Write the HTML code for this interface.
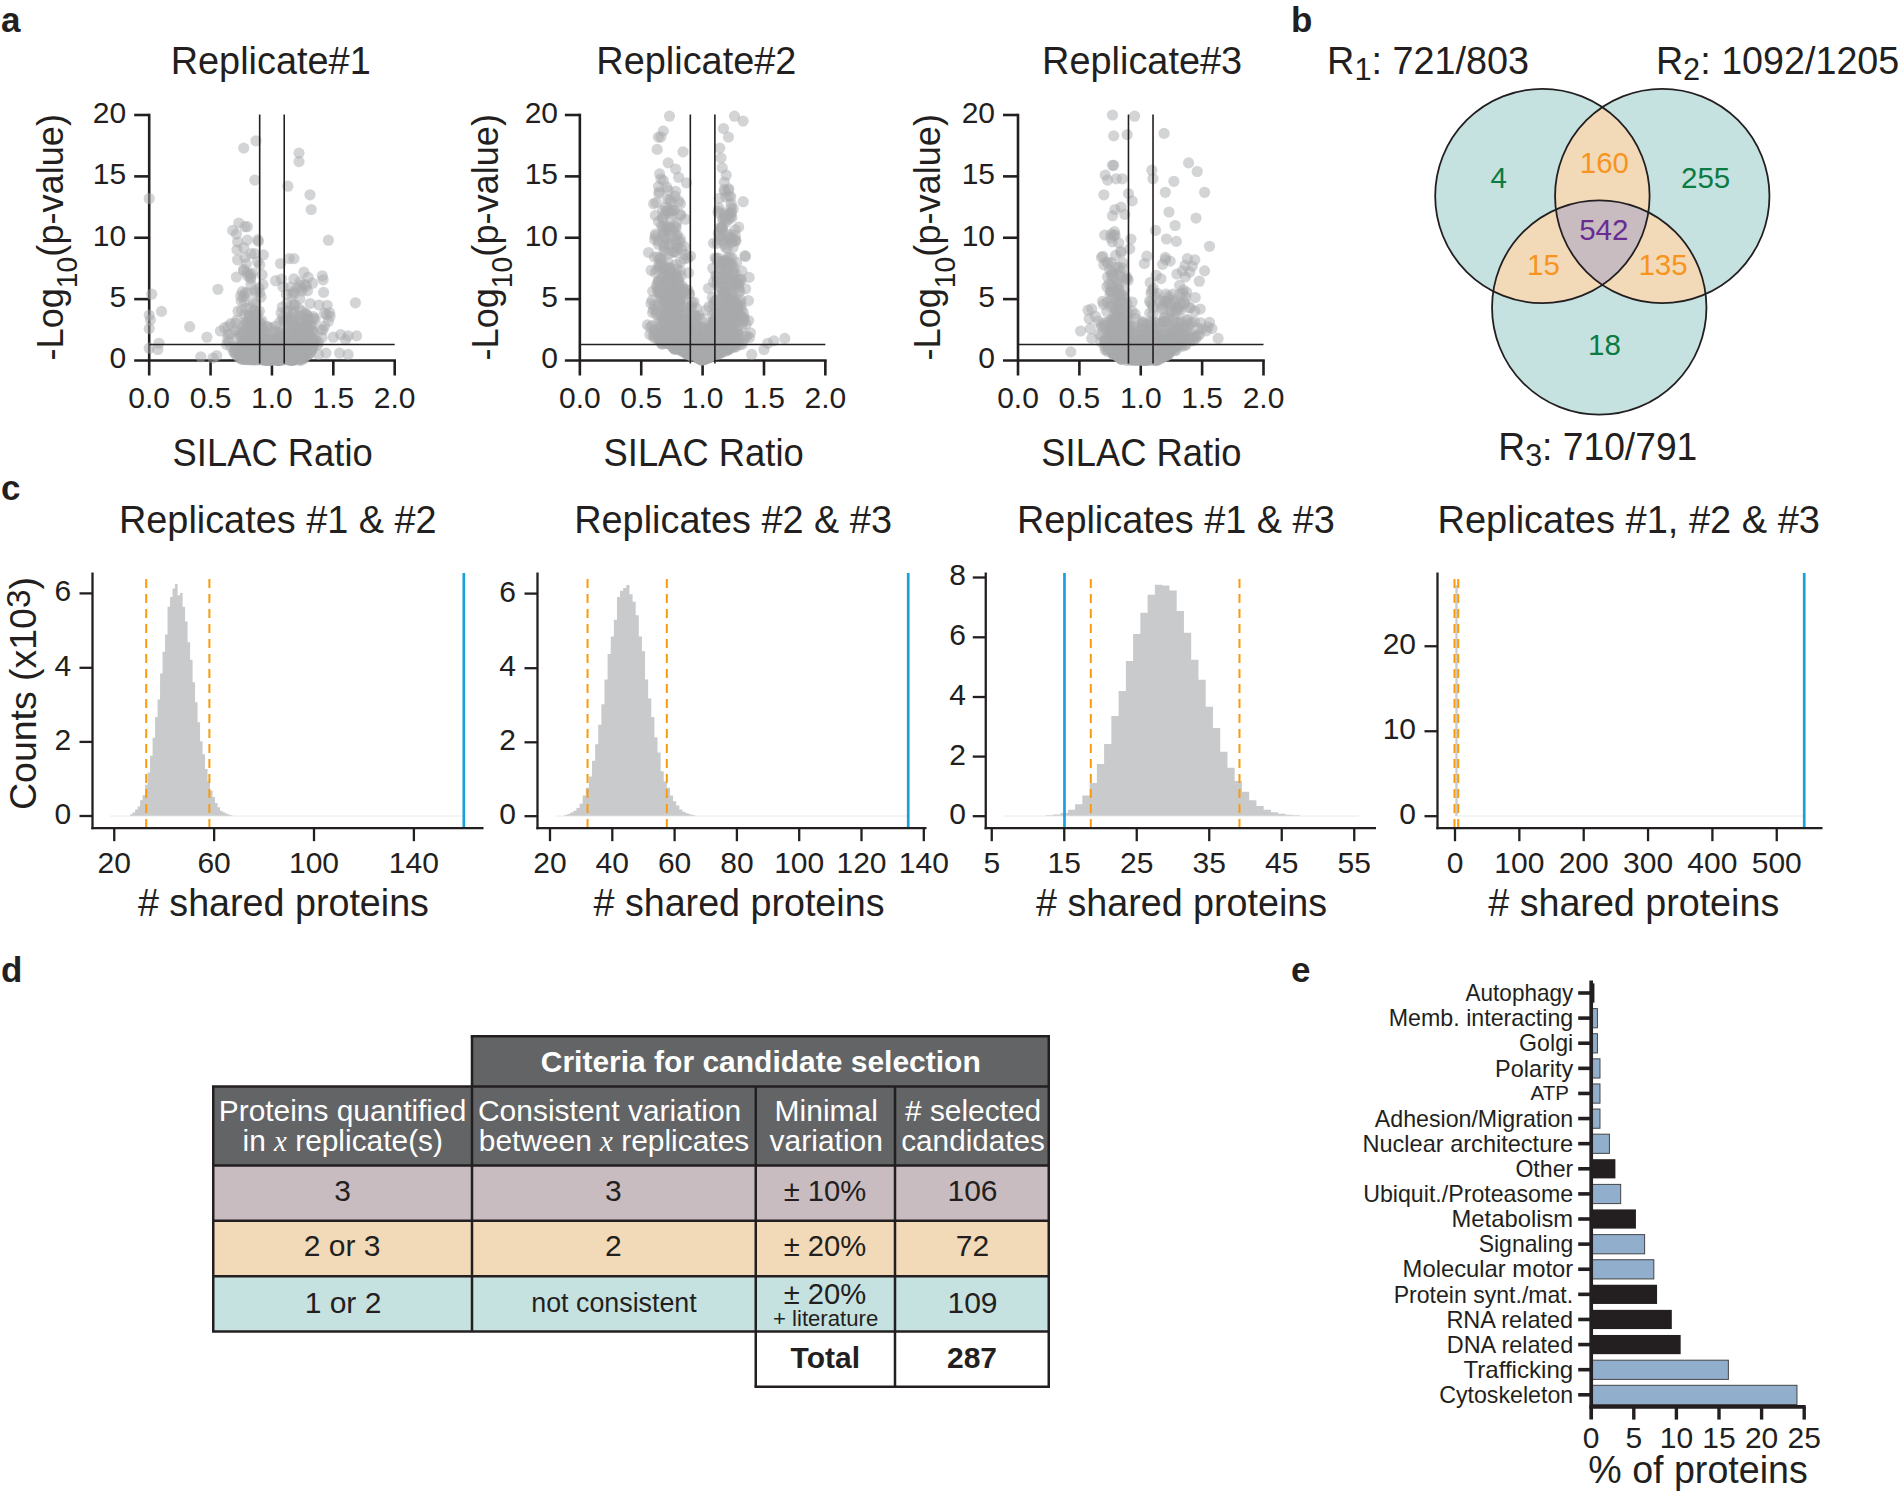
<!DOCTYPE html>
<html lang="en"><head><meta charset="utf-8"><title>Figure</title>
<style>html,body{margin:0;padding:0;background:#fff}svg{display:block}text{font-family:"Liberation Sans",Arial,Helvetica,sans-serif}</style></head>
<body>
<svg width="1900" height="1496" viewBox="0 0 1900 1496" fill="#231f20">
<rect width="1900" height="1496" fill="#ffffff"/>
<text x="1.00" y="32.00" font-size="35" font-weight="bold">a</text>
<text x="1291.00" y="32.00" font-size="35" font-weight="bold">b</text>
<text x="1.00" y="500.00" font-size="35" font-weight="bold">c</text>
<text x="1.00" y="981.50" font-size="35" font-weight="bold">d</text>
<text x="1291.00" y="981.50" font-size="35" font-weight="bold">e</text>
<line x1="149.20" y1="113.70" x2="149.20" y2="375.50" stroke="#231f20" stroke-width="2.6"/>
<line x1="134.20" y1="360.50" x2="396.00" y2="360.50" stroke="#231f20" stroke-width="2.6"/>
<line x1="134.20" y1="299.12" x2="149.20" y2="299.12" stroke="#231f20" stroke-width="2.6"/>
<line x1="134.20" y1="237.75" x2="149.20" y2="237.75" stroke="#231f20" stroke-width="2.6"/>
<line x1="134.20" y1="176.38" x2="149.20" y2="176.38" stroke="#231f20" stroke-width="2.6"/>
<line x1="134.20" y1="115.00" x2="149.20" y2="115.00" stroke="#231f20" stroke-width="2.6"/>
<line x1="210.57" y1="360.50" x2="210.57" y2="375.50" stroke="#231f20" stroke-width="2.6"/>
<line x1="271.95" y1="360.50" x2="271.95" y2="375.50" stroke="#231f20" stroke-width="2.6"/>
<line x1="333.32" y1="360.50" x2="333.32" y2="375.50" stroke="#231f20" stroke-width="2.6"/>
<line x1="394.70" y1="360.50" x2="394.70" y2="375.50" stroke="#231f20" stroke-width="2.6"/>
<g fill="#a7a9ac" fill-opacity="0.5">
<circle cx="261.7" cy="326.7" r="5.6"/><circle cx="247.7" cy="343.9" r="5.6"/><circle cx="302.7" cy="343.1" r="5.6"/><circle cx="248.2" cy="353.9" r="5.6"/><circle cx="264.1" cy="357.8" r="5.6"/><circle cx="299.7" cy="334.4" r="5.6"/><circle cx="248.8" cy="342.9" r="5.6"/><circle cx="249.3" cy="342.3" r="5.6"/><circle cx="297.2" cy="354.7" r="5.6"/><circle cx="266.2" cy="356.2" r="5.6"/><circle cx="283.7" cy="359.8" r="5.6"/><circle cx="257.5" cy="323.8" r="5.6"/><circle cx="258.4" cy="342.3" r="5.6"/><circle cx="313.6" cy="342.6" r="5.6"/><circle cx="252.1" cy="343.0" r="5.6"/><circle cx="254.9" cy="348.5" r="5.6"/><circle cx="282.4" cy="350.3" r="5.6"/><circle cx="282.7" cy="348.8" r="5.6"/><circle cx="249.7" cy="316.2" r="5.6"/><circle cx="269.0" cy="352.5" r="5.6"/><circle cx="265.5" cy="349.0" r="5.6"/><circle cx="238.3" cy="351.3" r="5.6"/><circle cx="293.6" cy="357.7" r="5.6"/><circle cx="275.8" cy="326.1" r="5.6"/><circle cx="266.9" cy="336.2" r="5.6"/><circle cx="289.7" cy="320.1" r="5.6"/><circle cx="269.6" cy="356.8" r="5.6"/><circle cx="283.7" cy="353.2" r="5.6"/><circle cx="302.5" cy="337.7" r="5.6"/><circle cx="291.9" cy="347.0" r="5.6"/><circle cx="238.0" cy="311.2" r="5.6"/><circle cx="253.0" cy="351.5" r="5.6"/><circle cx="310.7" cy="343.4" r="5.6"/><circle cx="266.6" cy="348.6" r="5.6"/><circle cx="248.6" cy="359.7" r="5.6"/><circle cx="249.9" cy="320.5" r="5.6"/><circle cx="261.1" cy="358.7" r="5.6"/><circle cx="278.2" cy="360.0" r="5.6"/><circle cx="253.7" cy="358.0" r="5.6"/><circle cx="292.1" cy="356.1" r="5.6"/><circle cx="261.1" cy="354.2" r="5.6"/><circle cx="254.0" cy="341.1" r="5.6"/><circle cx="271.2" cy="347.2" r="5.6"/><circle cx="306.6" cy="322.1" r="5.6"/><circle cx="281.2" cy="356.8" r="5.6"/><circle cx="295.5" cy="348.2" r="5.6"/><circle cx="288.8" cy="343.2" r="5.6"/><circle cx="301.4" cy="288.6" r="5.6"/><circle cx="306.2" cy="313.9" r="5.6"/><circle cx="277.4" cy="359.9" r="5.6"/><circle cx="251.8" cy="358.7" r="5.6"/><circle cx="290.3" cy="287.1" r="5.6"/><circle cx="259.8" cy="359.2" r="5.6"/><circle cx="283.9" cy="357.8" r="5.6"/><circle cx="299.6" cy="358.8" r="5.6"/><circle cx="271.7" cy="348.9" r="5.6"/><circle cx="253.1" cy="330.0" r="5.6"/><circle cx="252.5" cy="338.6" r="5.6"/><circle cx="295.1" cy="333.1" r="5.6"/><circle cx="256.2" cy="349.9" r="5.6"/><circle cx="294.3" cy="358.2" r="5.6"/><circle cx="286.4" cy="358.7" r="5.6"/><circle cx="279.9" cy="322.2" r="5.6"/><circle cx="263.5" cy="345.1" r="5.6"/><circle cx="251.1" cy="341.9" r="5.6"/><circle cx="250.7" cy="330.6" r="5.6"/><circle cx="294.8" cy="352.2" r="5.6"/><circle cx="230.0" cy="334.0" r="5.6"/><circle cx="282.7" cy="351.2" r="5.6"/><circle cx="293.2" cy="344.3" r="5.6"/><circle cx="268.4" cy="352.9" r="5.6"/><circle cx="270.3" cy="345.6" r="5.6"/><circle cx="299.8" cy="298.9" r="5.6"/><circle cx="302.4" cy="339.4" r="5.6"/><circle cx="256.4" cy="292.2" r="5.6"/><circle cx="277.7" cy="353.2" r="5.6"/><circle cx="247.0" cy="322.1" r="5.6"/><circle cx="293.1" cy="291.9" r="5.6"/><circle cx="289.5" cy="325.5" r="5.6"/><circle cx="242.5" cy="337.0" r="5.6"/><circle cx="271.3" cy="350.7" r="5.6"/><circle cx="265.5" cy="355.0" r="5.6"/><circle cx="277.0" cy="357.8" r="5.6"/><circle cx="260.4" cy="341.1" r="5.6"/><circle cx="286.9" cy="339.1" r="5.6"/><circle cx="287.9" cy="349.3" r="5.6"/><circle cx="265.0" cy="345.9" r="5.6"/><circle cx="259.0" cy="347.7" r="5.6"/><circle cx="303.1" cy="340.4" r="5.6"/><circle cx="279.6" cy="358.9" r="5.6"/><circle cx="323.0" cy="330.0" r="5.6"/><circle cx="277.6" cy="358.2" r="5.6"/><circle cx="238.1" cy="348.9" r="5.6"/><circle cx="279.9" cy="332.4" r="5.6"/><circle cx="277.6" cy="360.2" r="5.6"/><circle cx="268.7" cy="347.4" r="5.6"/><circle cx="244.6" cy="359.3" r="5.6"/><circle cx="290.4" cy="334.9" r="5.6"/><circle cx="271.3" cy="328.2" r="5.6"/><circle cx="265.3" cy="338.7" r="5.6"/><circle cx="275.0" cy="357.2" r="5.6"/><circle cx="276.5" cy="359.0" r="5.6"/><circle cx="287.8" cy="317.3" r="5.6"/><circle cx="289.9" cy="358.3" r="5.6"/><circle cx="280.3" cy="357.0" r="5.6"/><circle cx="306.6" cy="334.8" r="5.6"/><circle cx="310.7" cy="342.9" r="5.6"/><circle cx="285.7" cy="332.2" r="5.6"/><circle cx="283.7" cy="320.8" r="5.6"/><circle cx="292.1" cy="360.3" r="5.6"/><circle cx="294.4" cy="353.5" r="5.6"/><circle cx="310.0" cy="353.4" r="5.6"/><circle cx="294.7" cy="304.5" r="5.6"/><circle cx="287.0" cy="303.0" r="5.6"/><circle cx="251.9" cy="328.7" r="5.6"/><circle cx="257.9" cy="239.7" r="5.6"/><circle cx="291.6" cy="348.6" r="5.6"/><circle cx="247.0" cy="352.3" r="5.6"/><circle cx="283.5" cy="356.5" r="5.6"/><circle cx="228.6" cy="341.9" r="5.6"/><circle cx="240.6" cy="347.5" r="5.6"/><circle cx="272.8" cy="352.1" r="5.6"/><circle cx="270.9" cy="355.4" r="5.6"/><circle cx="256.7" cy="356.6" r="5.6"/><circle cx="256.3" cy="353.8" r="5.6"/><circle cx="287.6" cy="347.2" r="5.6"/><circle cx="245.0" cy="351.3" r="5.6"/><circle cx="282.7" cy="356.8" r="5.6"/><circle cx="294.9" cy="348.4" r="5.6"/><circle cx="263.9" cy="357.2" r="5.6"/><circle cx="252.7" cy="358.9" r="5.6"/><circle cx="307.6" cy="324.3" r="5.6"/><circle cx="314.6" cy="340.1" r="5.6"/><circle cx="292.5" cy="360.3" r="5.6"/><circle cx="277.2" cy="340.9" r="5.6"/><circle cx="250.3" cy="329.2" r="5.6"/><circle cx="304.6" cy="352.1" r="5.6"/><circle cx="307.7" cy="315.7" r="5.6"/><circle cx="256.0" cy="325.4" r="5.6"/><circle cx="259.6" cy="356.3" r="5.6"/><circle cx="278.9" cy="351.3" r="5.6"/><circle cx="253.1" cy="356.0" r="5.6"/><circle cx="250.9" cy="348.5" r="5.6"/><circle cx="258.0" cy="332.4" r="5.6"/><circle cx="305.7" cy="334.3" r="5.6"/><circle cx="266.6" cy="360.4" r="5.6"/><circle cx="268.2" cy="359.6" r="5.6"/><circle cx="258.0" cy="345.2" r="5.6"/><circle cx="286.1" cy="359.4" r="5.6"/><circle cx="251.3" cy="341.6" r="5.6"/><circle cx="308.6" cy="333.3" r="5.6"/><circle cx="243.3" cy="350.7" r="5.6"/><circle cx="301.2" cy="321.9" r="5.6"/><circle cx="274.9" cy="331.7" r="5.6"/><circle cx="293.9" cy="278.9" r="5.6"/><circle cx="268.9" cy="354.1" r="5.6"/><circle cx="247.2" cy="340.7" r="5.6"/><circle cx="298.4" cy="354.7" r="5.6"/><circle cx="280.5" cy="349.8" r="5.6"/><circle cx="271.1" cy="351.5" r="5.6"/><circle cx="294.2" cy="293.9" r="5.6"/><circle cx="291.9" cy="335.0" r="5.6"/><circle cx="235.6" cy="330.9" r="5.6"/><circle cx="306.1" cy="339.6" r="5.6"/><circle cx="301.0" cy="338.9" r="5.6"/><circle cx="278.2" cy="353.3" r="5.6"/><circle cx="260.3" cy="350.5" r="5.6"/><circle cx="312.3" cy="331.4" r="5.6"/><circle cx="250.6" cy="352.5" r="5.6"/><circle cx="304.8" cy="340.6" r="5.6"/><circle cx="285.2" cy="351.2" r="5.6"/><circle cx="274.6" cy="340.4" r="5.6"/><circle cx="259.3" cy="332.0" r="5.6"/><circle cx="307.1" cy="355.0" r="5.6"/><circle cx="285.6" cy="351.3" r="5.6"/><circle cx="264.5" cy="353.3" r="5.6"/><circle cx="230.7" cy="323.6" r="5.6"/><circle cx="245.9" cy="347.0" r="5.6"/><circle cx="256.4" cy="355.3" r="5.6"/><circle cx="280.5" cy="347.0" r="5.6"/><circle cx="298.5" cy="341.9" r="5.6"/><circle cx="299.9" cy="346.0" r="5.6"/><circle cx="287.9" cy="357.0" r="5.6"/><circle cx="289.9" cy="351.4" r="5.6"/><circle cx="288.1" cy="348.5" r="5.6"/><circle cx="299.7" cy="315.9" r="5.6"/><circle cx="272.2" cy="360.4" r="5.6"/><circle cx="272.2" cy="355.8" r="5.6"/><circle cx="305.1" cy="351.6" r="5.6"/><circle cx="297.6" cy="336.9" r="5.6"/><circle cx="253.8" cy="356.5" r="5.6"/><circle cx="299.1" cy="340.0" r="5.6"/><circle cx="243.3" cy="355.2" r="5.6"/><circle cx="259.5" cy="333.0" r="5.6"/><circle cx="276.0" cy="360.2" r="5.6"/><circle cx="228.1" cy="334.2" r="5.6"/><circle cx="309.4" cy="343.9" r="5.6"/><circle cx="268.3" cy="358.7" r="5.6"/><circle cx="279.9" cy="343.9" r="5.6"/><circle cx="293.8" cy="358.9" r="5.6"/><circle cx="302.9" cy="350.1" r="5.6"/><circle cx="279.3" cy="357.0" r="5.6"/><circle cx="296.7" cy="333.6" r="5.6"/><circle cx="297.9" cy="355.3" r="5.6"/><circle cx="278.5" cy="338.3" r="5.6"/><circle cx="258.0" cy="346.1" r="5.6"/><circle cx="293.2" cy="313.2" r="5.6"/><circle cx="294.1" cy="350.5" r="5.6"/><circle cx="268.2" cy="360.4" r="5.6"/><circle cx="302.4" cy="347.3" r="5.6"/><circle cx="246.2" cy="341.2" r="5.6"/><circle cx="250.9" cy="342.1" r="5.6"/><circle cx="312.1" cy="346.7" r="5.6"/><circle cx="253.2" cy="340.7" r="5.6"/><circle cx="270.8" cy="358.1" r="5.6"/><circle cx="298.7" cy="341.1" r="5.6"/><circle cx="275.6" cy="358.5" r="5.6"/><circle cx="293.3" cy="326.6" r="5.6"/><circle cx="244.7" cy="314.8" r="5.6"/><circle cx="319.0" cy="305.0" r="5.6"/><circle cx="245.4" cy="292.9" r="5.6"/><circle cx="238.2" cy="353.4" r="5.6"/><circle cx="257.1" cy="351.1" r="5.6"/><circle cx="303.9" cy="345.3" r="5.6"/><circle cx="253.2" cy="358.0" r="5.6"/><circle cx="299.0" cy="320.6" r="5.6"/><circle cx="254.4" cy="355.7" r="5.6"/><circle cx="299.5" cy="309.1" r="5.6"/><circle cx="284.1" cy="351.3" r="5.6"/><circle cx="273.4" cy="351.9" r="5.6"/><circle cx="262.1" cy="350.8" r="5.6"/><circle cx="244.7" cy="354.7" r="5.6"/><circle cx="265.9" cy="352.9" r="5.6"/><circle cx="273.2" cy="357.2" r="5.6"/><circle cx="246.7" cy="357.7" r="5.6"/><circle cx="251.8" cy="346.1" r="5.6"/><circle cx="278.5" cy="360.1" r="5.6"/><circle cx="256.3" cy="332.6" r="5.6"/><circle cx="287.5" cy="311.2" r="5.6"/><circle cx="271.2" cy="353.5" r="5.6"/><circle cx="282.5" cy="345.6" r="5.6"/><circle cx="262.1" cy="359.3" r="5.6"/><circle cx="296.4" cy="353.4" r="5.6"/><circle cx="251.2" cy="355.6" r="5.6"/><circle cx="267.5" cy="358.7" r="5.6"/><circle cx="268.9" cy="340.5" r="5.6"/><circle cx="299.5" cy="341.1" r="5.6"/><circle cx="243.8" cy="359.2" r="5.6"/><circle cx="278.9" cy="360.0" r="5.6"/><circle cx="305.2" cy="327.3" r="5.6"/><circle cx="293.7" cy="351.6" r="5.6"/><circle cx="291.5" cy="346.2" r="5.6"/><circle cx="283.8" cy="347.3" r="5.6"/><circle cx="252.9" cy="353.7" r="5.6"/><circle cx="308.3" cy="345.7" r="5.6"/><circle cx="302.3" cy="355.8" r="5.6"/><circle cx="279.6" cy="356.6" r="5.6"/><circle cx="293.1" cy="333.6" r="5.6"/><circle cx="292.1" cy="346.7" r="5.6"/><circle cx="251.5" cy="350.9" r="5.6"/><circle cx="286.3" cy="311.1" r="5.6"/><circle cx="258.6" cy="346.9" r="5.6"/><circle cx="235.4" cy="323.2" r="5.6"/><circle cx="246.1" cy="350.9" r="5.6"/><circle cx="298.2" cy="352.9" r="5.6"/><circle cx="279.8" cy="356.9" r="5.6"/><circle cx="233.9" cy="351.5" r="5.6"/><circle cx="288.6" cy="347.6" r="5.6"/><circle cx="296.4" cy="355.6" r="5.6"/><circle cx="256.5" cy="344.6" r="5.6"/><circle cx="313.5" cy="316.5" r="5.6"/><circle cx="239.2" cy="335.1" r="5.6"/><circle cx="305.0" cy="343.4" r="5.6"/><circle cx="277.6" cy="349.3" r="5.6"/><circle cx="289.0" cy="345.8" r="5.6"/><circle cx="241.7" cy="355.2" r="5.6"/><circle cx="249.2" cy="340.4" r="5.6"/><circle cx="281.2" cy="339.8" r="5.6"/><circle cx="256.6" cy="347.8" r="5.6"/><circle cx="303.0" cy="353.3" r="5.6"/><circle cx="251.0" cy="284.7" r="5.6"/><circle cx="291.2" cy="354.6" r="5.6"/><circle cx="299.2" cy="351.4" r="5.6"/><circle cx="291.7" cy="341.1" r="5.6"/><circle cx="280.0" cy="359.2" r="5.6"/><circle cx="300.7" cy="327.9" r="5.6"/><circle cx="282.3" cy="307.0" r="5.6"/><circle cx="297.5" cy="288.1" r="5.6"/><circle cx="247.5" cy="344.6" r="5.6"/><circle cx="284.9" cy="356.2" r="5.6"/><circle cx="278.3" cy="350.4" r="5.6"/><circle cx="280.5" cy="360.3" r="5.6"/><circle cx="278.0" cy="359.8" r="5.6"/><circle cx="258.4" cy="332.8" r="5.6"/><circle cx="291.2" cy="356.0" r="5.6"/><circle cx="246.0" cy="351.8" r="5.6"/><circle cx="266.8" cy="348.9" r="5.6"/><circle cx="274.4" cy="349.8" r="5.6"/><circle cx="237.0" cy="249.8" r="5.6"/><circle cx="274.7" cy="351.7" r="5.6"/><circle cx="257.0" cy="357.7" r="5.6"/><circle cx="296.8" cy="340.9" r="5.6"/><circle cx="277.6" cy="355.4" r="5.6"/><circle cx="246.3" cy="263.9" r="5.6"/><circle cx="294.1" cy="360.1" r="5.6"/><circle cx="267.9" cy="326.6" r="5.6"/><circle cx="255.9" cy="337.3" r="5.6"/><circle cx="286.5" cy="339.3" r="5.6"/><circle cx="292.3" cy="338.6" r="5.6"/><circle cx="289.3" cy="358.3" r="5.6"/><circle cx="266.5" cy="326.8" r="5.6"/><circle cx="291.9" cy="304.8" r="5.6"/><circle cx="265.5" cy="348.9" r="5.6"/><circle cx="301.2" cy="345.0" r="5.6"/><circle cx="284.9" cy="341.9" r="5.6"/><circle cx="278.4" cy="360.0" r="5.6"/><circle cx="286.8" cy="320.2" r="5.6"/><circle cx="289.1" cy="359.7" r="5.6"/><circle cx="297.2" cy="331.4" r="5.6"/><circle cx="295.4" cy="357.1" r="5.6"/><circle cx="261.5" cy="359.5" r="5.6"/><circle cx="248.3" cy="348.6" r="5.6"/><circle cx="263.7" cy="357.3" r="5.6"/><circle cx="246.2" cy="326.2" r="5.6"/><circle cx="284.0" cy="350.3" r="5.6"/><circle cx="267.3" cy="349.4" r="5.6"/><circle cx="296.3" cy="347.0" r="5.6"/><circle cx="255.4" cy="353.5" r="5.6"/><circle cx="282.5" cy="354.6" r="5.6"/><circle cx="308.2" cy="277.3" r="5.6"/><circle cx="266.7" cy="350.6" r="5.6"/><circle cx="244.9" cy="349.3" r="5.6"/><circle cx="301.8" cy="352.8" r="5.6"/><circle cx="290.3" cy="318.3" r="5.6"/><circle cx="275.6" cy="359.9" r="5.6"/><circle cx="305.5" cy="313.9" r="5.6"/><circle cx="261.3" cy="352.0" r="5.6"/><circle cx="252.7" cy="352.7" r="5.6"/><circle cx="251.2" cy="346.1" r="5.6"/><circle cx="266.2" cy="353.9" r="5.6"/><circle cx="268.6" cy="360.2" r="5.6"/><circle cx="266.0" cy="354.3" r="5.6"/><circle cx="284.3" cy="347.4" r="5.6"/><circle cx="273.1" cy="355.8" r="5.6"/><circle cx="253.2" cy="359.0" r="5.6"/><circle cx="259.6" cy="348.0" r="5.6"/><circle cx="263.2" cy="338.0" r="5.6"/><circle cx="292.0" cy="342.3" r="5.6"/><circle cx="277.6" cy="358.6" r="5.6"/><circle cx="230.8" cy="346.8" r="5.6"/><circle cx="270.8" cy="343.7" r="5.6"/><circle cx="305.0" cy="284.6" r="5.6"/><circle cx="292.3" cy="335.2" r="5.6"/><circle cx="291.8" cy="294.0" r="5.6"/><circle cx="297.1" cy="336.3" r="5.6"/><circle cx="310.7" cy="346.9" r="5.6"/><circle cx="241.5" cy="310.4" r="5.6"/><circle cx="278.6" cy="360.4" r="5.6"/><circle cx="296.9" cy="325.6" r="5.6"/><circle cx="287.9" cy="353.1" r="5.6"/><circle cx="247.3" cy="359.7" r="5.6"/><circle cx="294.1" cy="347.0" r="5.6"/><circle cx="246.9" cy="346.5" r="5.6"/><circle cx="242.7" cy="343.6" r="5.6"/><circle cx="255.0" cy="338.3" r="5.6"/><circle cx="247.1" cy="272.5" r="5.6"/><circle cx="288.6" cy="349.8" r="5.6"/><circle cx="254.3" cy="344.0" r="5.6"/><circle cx="234.0" cy="352.0" r="5.6"/><circle cx="299.7" cy="328.8" r="5.6"/><circle cx="301.4" cy="350.8" r="5.6"/><circle cx="253.6" cy="354.8" r="5.6"/><circle cx="251.3" cy="339.2" r="5.6"/><circle cx="248.5" cy="343.6" r="5.6"/><circle cx="285.9" cy="343.2" r="5.6"/><circle cx="307.5" cy="341.8" r="5.6"/><circle cx="297.5" cy="342.9" r="5.6"/><circle cx="237.6" cy="242.0" r="5.6"/><circle cx="284.8" cy="321.7" r="5.6"/><circle cx="288.2" cy="352.4" r="5.6"/><circle cx="268.9" cy="356.6" r="5.6"/><circle cx="303.9" cy="336.6" r="5.6"/><circle cx="243.6" cy="269.4" r="5.6"/><circle cx="259.3" cy="355.2" r="5.6"/><circle cx="262.2" cy="354.0" r="5.6"/><circle cx="318.5" cy="342.2" r="5.6"/><circle cx="249.0" cy="344.1" r="5.6"/><circle cx="277.2" cy="360.0" r="5.6"/><circle cx="260.2" cy="357.8" r="5.6"/><circle cx="293.2" cy="359.8" r="5.6"/><circle cx="250.7" cy="278.8" r="5.6"/><circle cx="287.2" cy="357.9" r="5.6"/><circle cx="256.9" cy="346.0" r="5.6"/><circle cx="300.5" cy="343.6" r="5.6"/><circle cx="265.6" cy="357.7" r="5.6"/><circle cx="282.6" cy="317.8" r="5.6"/><circle cx="286.5" cy="345.4" r="5.6"/><circle cx="292.0" cy="350.0" r="5.6"/><circle cx="324.5" cy="326.1" r="5.6"/><circle cx="306.9" cy="346.3" r="5.6"/><circle cx="300.6" cy="355.9" r="5.6"/><circle cx="259.7" cy="322.0" r="5.6"/><circle cx="295.5" cy="343.9" r="5.6"/><circle cx="302.7" cy="344.3" r="5.6"/><circle cx="250.5" cy="343.8" r="5.6"/><circle cx="253.2" cy="326.8" r="5.6"/><circle cx="276.7" cy="351.7" r="5.6"/><circle cx="251.8" cy="359.4" r="5.6"/><circle cx="300.3" cy="352.8" r="5.6"/><circle cx="279.2" cy="357.3" r="5.6"/><circle cx="258.8" cy="354.1" r="5.6"/><circle cx="314.0" cy="318.4" r="5.6"/><circle cx="310.5" cy="326.1" r="5.6"/><circle cx="303.5" cy="335.2" r="5.6"/><circle cx="268.8" cy="357.5" r="5.6"/><circle cx="257.4" cy="357.7" r="5.6"/><circle cx="250.8" cy="341.9" r="5.6"/><circle cx="258.4" cy="353.2" r="5.6"/><circle cx="263.7" cy="353.3" r="5.6"/><circle cx="301.3" cy="345.2" r="5.6"/><circle cx="323.6" cy="292.4" r="5.6"/><circle cx="299.5" cy="345.9" r="5.6"/><circle cx="310.1" cy="303.5" r="5.6"/><circle cx="278.4" cy="360.5" r="5.6"/><circle cx="244.4" cy="358.4" r="5.6"/><circle cx="239.9" cy="346.3" r="5.6"/><circle cx="281.1" cy="360.1" r="5.6"/><circle cx="239.1" cy="353.2" r="5.6"/><circle cx="330.1" cy="316.3" r="5.6"/><circle cx="265.8" cy="345.4" r="5.6"/><circle cx="297.2" cy="343.1" r="5.6"/><circle cx="292.3" cy="354.6" r="5.6"/><circle cx="253.5" cy="337.9" r="5.6"/><circle cx="276.8" cy="359.5" r="5.6"/><circle cx="312.9" cy="339.9" r="5.6"/><circle cx="255.5" cy="335.0" r="5.6"/><circle cx="307.8" cy="319.6" r="5.6"/><circle cx="260.3" cy="341.4" r="5.6"/><circle cx="296.4" cy="357.4" r="5.6"/><circle cx="278.6" cy="356.7" r="5.6"/><circle cx="302.1" cy="291.0" r="5.6"/><circle cx="248.4" cy="345.8" r="5.6"/><circle cx="279.0" cy="355.0" r="5.6"/><circle cx="242.4" cy="357.7" r="5.6"/><circle cx="287.6" cy="353.4" r="5.6"/><circle cx="240.4" cy="352.8" r="5.6"/><circle cx="244.9" cy="352.6" r="5.6"/><circle cx="267.2" cy="358.3" r="5.6"/><circle cx="256.1" cy="353.5" r="5.6"/><circle cx="284.3" cy="357.5" r="5.6"/><circle cx="256.2" cy="319.7" r="5.6"/><circle cx="289.6" cy="333.0" r="5.6"/><circle cx="262.1" cy="330.6" r="5.6"/><circle cx="275.4" cy="351.2" r="5.6"/><circle cx="259.8" cy="292.8" r="5.6"/><circle cx="257.4" cy="359.7" r="5.6"/><circle cx="301.7" cy="340.1" r="5.6"/><circle cx="255.5" cy="358.0" r="5.6"/><circle cx="253.7" cy="359.1" r="5.6"/><circle cx="224.6" cy="327.7" r="5.6"/><circle cx="280.1" cy="342.9" r="5.6"/><circle cx="236.8" cy="320.4" r="5.6"/><circle cx="255.3" cy="351.7" r="5.6"/><circle cx="301.3" cy="359.4" r="5.6"/><circle cx="277.6" cy="356.8" r="5.6"/><circle cx="294.0" cy="348.2" r="5.6"/><circle cx="245.5" cy="353.9" r="5.6"/><circle cx="285.5" cy="344.8" r="5.6"/><circle cx="249.6" cy="354.1" r="5.6"/><circle cx="248.6" cy="355.0" r="5.6"/><circle cx="291.9" cy="356.1" r="5.6"/><circle cx="286.6" cy="337.5" r="5.6"/><circle cx="296.9" cy="357.8" r="5.6"/><circle cx="268.9" cy="347.7" r="5.6"/><circle cx="298.8" cy="341.3" r="5.6"/><circle cx="283.1" cy="358.7" r="5.6"/><circle cx="298.7" cy="354.2" r="5.6"/><circle cx="266.3" cy="341.5" r="5.6"/><circle cx="251.7" cy="324.1" r="5.6"/><circle cx="244.4" cy="330.4" r="5.6"/><circle cx="260.3" cy="323.2" r="5.6"/><circle cx="280.8" cy="351.2" r="5.6"/><circle cx="241.7" cy="354.4" r="5.6"/><circle cx="265.0" cy="357.9" r="5.6"/><circle cx="295.1" cy="358.2" r="5.6"/><circle cx="255.6" cy="355.3" r="5.6"/><circle cx="268.5" cy="352.3" r="5.6"/><circle cx="304.2" cy="357.9" r="5.6"/><circle cx="255.1" cy="314.5" r="5.6"/><circle cx="259.3" cy="357.4" r="5.6"/><circle cx="315.9" cy="339.2" r="5.6"/><circle cx="306.3" cy="329.0" r="5.6"/><circle cx="283.1" cy="336.2" r="5.6"/><circle cx="292.9" cy="353.7" r="5.6"/><circle cx="280.8" cy="332.3" r="5.6"/><circle cx="291.4" cy="353.2" r="5.6"/><circle cx="293.5" cy="338.0" r="5.6"/><circle cx="251.7" cy="338.0" r="5.6"/><circle cx="268.3" cy="353.7" r="5.6"/><circle cx="299.7" cy="319.6" r="5.6"/><circle cx="294.6" cy="305.1" r="5.6"/><circle cx="257.9" cy="341.6" r="5.6"/><circle cx="273.2" cy="339.1" r="5.6"/><circle cx="260.2" cy="358.7" r="5.6"/><circle cx="241.1" cy="355.9" r="5.6"/><circle cx="247.9" cy="331.5" r="5.6"/><circle cx="308.4" cy="349.1" r="5.6"/><circle cx="306.1" cy="350.7" r="5.6"/><circle cx="277.7" cy="358.1" r="5.6"/><circle cx="294.2" cy="348.2" r="5.6"/><circle cx="270.0" cy="360.3" r="5.6"/><circle cx="235.5" cy="347.7" r="5.6"/><circle cx="243.9" cy="325.3" r="5.6"/><circle cx="308.7" cy="344.1" r="5.6"/><circle cx="251.7" cy="348.7" r="5.6"/><circle cx="302.7" cy="357.4" r="5.6"/><circle cx="238.6" cy="350.9" r="5.6"/><circle cx="245.6" cy="359.2" r="5.6"/><circle cx="255.5" cy="350.7" r="5.6"/><circle cx="295.2" cy="333.6" r="5.6"/><circle cx="261.8" cy="351.7" r="5.6"/><circle cx="262.6" cy="358.2" r="5.6"/><circle cx="291.7" cy="355.7" r="5.6"/><circle cx="251.3" cy="350.8" r="5.6"/><circle cx="255.9" cy="303.8" r="5.6"/><circle cx="249.9" cy="351.8" r="5.6"/><circle cx="247.2" cy="345.0" r="5.6"/><circle cx="271.0" cy="359.8" r="5.6"/><circle cx="242.3" cy="291.6" r="5.6"/><circle cx="228.1" cy="326.5" r="5.6"/><circle cx="269.7" cy="358.0" r="5.6"/><circle cx="245.0" cy="342.9" r="5.6"/><circle cx="312.4" cy="338.8" r="5.6"/><circle cx="251.8" cy="340.7" r="5.6"/><circle cx="248.8" cy="350.9" r="5.6"/><circle cx="265.4" cy="356.3" r="5.6"/><circle cx="296.2" cy="343.9" r="5.6"/><circle cx="293.6" cy="355.6" r="5.6"/><circle cx="303.3" cy="354.8" r="5.6"/><circle cx="263.0" cy="284.6" r="5.6"/><circle cx="255.2" cy="338.9" r="5.6"/><circle cx="291.6" cy="350.5" r="5.6"/><circle cx="259.3" cy="345.1" r="5.6"/><circle cx="252.0" cy="339.0" r="5.6"/><circle cx="274.4" cy="344.9" r="5.6"/><circle cx="262.8" cy="360.1" r="5.6"/><circle cx="279.8" cy="356.5" r="5.6"/><circle cx="273.6" cy="358.6" r="5.6"/><circle cx="273.5" cy="357.2" r="5.6"/><circle cx="294.0" cy="353.2" r="5.6"/><circle cx="266.2" cy="355.9" r="5.6"/><circle cx="241.5" cy="332.4" r="5.6"/><circle cx="247.3" cy="240.1" r="5.6"/><circle cx="241.8" cy="358.1" r="5.6"/><circle cx="252.8" cy="340.3" r="5.6"/><circle cx="293.2" cy="356.7" r="5.6"/><circle cx="256.0" cy="348.9" r="5.6"/><circle cx="302.1" cy="356.1" r="5.6"/><circle cx="250.6" cy="329.5" r="5.6"/><circle cx="278.5" cy="345.9" r="5.6"/><circle cx="258.3" cy="352.9" r="5.6"/><circle cx="241.2" cy="300.9" r="5.6"/><circle cx="275.1" cy="348.6" r="5.6"/><circle cx="251.9" cy="352.0" r="5.6"/><circle cx="264.9" cy="360.4" r="5.6"/><circle cx="299.0" cy="347.2" r="5.6"/><circle cx="312.0" cy="330.5" r="5.6"/><circle cx="288.4" cy="353.4" r="5.6"/><circle cx="249.3" cy="351.2" r="5.6"/><circle cx="282.3" cy="351.8" r="5.6"/><circle cx="274.5" cy="359.4" r="5.6"/><circle cx="305.5" cy="349.4" r="5.6"/><circle cx="248.8" cy="337.9" r="5.6"/><circle cx="262.0" cy="347.0" r="5.6"/><circle cx="245.6" cy="355.3" r="5.6"/><circle cx="291.0" cy="356.0" r="5.6"/><circle cx="244.6" cy="334.9" r="5.6"/><circle cx="322.0" cy="337.4" r="5.6"/><circle cx="246.0" cy="321.4" r="5.6"/><circle cx="250.3" cy="274.5" r="5.6"/><circle cx="257.2" cy="313.4" r="5.6"/><circle cx="240.9" cy="354.8" r="5.6"/><circle cx="257.3" cy="350.8" r="5.6"/><circle cx="245.5" cy="351.9" r="5.6"/><circle cx="250.1" cy="307.7" r="5.6"/><circle cx="290.2" cy="347.0" r="5.6"/><circle cx="290.5" cy="350.9" r="5.6"/><circle cx="251.9" cy="339.2" r="5.6"/><circle cx="259.2" cy="350.3" r="5.6"/><circle cx="254.8" cy="310.6" r="5.6"/><circle cx="245.2" cy="344.2" r="5.6"/><circle cx="268.5" cy="353.7" r="5.6"/><circle cx="247.7" cy="323.0" r="5.6"/><circle cx="307.5" cy="290.7" r="5.6"/><circle cx="269.1" cy="356.3" r="5.6"/><circle cx="251.2" cy="332.0" r="5.6"/><circle cx="240.3" cy="353.4" r="5.6"/><circle cx="255.2" cy="290.0" r="5.6"/><circle cx="281.1" cy="312.9" r="5.6"/><circle cx="227.6" cy="338.6" r="5.6"/><circle cx="308.6" cy="354.1" r="5.6"/><circle cx="264.7" cy="349.1" r="5.6"/><circle cx="255.0" cy="348.1" r="5.6"/><circle cx="279.4" cy="359.8" r="5.6"/><circle cx="270.9" cy="359.0" r="5.6"/><circle cx="258.5" cy="359.9" r="5.6"/><circle cx="304.1" cy="358.5" r="5.6"/><circle cx="273.1" cy="357.8" r="5.6"/><circle cx="310.1" cy="349.0" r="5.6"/><circle cx="269.4" cy="354.3" r="5.6"/><circle cx="261.3" cy="344.9" r="5.6"/><circle cx="281.7" cy="350.7" r="5.6"/><circle cx="299.7" cy="327.1" r="5.6"/><circle cx="284.3" cy="355.0" r="5.6"/><circle cx="324.5" cy="313.2" r="5.6"/><circle cx="249.5" cy="314.8" r="5.6"/><circle cx="235.8" cy="354.4" r="5.6"/><circle cx="261.9" cy="347.7" r="5.6"/><circle cx="302.2" cy="311.4" r="5.6"/><circle cx="317.4" cy="345.0" r="5.6"/><circle cx="287.5" cy="356.7" r="5.6"/><circle cx="243.8" cy="350.7" r="5.6"/><circle cx="302.7" cy="349.5" r="5.6"/><circle cx="272.0" cy="353.9" r="5.6"/><circle cx="300.2" cy="352.6" r="5.6"/><circle cx="257.5" cy="261.8" r="5.6"/><circle cx="306.8" cy="335.2" r="5.6"/><circle cx="297.1" cy="358.5" r="5.6"/><circle cx="256.1" cy="344.6" r="5.6"/><circle cx="285.9" cy="342.9" r="5.6"/><circle cx="253.1" cy="346.3" r="5.6"/><circle cx="271.5" cy="352.0" r="5.6"/><circle cx="287.1" cy="354.7" r="5.6"/><circle cx="270.8" cy="352.0" r="5.6"/><circle cx="237.2" cy="338.4" r="5.6"/><circle cx="264.4" cy="344.9" r="5.6"/><circle cx="279.9" cy="336.5" r="5.6"/><circle cx="251.6" cy="355.8" r="5.6"/><circle cx="293.7" cy="352.4" r="5.6"/><circle cx="273.3" cy="359.6" r="5.6"/><circle cx="291.3" cy="341.6" r="5.6"/><circle cx="257.6" cy="332.1" r="5.6"/><circle cx="288.6" cy="354.4" r="5.6"/><circle cx="261.8" cy="345.7" r="5.6"/><circle cx="307.3" cy="318.6" r="5.6"/><circle cx="262.9" cy="354.4" r="5.6"/><circle cx="301.0" cy="342.3" r="5.6"/><circle cx="261.0" cy="297.1" r="5.6"/><circle cx="255.9" cy="345.2" r="5.6"/><circle cx="247.6" cy="292.9" r="5.6"/><circle cx="270.0" cy="336.9" r="5.6"/><circle cx="289.3" cy="353.9" r="5.6"/><circle cx="308.7" cy="333.9" r="5.6"/><circle cx="292.8" cy="320.9" r="5.6"/><circle cx="287.2" cy="357.0" r="5.6"/><circle cx="254.0" cy="360.2" r="5.6"/><circle cx="273.5" cy="357.3" r="5.6"/><circle cx="289.3" cy="327.6" r="5.6"/><circle cx="306.6" cy="331.9" r="5.6"/><circle cx="286.8" cy="355.9" r="5.6"/><circle cx="265.5" cy="356.0" r="5.6"/><circle cx="289.5" cy="350.8" r="5.6"/><circle cx="321.2" cy="329.6" r="5.6"/><circle cx="297.8" cy="352.5" r="5.6"/><circle cx="248.1" cy="357.5" r="5.6"/><circle cx="252.0" cy="355.9" r="5.6"/><circle cx="270.1" cy="348.3" r="5.6"/><circle cx="266.1" cy="359.7" r="5.6"/><circle cx="244.1" cy="341.7" r="5.6"/><circle cx="259.7" cy="351.5" r="5.6"/><circle cx="253.4" cy="349.5" r="5.6"/><circle cx="265.2" cy="345.8" r="5.6"/><circle cx="272.2" cy="357.6" r="5.6"/><circle cx="244.5" cy="349.2" r="5.6"/><circle cx="253.2" cy="355.3" r="5.6"/><circle cx="269.4" cy="358.5" r="5.6"/><circle cx="307.3" cy="351.0" r="5.6"/><circle cx="290.8" cy="328.3" r="5.6"/><circle cx="240.7" cy="295.8" r="5.6"/><circle cx="291.1" cy="356.5" r="5.6"/><circle cx="263.1" cy="358.5" r="5.6"/><circle cx="280.9" cy="347.1" r="5.6"/><circle cx="281.5" cy="279.0" r="5.6"/><circle cx="294.3" cy="356.8" r="5.6"/><circle cx="274.5" cy="356.7" r="5.6"/><circle cx="289.4" cy="360.3" r="5.6"/><circle cx="300.0" cy="281.9" r="5.6"/><circle cx="250.3" cy="359.7" r="5.6"/><circle cx="294.9" cy="357.9" r="5.6"/><circle cx="243.6" cy="296.7" r="5.6"/><circle cx="308.6" cy="330.9" r="5.6"/><circle cx="250.9" cy="320.9" r="5.6"/><circle cx="254.5" cy="310.5" r="5.6"/><circle cx="298.8" cy="352.1" r="5.6"/><circle cx="290.1" cy="357.2" r="5.6"/><circle cx="246.3" cy="308.6" r="5.6"/><circle cx="255.0" cy="315.5" r="5.6"/><circle cx="302.3" cy="356.7" r="5.6"/><circle cx="285.9" cy="358.0" r="5.6"/><circle cx="323.1" cy="279.8" r="5.6"/><circle cx="269.2" cy="360.2" r="5.6"/><circle cx="266.8" cy="354.1" r="5.6"/><circle cx="276.7" cy="354.2" r="5.6"/><circle cx="253.7" cy="302.4" r="5.6"/><circle cx="307.0" cy="349.1" r="5.6"/><circle cx="259.5" cy="353.0" r="5.6"/><circle cx="239.7" cy="357.8" r="5.6"/><circle cx="302.5" cy="334.8" r="5.6"/><circle cx="249.5" cy="316.9" r="5.6"/><circle cx="298.2" cy="358.4" r="5.6"/><circle cx="269.4" cy="358.2" r="5.6"/><circle cx="311.3" cy="351.2" r="5.6"/><circle cx="286.4" cy="294.6" r="5.6"/><circle cx="300.9" cy="360.4" r="5.6"/><circle cx="249.4" cy="353.2" r="5.6"/><circle cx="295.6" cy="316.9" r="5.6"/><circle cx="305.4" cy="351.4" r="5.6"/><circle cx="238.9" cy="357.6" r="5.6"/><circle cx="299.0" cy="333.4" r="5.6"/><circle cx="249.9" cy="332.9" r="5.6"/><circle cx="291.2" cy="334.2" r="5.6"/><circle cx="283.1" cy="358.2" r="5.6"/><circle cx="251.7" cy="358.6" r="5.6"/><circle cx="312.1" cy="324.9" r="5.6"/><circle cx="273.1" cy="338.7" r="5.6"/><circle cx="252.9" cy="351.9" r="5.6"/><circle cx="262.8" cy="333.6" r="5.6"/><circle cx="255.4" cy="346.1" r="5.6"/><circle cx="269.5" cy="350.8" r="5.6"/><circle cx="283.6" cy="358.9" r="5.6"/><circle cx="272.6" cy="355.6" r="5.6"/><circle cx="293.9" cy="359.2" r="5.6"/><circle cx="265.7" cy="360.0" r="5.6"/><circle cx="269.3" cy="354.7" r="5.6"/><circle cx="277.2" cy="359.5" r="5.6"/><circle cx="293.3" cy="311.4" r="5.6"/><circle cx="257.3" cy="355.0" r="5.6"/><circle cx="304.9" cy="341.6" r="5.6"/><circle cx="251.4" cy="349.5" r="5.6"/><circle cx="243.6" cy="354.9" r="5.6"/><circle cx="259.1" cy="344.5" r="5.6"/><circle cx="304.5" cy="355.0" r="5.6"/><circle cx="277.0" cy="356.7" r="5.6"/><circle cx="276.3" cy="354.2" r="5.6"/><circle cx="261.9" cy="320.6" r="5.6"/><circle cx="242.7" cy="356.3" r="5.6"/><circle cx="239.1" cy="330.4" r="5.6"/><circle cx="248.2" cy="355.4" r="5.6"/><circle cx="302.0" cy="343.5" r="5.6"/><circle cx="302.8" cy="334.2" r="5.6"/><circle cx="242.5" cy="343.4" r="5.6"/><circle cx="326.6" cy="314.7" r="5.6"/><circle cx="302.6" cy="330.4" r="5.6"/><circle cx="300.9" cy="350.9" r="5.6"/><circle cx="276.9" cy="331.9" r="5.6"/><circle cx="266.6" cy="346.9" r="5.6"/><circle cx="244.5" cy="301.4" r="5.6"/><circle cx="279.1" cy="352.5" r="5.6"/><circle cx="254.8" cy="352.0" r="5.6"/><circle cx="263.4" cy="357.5" r="5.6"/><circle cx="278.6" cy="357.3" r="5.6"/><circle cx="241.5" cy="336.3" r="5.6"/><circle cx="300.9" cy="358.2" r="5.6"/><circle cx="282.5" cy="359.5" r="5.6"/><circle cx="311.7" cy="345.8" r="5.6"/><circle cx="313.3" cy="345.1" r="5.6"/><circle cx="292.7" cy="340.8" r="5.6"/><circle cx="267.1" cy="352.3" r="5.6"/><circle cx="298.9" cy="338.1" r="5.6"/><circle cx="291.2" cy="341.8" r="5.6"/><circle cx="285.7" cy="343.1" r="5.6"/><circle cx="267.0" cy="353.4" r="5.6"/><circle cx="268.0" cy="358.0" r="5.6"/><circle cx="280.9" cy="357.0" r="5.6"/><circle cx="291.0" cy="360.4" r="5.6"/><circle cx="242.9" cy="356.7" r="5.6"/><circle cx="309.7" cy="347.4" r="5.6"/><circle cx="244.1" cy="337.1" r="5.6"/><circle cx="261.6" cy="359.6" r="5.6"/><circle cx="260.2" cy="334.6" r="5.6"/><circle cx="266.7" cy="359.4" r="5.6"/><circle cx="307.6" cy="354.7" r="5.6"/><circle cx="303.7" cy="329.6" r="5.6"/><circle cx="264.7" cy="348.5" r="5.6"/><circle cx="279.0" cy="351.2" r="5.6"/><circle cx="303.6" cy="353.4" r="5.6"/><circle cx="282.1" cy="359.0" r="5.6"/><circle cx="241.8" cy="359.6" r="5.6"/><circle cx="248.4" cy="350.3" r="5.6"/><circle cx="278.7" cy="338.2" r="5.6"/><circle cx="282.1" cy="341.6" r="5.6"/><circle cx="308.5" cy="336.1" r="5.6"/><circle cx="301.3" cy="336.1" r="5.6"/><circle cx="236.4" cy="354.2" r="5.6"/><circle cx="275.4" cy="342.2" r="5.6"/><circle cx="259.0" cy="287.9" r="5.6"/><circle cx="309.8" cy="320.2" r="5.6"/><circle cx="265.3" cy="331.8" r="5.6"/><circle cx="271.2" cy="359.8" r="5.6"/><circle cx="241.9" cy="352.7" r="5.6"/><circle cx="313.4" cy="331.6" r="5.6"/><circle cx="254.9" cy="346.9" r="5.6"/><circle cx="282.3" cy="354.4" r="5.6"/><circle cx="277.3" cy="356.6" r="5.6"/><circle cx="269.9" cy="354.7" r="5.6"/><circle cx="315.2" cy="319.7" r="5.6"/><circle cx="254.1" cy="339.9" r="5.6"/><circle cx="256.0" cy="359.6" r="5.6"/><circle cx="292.5" cy="351.9" r="5.6"/><circle cx="278.9" cy="356.8" r="5.6"/><circle cx="312.7" cy="347.9" r="5.6"/><circle cx="301.5" cy="356.0" r="5.6"/><circle cx="298.5" cy="360.0" r="5.6"/><circle cx="243.6" cy="342.2" r="5.6"/><circle cx="247.7" cy="342.7" r="5.6"/><circle cx="288.7" cy="358.9" r="5.6"/><circle cx="275.3" cy="341.8" r="5.6"/><circle cx="276.7" cy="351.7" r="5.6"/><circle cx="307.7" cy="327.6" r="5.6"/><circle cx="250.7" cy="277.1" r="5.6"/><circle cx="243.7" cy="332.1" r="5.6"/><circle cx="303.3" cy="355.6" r="5.6"/><circle cx="248.8" cy="358.1" r="5.6"/><circle cx="309.4" cy="341.2" r="5.6"/><circle cx="252.1" cy="325.6" r="5.6"/><circle cx="290.5" cy="324.2" r="5.6"/><circle cx="236.3" cy="346.1" r="5.6"/><circle cx="264.8" cy="357.7" r="5.6"/><circle cx="246.7" cy="357.3" r="5.6"/><circle cx="306.4" cy="285.8" r="5.6"/><circle cx="297.9" cy="357.7" r="5.6"/><circle cx="293.2" cy="354.2" r="5.6"/><circle cx="308.0" cy="344.8" r="5.6"/><circle cx="278.8" cy="343.3" r="5.6"/><circle cx="286.5" cy="344.7" r="5.6"/><circle cx="257.1" cy="327.0" r="5.6"/><circle cx="305.0" cy="346.1" r="5.6"/><circle cx="261.5" cy="354.5" r="5.6"/><circle cx="253.4" cy="359.2" r="5.6"/><circle cx="267.6" cy="360.3" r="5.6"/><circle cx="259.4" cy="311.2" r="5.6"/><circle cx="277.3" cy="343.6" r="5.6"/><circle cx="269.1" cy="340.3" r="5.6"/><circle cx="305.7" cy="349.4" r="5.6"/><circle cx="282.7" cy="355.0" r="5.6"/><circle cx="278.1" cy="345.8" r="5.6"/><circle cx="270.0" cy="358.2" r="5.6"/><circle cx="297.8" cy="350.5" r="5.6"/><circle cx="297.4" cy="353.1" r="5.6"/><circle cx="236.2" cy="350.0" r="5.6"/><circle cx="253.2" cy="319.2" r="5.6"/><circle cx="289.7" cy="333.2" r="5.6"/><circle cx="267.8" cy="355.1" r="5.6"/><circle cx="312.1" cy="349.4" r="5.6"/><circle cx="300.3" cy="355.3" r="5.6"/><circle cx="149.2" cy="198.5" r="5.6"/><circle cx="151.7" cy="294.2" r="5.6"/><circle cx="149.2" cy="315.1" r="5.6"/><circle cx="150.4" cy="320.0" r="5.6"/><circle cx="149.2" cy="328.6" r="5.6"/><circle cx="161.5" cy="311.4" r="5.6"/><circle cx="149.2" cy="348.2" r="5.6"/><circle cx="159.0" cy="343.3" r="5.6"/><circle cx="157.8" cy="349.5" r="5.6"/><circle cx="189.7" cy="326.7" r="5.6"/><circle cx="206.9" cy="337.2" r="5.6"/><circle cx="200.8" cy="356.8" r="5.6"/><circle cx="217.9" cy="289.3" r="5.6"/><circle cx="216.7" cy="355.6" r="5.6"/><circle cx="220.4" cy="331.0" r="5.6"/><circle cx="226.5" cy="344.5" r="5.6"/><circle cx="213.0" cy="358.0" r="5.6"/><circle cx="256.0" cy="140.8" r="5.6"/><circle cx="243.7" cy="148.1" r="5.6"/><circle cx="299.0" cy="153.1" r="5.6"/><circle cx="299.0" cy="161.6" r="5.6"/><circle cx="254.8" cy="180.1" r="5.6"/><circle cx="287.9" cy="186.2" r="5.6"/><circle cx="310.0" cy="194.8" r="5.6"/><circle cx="311.2" cy="209.5" r="5.6"/><circle cx="238.8" cy="223.0" r="5.6"/><circle cx="232.7" cy="230.4" r="5.6"/><circle cx="236.4" cy="234.1" r="5.6"/><circle cx="244.9" cy="226.7" r="5.6"/><circle cx="247.4" cy="226.7" r="5.6"/><circle cx="258.4" cy="241.4" r="5.6"/><circle cx="328.4" cy="240.2" r="5.6"/><circle cx="243.7" cy="247.6" r="5.6"/><circle cx="251.1" cy="253.7" r="5.6"/><circle cx="254.8" cy="253.7" r="5.6"/><circle cx="263.4" cy="254.9" r="5.6"/><circle cx="237.6" cy="259.8" r="5.6"/><circle cx="244.9" cy="257.4" r="5.6"/><circle cx="289.1" cy="258.6" r="5.6"/><circle cx="294.0" cy="258.6" r="5.6"/><circle cx="280.5" cy="263.5" r="5.6"/><circle cx="259.7" cy="264.8" r="5.6"/><circle cx="243.7" cy="270.9" r="5.6"/><circle cx="252.3" cy="273.3" r="5.6"/><circle cx="236.4" cy="277.0" r="5.6"/><circle cx="247.4" cy="275.8" r="5.6"/><circle cx="262.1" cy="274.6" r="5.6"/><circle cx="303.9" cy="272.1" r="5.6"/><circle cx="322.3" cy="275.8" r="5.6"/><circle cx="275.6" cy="280.7" r="5.6"/><circle cx="312.5" cy="283.2" r="5.6"/><circle cx="300.2" cy="285.6" r="5.6"/><circle cx="283.0" cy="286.9" r="5.6"/><circle cx="355.4" cy="302.8" r="5.6"/><circle cx="356.6" cy="335.9" r="5.6"/><circle cx="348.1" cy="335.9" r="5.6"/><circle cx="340.7" cy="334.7" r="5.6"/><circle cx="345.6" cy="339.6" r="5.6"/><circle cx="348.1" cy="354.4" r="5.6"/><circle cx="339.5" cy="353.1" r="5.6"/><circle cx="326.0" cy="353.1" r="5.6"/><circle cx="318.6" cy="354.4" r="5.6"/><circle cx="333.3" cy="337.2" r="5.6"/><circle cx="327.2" cy="305.3" r="5.6"/><circle cx="329.6" cy="312.6" r="5.6"/><circle cx="328.4" cy="321.2" r="5.6"/>
</g>
<line x1="259.68" y1="114.50" x2="259.68" y2="363.50" stroke="#231f20" stroke-width="1.6"/>
<line x1="284.23" y1="114.50" x2="284.23" y2="363.50" stroke="#231f20" stroke-width="1.6"/>
<line x1="149.20" y1="344.54" x2="394.70" y2="344.54" stroke="#231f20" stroke-width="1.6"/>
<text x="126.20" y="368.40" font-size="30" text-anchor="end">0</text>
<text x="126.20" y="307.02" font-size="30" text-anchor="end">5</text>
<text x="126.20" y="245.65" font-size="30" text-anchor="end">10</text>
<text x="126.20" y="184.28" font-size="30" text-anchor="end">15</text>
<text x="126.20" y="122.90" font-size="30" text-anchor="end">20</text>
<text x="149.20" y="408.00" font-size="30" text-anchor="middle">0.0</text>
<text x="210.57" y="408.00" font-size="30" text-anchor="middle">0.5</text>
<text x="271.95" y="408.00" font-size="30" text-anchor="middle">1.0</text>
<text x="333.32" y="408.00" font-size="30" text-anchor="middle">1.5</text>
<text x="394.70" y="408.00" font-size="30" text-anchor="middle">2.0</text>
<text x="270.70" y="74.30" font-size="38" text-anchor="middle" textLength="200.00" lengthAdjust="spacingAndGlyphs">Replicate#1</text>
<text x="272.65" y="465.70" font-size="38" text-anchor="middle" textLength="200.20" lengthAdjust="spacingAndGlyphs">SILAC Ratio</text>
<text transform="translate(62.60,360.5) rotate(-90)" font-size="37" textLength="246.5" lengthAdjust="spacingAndGlyphs">-Log<tspan font-size="29" dy="14.5">10</tspan><tspan dy="-14.5">(p-value)</tspan></text>
<line x1="579.85" y1="113.70" x2="579.85" y2="375.50" stroke="#231f20" stroke-width="2.6"/>
<line x1="564.85" y1="360.50" x2="826.65" y2="360.50" stroke="#231f20" stroke-width="2.6"/>
<line x1="564.85" y1="299.12" x2="579.85" y2="299.12" stroke="#231f20" stroke-width="2.6"/>
<line x1="564.85" y1="237.75" x2="579.85" y2="237.75" stroke="#231f20" stroke-width="2.6"/>
<line x1="564.85" y1="176.38" x2="579.85" y2="176.38" stroke="#231f20" stroke-width="2.6"/>
<line x1="564.85" y1="115.00" x2="579.85" y2="115.00" stroke="#231f20" stroke-width="2.6"/>
<line x1="641.23" y1="360.50" x2="641.23" y2="375.50" stroke="#231f20" stroke-width="2.6"/>
<line x1="702.60" y1="360.50" x2="702.60" y2="375.50" stroke="#231f20" stroke-width="2.6"/>
<line x1="763.98" y1="360.50" x2="763.98" y2="375.50" stroke="#231f20" stroke-width="2.6"/>
<line x1="825.35" y1="360.50" x2="825.35" y2="375.50" stroke="#231f20" stroke-width="2.6"/>
<g fill="#a7a9ac" fill-opacity="0.5">
<circle cx="724.1" cy="344.1" r="5.6"/><circle cx="730.8" cy="346.5" r="5.6"/><circle cx="679.5" cy="320.8" r="5.6"/><circle cx="659.7" cy="294.9" r="5.6"/><circle cx="684.8" cy="345.0" r="5.6"/><circle cx="698.3" cy="350.2" r="5.6"/><circle cx="714.5" cy="349.8" r="5.6"/><circle cx="669.5" cy="298.3" r="5.6"/><circle cx="689.5" cy="350.4" r="5.6"/><circle cx="699.9" cy="354.4" r="5.6"/><circle cx="665.1" cy="306.9" r="5.6"/><circle cx="669.3" cy="244.5" r="5.6"/><circle cx="724.8" cy="191.3" r="5.6"/><circle cx="665.2" cy="330.5" r="5.6"/><circle cx="704.3" cy="340.1" r="5.6"/><circle cx="738.5" cy="341.7" r="5.6"/><circle cx="714.2" cy="333.3" r="5.6"/><circle cx="668.8" cy="325.7" r="5.6"/><circle cx="724.3" cy="213.2" r="5.6"/><circle cx="691.5" cy="343.3" r="5.6"/><circle cx="701.6" cy="327.6" r="5.6"/><circle cx="671.0" cy="319.0" r="5.6"/><circle cx="720.3" cy="339.2" r="5.6"/><circle cx="674.3" cy="317.3" r="5.6"/><circle cx="671.9" cy="313.8" r="5.6"/><circle cx="743.3" cy="340.7" r="5.6"/><circle cx="690.4" cy="354.8" r="5.6"/><circle cx="666.2" cy="210.7" r="5.6"/><circle cx="666.7" cy="270.7" r="5.6"/><circle cx="724.7" cy="260.3" r="5.6"/><circle cx="659.1" cy="337.0" r="5.6"/><circle cx="689.5" cy="355.1" r="5.6"/><circle cx="675.7" cy="346.1" r="5.6"/><circle cx="685.6" cy="345.9" r="5.6"/><circle cx="669.0" cy="328.4" r="5.6"/><circle cx="717.1" cy="345.8" r="5.6"/><circle cx="730.8" cy="213.0" r="5.6"/><circle cx="694.0" cy="349.2" r="5.6"/><circle cx="734.5" cy="338.8" r="5.6"/><circle cx="660.0" cy="327.7" r="5.6"/><circle cx="678.7" cy="201.2" r="5.6"/><circle cx="703.1" cy="359.9" r="5.6"/><circle cx="731.5" cy="300.3" r="5.6"/><circle cx="699.4" cy="357.1" r="5.6"/><circle cx="730.0" cy="345.7" r="5.6"/><circle cx="679.2" cy="284.7" r="5.6"/><circle cx="729.8" cy="257.3" r="5.6"/><circle cx="695.1" cy="354.9" r="5.6"/><circle cx="666.8" cy="342.7" r="5.6"/><circle cx="702.6" cy="356.1" r="5.6"/><circle cx="697.8" cy="355.6" r="5.6"/><circle cx="685.7" cy="353.0" r="5.6"/><circle cx="732.2" cy="305.3" r="5.6"/><circle cx="689.9" cy="342.7" r="5.6"/><circle cx="677.4" cy="316.7" r="5.6"/><circle cx="722.7" cy="348.3" r="5.6"/><circle cx="722.3" cy="347.4" r="5.6"/><circle cx="703.7" cy="359.8" r="5.6"/><circle cx="680.4" cy="343.9" r="5.6"/><circle cx="680.4" cy="203.7" r="5.6"/><circle cx="722.8" cy="218.5" r="5.6"/><circle cx="674.4" cy="314.3" r="5.6"/><circle cx="664.1" cy="319.3" r="5.6"/><circle cx="671.1" cy="307.0" r="5.6"/><circle cx="714.6" cy="351.3" r="5.6"/><circle cx="653.1" cy="335.5" r="5.6"/><circle cx="697.7" cy="342.1" r="5.6"/><circle cx="678.3" cy="325.7" r="5.6"/><circle cx="723.7" cy="342.1" r="5.6"/><circle cx="669.5" cy="267.5" r="5.6"/><circle cx="723.4" cy="342.3" r="5.6"/><circle cx="666.8" cy="274.9" r="5.6"/><circle cx="667.0" cy="280.7" r="5.6"/><circle cx="692.1" cy="302.6" r="5.6"/><circle cx="676.2" cy="321.3" r="5.6"/><circle cx="741.2" cy="279.4" r="5.6"/><circle cx="700.5" cy="356.0" r="5.6"/><circle cx="675.6" cy="288.3" r="5.6"/><circle cx="707.2" cy="355.3" r="5.6"/><circle cx="678.2" cy="345.7" r="5.6"/><circle cx="703.8" cy="355.8" r="5.6"/><circle cx="698.3" cy="315.3" r="5.6"/><circle cx="677.8" cy="248.4" r="5.6"/><circle cx="724.0" cy="285.5" r="5.6"/><circle cx="689.9" cy="345.1" r="5.6"/><circle cx="690.6" cy="256.1" r="5.6"/><circle cx="730.9" cy="322.6" r="5.6"/><circle cx="701.6" cy="346.3" r="5.6"/><circle cx="684.0" cy="339.3" r="5.6"/><circle cx="666.0" cy="281.0" r="5.6"/><circle cx="698.8" cy="354.2" r="5.6"/><circle cx="675.7" cy="274.2" r="5.6"/><circle cx="701.8" cy="350.3" r="5.6"/><circle cx="714.0" cy="354.8" r="5.6"/><circle cx="658.5" cy="289.5" r="5.6"/><circle cx="675.3" cy="344.8" r="5.6"/><circle cx="738.8" cy="314.8" r="5.6"/><circle cx="719.8" cy="346.1" r="5.6"/><circle cx="736.7" cy="335.8" r="5.6"/><circle cx="664.4" cy="341.2" r="5.6"/><circle cx="686.0" cy="336.3" r="5.6"/><circle cx="724.2" cy="328.5" r="5.6"/><circle cx="739.9" cy="307.2" r="5.6"/><circle cx="652.7" cy="291.3" r="5.6"/><circle cx="697.1" cy="326.6" r="5.6"/><circle cx="663.3" cy="337.5" r="5.6"/><circle cx="670.2" cy="280.0" r="5.6"/><circle cx="696.7" cy="350.1" r="5.6"/><circle cx="662.4" cy="334.6" r="5.6"/><circle cx="672.2" cy="344.7" r="5.6"/><circle cx="665.2" cy="252.0" r="5.6"/><circle cx="732.3" cy="337.6" r="5.6"/><circle cx="669.4" cy="307.5" r="5.6"/><circle cx="679.2" cy="321.8" r="5.6"/><circle cx="729.1" cy="344.8" r="5.6"/><circle cx="678.6" cy="177.3" r="5.6"/><circle cx="703.6" cy="338.2" r="5.6"/><circle cx="698.6" cy="347.5" r="5.6"/><circle cx="670.6" cy="336.8" r="5.6"/><circle cx="724.1" cy="244.4" r="5.6"/><circle cx="696.8" cy="343.8" r="5.6"/><circle cx="712.6" cy="314.7" r="5.6"/><circle cx="676.5" cy="348.8" r="5.6"/><circle cx="730.7" cy="237.6" r="5.6"/><circle cx="662.4" cy="343.9" r="5.6"/><circle cx="677.1" cy="268.9" r="5.6"/><circle cx="699.9" cy="339.2" r="5.6"/><circle cx="704.7" cy="328.9" r="5.6"/><circle cx="729.8" cy="347.1" r="5.6"/><circle cx="667.5" cy="199.6" r="5.6"/><circle cx="712.6" cy="335.7" r="5.6"/><circle cx="695.9" cy="341.8" r="5.6"/><circle cx="732.7" cy="318.8" r="5.6"/><circle cx="695.1" cy="351.8" r="5.6"/><circle cx="727.4" cy="247.9" r="5.6"/><circle cx="655.3" cy="236.1" r="5.6"/><circle cx="708.3" cy="346.9" r="5.6"/><circle cx="685.2" cy="311.4" r="5.6"/><circle cx="705.9" cy="350.1" r="5.6"/><circle cx="680.3" cy="301.0" r="5.6"/><circle cx="668.3" cy="190.5" r="5.6"/><circle cx="658.8" cy="280.7" r="5.6"/><circle cx="731.3" cy="321.9" r="5.6"/><circle cx="665.7" cy="338.7" r="5.6"/><circle cx="660.2" cy="338.6" r="5.6"/><circle cx="727.7" cy="306.9" r="5.6"/><circle cx="743.5" cy="313.1" r="5.6"/><circle cx="656.4" cy="285.4" r="5.6"/><circle cx="712.7" cy="268.3" r="5.6"/><circle cx="725.1" cy="287.3" r="5.6"/><circle cx="709.3" cy="354.6" r="5.6"/><circle cx="671.6" cy="209.8" r="5.6"/><circle cx="681.7" cy="350.9" r="5.6"/><circle cx="662.4" cy="339.1" r="5.6"/><circle cx="709.4" cy="353.9" r="5.6"/><circle cx="675.4" cy="322.0" r="5.6"/><circle cx="726.9" cy="340.4" r="5.6"/><circle cx="710.6" cy="329.4" r="5.6"/><circle cx="709.8" cy="347.5" r="5.6"/><circle cx="728.4" cy="214.4" r="5.6"/><circle cx="682.3" cy="325.9" r="5.6"/><circle cx="703.5" cy="348.9" r="5.6"/><circle cx="710.7" cy="351.5" r="5.6"/><circle cx="657.8" cy="257.0" r="5.6"/><circle cx="675.7" cy="228.0" r="5.6"/><circle cx="733.3" cy="208.8" r="5.6"/><circle cx="698.6" cy="339.6" r="5.6"/><circle cx="708.3" cy="354.5" r="5.6"/><circle cx="689.5" cy="294.0" r="5.6"/><circle cx="673.4" cy="347.8" r="5.6"/><circle cx="701.9" cy="356.5" r="5.6"/><circle cx="730.0" cy="317.4" r="5.6"/><circle cx="717.0" cy="351.6" r="5.6"/><circle cx="712.4" cy="349.9" r="5.6"/><circle cx="747.0" cy="335.9" r="5.6"/><circle cx="727.3" cy="327.9" r="5.6"/><circle cx="674.3" cy="285.7" r="5.6"/><circle cx="689.8" cy="328.7" r="5.6"/><circle cx="698.0" cy="350.3" r="5.6"/><circle cx="725.4" cy="348.3" r="5.6"/><circle cx="726.9" cy="336.6" r="5.6"/><circle cx="694.9" cy="338.3" r="5.6"/><circle cx="665.3" cy="310.1" r="5.6"/><circle cx="717.5" cy="261.4" r="5.6"/><circle cx="671.8" cy="319.6" r="5.6"/><circle cx="669.1" cy="275.8" r="5.6"/><circle cx="682.4" cy="342.1" r="5.6"/><circle cx="681.2" cy="332.2" r="5.6"/><circle cx="716.9" cy="342.6" r="5.6"/><circle cx="728.2" cy="238.7" r="5.6"/><circle cx="704.8" cy="334.1" r="5.6"/><circle cx="704.5" cy="354.3" r="5.6"/><circle cx="685.0" cy="332.0" r="5.6"/><circle cx="702.5" cy="358.8" r="5.6"/><circle cx="706.1" cy="354.1" r="5.6"/><circle cx="718.7" cy="330.8" r="5.6"/><circle cx="670.4" cy="320.7" r="5.6"/><circle cx="674.8" cy="309.5" r="5.6"/><circle cx="662.7" cy="303.4" r="5.6"/><circle cx="688.7" cy="352.9" r="5.6"/><circle cx="696.7" cy="308.4" r="5.6"/><circle cx="723.6" cy="333.1" r="5.6"/><circle cx="699.6" cy="358.8" r="5.6"/><circle cx="708.9" cy="351.5" r="5.6"/><circle cx="729.2" cy="344.4" r="5.6"/><circle cx="702.9" cy="351.5" r="5.6"/><circle cx="731.9" cy="257.7" r="5.6"/><circle cx="714.2" cy="350.5" r="5.6"/><circle cx="705.5" cy="357.7" r="5.6"/><circle cx="675.8" cy="243.0" r="5.6"/><circle cx="740.0" cy="291.2" r="5.6"/><circle cx="713.5" cy="243.1" r="5.6"/><circle cx="668.6" cy="343.5" r="5.6"/><circle cx="665.4" cy="237.9" r="5.6"/><circle cx="733.5" cy="343.6" r="5.6"/><circle cx="718.2" cy="277.5" r="5.6"/><circle cx="725.0" cy="307.0" r="5.6"/><circle cx="728.6" cy="333.7" r="5.6"/><circle cx="696.6" cy="344.7" r="5.6"/><circle cx="658.9" cy="193.6" r="5.6"/><circle cx="704.1" cy="358.5" r="5.6"/><circle cx="706.6" cy="356.0" r="5.6"/><circle cx="737.0" cy="315.0" r="5.6"/><circle cx="689.6" cy="351.2" r="5.6"/><circle cx="688.1" cy="332.8" r="5.6"/><circle cx="693.4" cy="354.7" r="5.6"/><circle cx="719.2" cy="351.7" r="5.6"/><circle cx="710.6" cy="336.3" r="5.6"/><circle cx="666.4" cy="294.9" r="5.6"/><circle cx="679.3" cy="306.9" r="5.6"/><circle cx="672.1" cy="331.6" r="5.6"/><circle cx="658.3" cy="281.5" r="5.6"/><circle cx="680.3" cy="214.4" r="5.6"/><circle cx="676.5" cy="344.2" r="5.6"/><circle cx="727.7" cy="257.5" r="5.6"/><circle cx="722.2" cy="278.5" r="5.6"/><circle cx="731.7" cy="347.1" r="5.6"/><circle cx="735.2" cy="273.0" r="5.6"/><circle cx="691.5" cy="305.7" r="5.6"/><circle cx="715.9" cy="353.3" r="5.6"/><circle cx="721.5" cy="351.2" r="5.6"/><circle cx="718.9" cy="345.4" r="5.6"/><circle cx="713.0" cy="346.3" r="5.6"/><circle cx="726.2" cy="320.7" r="5.6"/><circle cx="678.0" cy="349.0" r="5.6"/><circle cx="676.4" cy="325.6" r="5.6"/><circle cx="655.5" cy="234.2" r="5.6"/><circle cx="727.2" cy="280.5" r="5.6"/><circle cx="713.7" cy="320.6" r="5.6"/><circle cx="669.3" cy="243.9" r="5.6"/><circle cx="705.9" cy="355.3" r="5.6"/><circle cx="682.9" cy="300.2" r="5.6"/><circle cx="728.4" cy="237.8" r="5.6"/><circle cx="689.1" cy="307.1" r="5.6"/><circle cx="678.5" cy="345.8" r="5.6"/><circle cx="705.9" cy="354.9" r="5.6"/><circle cx="689.0" cy="351.1" r="5.6"/><circle cx="735.2" cy="300.6" r="5.6"/><circle cx="706.4" cy="310.1" r="5.6"/><circle cx="741.0" cy="305.0" r="5.6"/><circle cx="688.3" cy="340.8" r="5.6"/><circle cx="724.8" cy="346.3" r="5.6"/><circle cx="714.2" cy="353.0" r="5.6"/><circle cx="655.2" cy="272.5" r="5.6"/><circle cx="709.6" cy="336.1" r="5.6"/><circle cx="661.0" cy="315.3" r="5.6"/><circle cx="689.0" cy="341.5" r="5.6"/><circle cx="734.4" cy="347.5" r="5.6"/><circle cx="666.1" cy="341.9" r="5.6"/><circle cx="718.8" cy="351.4" r="5.6"/><circle cx="658.5" cy="186.5" r="5.6"/><circle cx="715.2" cy="306.6" r="5.6"/><circle cx="688.4" cy="347.2" r="5.6"/><circle cx="657.1" cy="329.9" r="5.6"/><circle cx="703.2" cy="352.2" r="5.6"/><circle cx="720.8" cy="268.0" r="5.6"/><circle cx="675.8" cy="298.2" r="5.6"/><circle cx="735.8" cy="309.3" r="5.6"/><circle cx="712.7" cy="351.8" r="5.6"/><circle cx="721.7" cy="261.7" r="5.6"/><circle cx="721.2" cy="345.5" r="5.6"/><circle cx="727.6" cy="325.4" r="5.6"/><circle cx="693.3" cy="334.9" r="5.6"/><circle cx="730.5" cy="342.8" r="5.6"/><circle cx="712.2" cy="340.1" r="5.6"/><circle cx="734.0" cy="335.2" r="5.6"/><circle cx="723.2" cy="324.7" r="5.6"/><circle cx="686.6" cy="354.0" r="5.6"/><circle cx="728.0" cy="317.6" r="5.6"/><circle cx="722.9" cy="241.0" r="5.6"/><circle cx="654.7" cy="330.3" r="5.6"/><circle cx="702.0" cy="359.1" r="5.6"/><circle cx="680.3" cy="330.5" r="5.6"/><circle cx="710.0" cy="340.2" r="5.6"/><circle cx="731.1" cy="207.3" r="5.6"/><circle cx="702.9" cy="351.7" r="5.6"/><circle cx="694.6" cy="348.9" r="5.6"/><circle cx="658.9" cy="266.3" r="5.6"/><circle cx="706.5" cy="336.9" r="5.6"/><circle cx="702.4" cy="358.3" r="5.6"/><circle cx="663.9" cy="299.5" r="5.6"/><circle cx="737.2" cy="333.6" r="5.6"/><circle cx="726.8" cy="313.4" r="5.6"/><circle cx="709.2" cy="330.1" r="5.6"/><circle cx="682.8" cy="351.6" r="5.6"/><circle cx="700.9" cy="357.9" r="5.6"/><circle cx="662.4" cy="321.3" r="5.6"/><circle cx="706.4" cy="345.5" r="5.6"/><circle cx="695.6" cy="315.7" r="5.6"/><circle cx="706.7" cy="353.9" r="5.6"/><circle cx="729.1" cy="196.3" r="5.6"/><circle cx="701.9" cy="352.4" r="5.6"/><circle cx="725.3" cy="272.6" r="5.6"/><circle cx="653.4" cy="309.6" r="5.6"/><circle cx="664.0" cy="234.9" r="5.6"/><circle cx="705.9" cy="342.2" r="5.6"/><circle cx="716.1" cy="352.8" r="5.6"/><circle cx="713.8" cy="346.2" r="5.6"/><circle cx="730.7" cy="338.8" r="5.6"/><circle cx="705.0" cy="352.5" r="5.6"/><circle cx="723.0" cy="219.8" r="5.6"/><circle cx="705.8" cy="352.5" r="5.6"/><circle cx="718.7" cy="333.1" r="5.6"/><circle cx="689.0" cy="342.3" r="5.6"/><circle cx="725.2" cy="336.7" r="5.6"/><circle cx="666.5" cy="318.7" r="5.6"/><circle cx="726.0" cy="322.9" r="5.6"/><circle cx="731.3" cy="345.6" r="5.6"/><circle cx="730.7" cy="216.8" r="5.6"/><circle cx="697.0" cy="343.5" r="5.6"/><circle cx="673.1" cy="299.1" r="5.6"/><circle cx="675.8" cy="335.5" r="5.6"/><circle cx="736.5" cy="315.9" r="5.6"/><circle cx="709.7" cy="349.4" r="5.6"/><circle cx="701.6" cy="347.6" r="5.6"/><circle cx="687.9" cy="290.1" r="5.6"/><circle cx="715.1" cy="338.6" r="5.6"/><circle cx="706.7" cy="356.0" r="5.6"/><circle cx="731.9" cy="324.9" r="5.6"/><circle cx="727.2" cy="350.3" r="5.6"/><circle cx="735.9" cy="240.2" r="5.6"/><circle cx="661.7" cy="341.0" r="5.6"/><circle cx="722.5" cy="313.5" r="5.6"/><circle cx="665.3" cy="207.3" r="5.6"/><circle cx="674.2" cy="341.0" r="5.6"/><circle cx="734.0" cy="240.3" r="5.6"/><circle cx="727.2" cy="216.2" r="5.6"/><circle cx="736.2" cy="317.2" r="5.6"/><circle cx="664.5" cy="336.4" r="5.6"/><circle cx="709.7" cy="343.9" r="5.6"/><circle cx="723.7" cy="346.8" r="5.6"/><circle cx="716.7" cy="351.0" r="5.6"/><circle cx="664.5" cy="269.8" r="5.6"/><circle cx="711.0" cy="327.9" r="5.6"/><circle cx="709.5" cy="347.3" r="5.6"/><circle cx="706.6" cy="354.2" r="5.6"/><circle cx="708.1" cy="354.4" r="5.6"/><circle cx="723.4" cy="329.8" r="5.6"/><circle cx="651.0" cy="303.4" r="5.6"/><circle cx="668.9" cy="312.0" r="5.6"/><circle cx="726.5" cy="277.5" r="5.6"/><circle cx="696.3" cy="348.4" r="5.6"/><circle cx="666.5" cy="269.0" r="5.6"/><circle cx="725.4" cy="351.2" r="5.6"/><circle cx="727.3" cy="234.8" r="5.6"/><circle cx="666.1" cy="337.4" r="5.6"/><circle cx="666.0" cy="229.7" r="5.6"/><circle cx="723.5" cy="292.8" r="5.6"/><circle cx="712.6" cy="322.4" r="5.6"/><circle cx="691.1" cy="335.5" r="5.6"/><circle cx="652.2" cy="325.5" r="5.6"/><circle cx="735.8" cy="307.3" r="5.6"/><circle cx="693.0" cy="343.7" r="5.6"/><circle cx="734.5" cy="323.6" r="5.6"/><circle cx="717.4" cy="353.9" r="5.6"/><circle cx="701.4" cy="358.6" r="5.6"/><circle cx="705.0" cy="349.8" r="5.6"/><circle cx="702.7" cy="352.1" r="5.6"/><circle cx="680.2" cy="238.7" r="5.6"/><circle cx="676.7" cy="247.0" r="5.6"/><circle cx="729.4" cy="346.9" r="5.6"/><circle cx="710.5" cy="348.5" r="5.6"/><circle cx="725.5" cy="294.8" r="5.6"/><circle cx="673.6" cy="231.0" r="5.6"/><circle cx="658.3" cy="339.8" r="5.6"/><circle cx="698.3" cy="358.2" r="5.6"/><circle cx="711.7" cy="340.3" r="5.6"/><circle cx="707.6" cy="346.3" r="5.6"/><circle cx="699.8" cy="353.4" r="5.6"/><circle cx="670.9" cy="305.0" r="5.6"/><circle cx="662.7" cy="230.4" r="5.6"/><circle cx="668.1" cy="343.5" r="5.6"/><circle cx="708.7" cy="352.0" r="5.6"/><circle cx="694.0" cy="302.0" r="5.6"/><circle cx="681.7" cy="329.3" r="5.6"/><circle cx="734.6" cy="284.5" r="5.6"/><circle cx="668.0" cy="341.2" r="5.6"/><circle cx="678.9" cy="299.9" r="5.6"/><circle cx="703.0" cy="344.9" r="5.6"/><circle cx="724.4" cy="325.5" r="5.6"/><circle cx="726.4" cy="291.4" r="5.6"/><circle cx="678.0" cy="344.5" r="5.6"/><circle cx="718.6" cy="210.9" r="5.6"/><circle cx="736.1" cy="282.9" r="5.6"/><circle cx="663.6" cy="317.8" r="5.6"/><circle cx="680.4" cy="242.0" r="5.6"/><circle cx="681.1" cy="347.4" r="5.6"/><circle cx="707.3" cy="357.1" r="5.6"/><circle cx="695.5" cy="320.4" r="5.6"/><circle cx="662.4" cy="344.0" r="5.6"/><circle cx="701.2" cy="352.7" r="5.6"/><circle cx="665.6" cy="274.6" r="5.6"/><circle cx="674.7" cy="346.5" r="5.6"/><circle cx="720.5" cy="351.9" r="5.6"/><circle cx="692.6" cy="354.6" r="5.6"/><circle cx="726.6" cy="327.4" r="5.6"/><circle cx="709.5" cy="332.7" r="5.6"/><circle cx="705.3" cy="347.0" r="5.6"/><circle cx="675.3" cy="251.9" r="5.6"/><circle cx="679.0" cy="342.9" r="5.6"/><circle cx="679.3" cy="319.3" r="5.6"/><circle cx="655.4" cy="215.4" r="5.6"/><circle cx="690.7" cy="353.4" r="5.6"/><circle cx="701.5" cy="356.0" r="5.6"/><circle cx="686.0" cy="343.0" r="5.6"/><circle cx="741.9" cy="271.2" r="5.6"/><circle cx="698.3" cy="340.6" r="5.6"/><circle cx="701.8" cy="350.5" r="5.6"/><circle cx="719.7" cy="351.0" r="5.6"/><circle cx="708.5" cy="357.3" r="5.6"/><circle cx="724.4" cy="182.2" r="5.6"/><circle cx="677.7" cy="328.4" r="5.6"/><circle cx="689.4" cy="330.7" r="5.6"/><circle cx="678.6" cy="345.6" r="5.6"/><circle cx="726.2" cy="317.7" r="5.6"/><circle cx="728.1" cy="333.9" r="5.6"/><circle cx="681.0" cy="347.1" r="5.6"/><circle cx="734.3" cy="335.1" r="5.6"/><circle cx="670.6" cy="314.0" r="5.6"/><circle cx="707.5" cy="357.2" r="5.6"/><circle cx="708.8" cy="348.9" r="5.6"/><circle cx="709.8" cy="345.1" r="5.6"/><circle cx="721.8" cy="316.4" r="5.6"/><circle cx="718.1" cy="352.8" r="5.6"/><circle cx="718.2" cy="341.4" r="5.6"/><circle cx="713.8" cy="321.8" r="5.6"/><circle cx="728.7" cy="302.6" r="5.6"/><circle cx="676.8" cy="276.1" r="5.6"/><circle cx="682.7" cy="342.3" r="5.6"/><circle cx="702.9" cy="356.8" r="5.6"/><circle cx="689.0" cy="293.5" r="5.6"/><circle cx="656.4" cy="314.3" r="5.6"/><circle cx="668.3" cy="331.9" r="5.6"/><circle cx="677.2" cy="322.3" r="5.6"/><circle cx="675.4" cy="296.2" r="5.6"/><circle cx="697.7" cy="346.1" r="5.6"/><circle cx="711.1" cy="351.0" r="5.6"/><circle cx="679.8" cy="305.3" r="5.6"/><circle cx="721.8" cy="345.7" r="5.6"/><circle cx="674.1" cy="346.6" r="5.6"/><circle cx="678.7" cy="329.5" r="5.6"/><circle cx="666.6" cy="331.5" r="5.6"/><circle cx="661.5" cy="278.9" r="5.6"/><circle cx="709.9" cy="348.5" r="5.6"/><circle cx="710.4" cy="347.0" r="5.6"/><circle cx="680.8" cy="350.4" r="5.6"/><circle cx="705.0" cy="359.2" r="5.6"/><circle cx="696.0" cy="355.8" r="5.6"/><circle cx="713.9" cy="345.3" r="5.6"/><circle cx="736.4" cy="320.9" r="5.6"/><circle cx="703.3" cy="355.0" r="5.6"/><circle cx="730.0" cy="339.1" r="5.6"/><circle cx="727.1" cy="330.4" r="5.6"/><circle cx="689.5" cy="350.7" r="5.6"/><circle cx="720.9" cy="227.3" r="5.6"/><circle cx="736.6" cy="284.0" r="5.6"/><circle cx="745.6" cy="288.8" r="5.6"/><circle cx="726.6" cy="346.7" r="5.6"/><circle cx="682.2" cy="339.9" r="5.6"/><circle cx="669.0" cy="342.1" r="5.6"/><circle cx="711.7" cy="349.4" r="5.6"/><circle cx="719.4" cy="308.7" r="5.6"/><circle cx="724.5" cy="343.7" r="5.6"/><circle cx="673.1" cy="292.2" r="5.6"/><circle cx="703.8" cy="347.9" r="5.6"/><circle cx="653.7" cy="203.7" r="5.6"/><circle cx="711.1" cy="333.3" r="5.6"/><circle cx="695.1" cy="329.7" r="5.6"/><circle cx="723.8" cy="314.9" r="5.6"/><circle cx="661.9" cy="261.0" r="5.6"/><circle cx="661.1" cy="343.3" r="5.6"/><circle cx="716.4" cy="354.6" r="5.6"/><circle cx="724.2" cy="333.7" r="5.6"/><circle cx="712.4" cy="351.2" r="5.6"/><circle cx="680.6" cy="336.4" r="5.6"/><circle cx="729.3" cy="286.7" r="5.6"/><circle cx="730.5" cy="337.3" r="5.6"/><circle cx="722.2" cy="290.8" r="5.6"/><circle cx="702.7" cy="357.9" r="5.6"/><circle cx="735.3" cy="339.6" r="5.6"/><circle cx="707.9" cy="357.3" r="5.6"/><circle cx="734.0" cy="308.8" r="5.6"/><circle cx="687.2" cy="341.2" r="5.6"/><circle cx="683.3" cy="347.7" r="5.6"/><circle cx="676.3" cy="349.1" r="5.6"/><circle cx="717.3" cy="350.0" r="5.6"/><circle cx="673.5" cy="294.5" r="5.6"/><circle cx="675.0" cy="196.0" r="5.6"/><circle cx="695.3" cy="351.5" r="5.6"/><circle cx="712.4" cy="297.4" r="5.6"/><circle cx="690.7" cy="354.6" r="5.6"/><circle cx="720.8" cy="269.0" r="5.6"/><circle cx="725.9" cy="323.5" r="5.6"/><circle cx="669.1" cy="335.1" r="5.6"/><circle cx="714.2" cy="336.4" r="5.6"/><circle cx="729.4" cy="330.0" r="5.6"/><circle cx="715.7" cy="275.5" r="5.6"/><circle cx="700.4" cy="359.2" r="5.6"/><circle cx="666.9" cy="343.4" r="5.6"/><circle cx="680.3" cy="262.0" r="5.6"/><circle cx="728.0" cy="300.5" r="5.6"/><circle cx="657.3" cy="287.8" r="5.6"/><circle cx="707.5" cy="352.5" r="5.6"/><circle cx="701.5" cy="359.3" r="5.6"/><circle cx="670.6" cy="271.3" r="5.6"/><circle cx="695.1" cy="348.5" r="5.6"/><circle cx="664.2" cy="276.7" r="5.6"/><circle cx="699.4" cy="355.3" r="5.6"/><circle cx="661.1" cy="298.9" r="5.6"/><circle cx="689.3" cy="338.9" r="5.6"/><circle cx="734.0" cy="334.7" r="5.6"/><circle cx="677.6" cy="320.1" r="5.6"/><circle cx="719.7" cy="350.5" r="5.6"/><circle cx="679.3" cy="330.7" r="5.6"/><circle cx="726.9" cy="346.9" r="5.6"/><circle cx="663.6" cy="322.9" r="5.6"/><circle cx="677.0" cy="323.0" r="5.6"/><circle cx="689.1" cy="353.2" r="5.6"/><circle cx="725.9" cy="303.4" r="5.6"/><circle cx="729.4" cy="308.4" r="5.6"/><circle cx="691.1" cy="308.0" r="5.6"/><circle cx="665.9" cy="286.9" r="5.6"/><circle cx="731.6" cy="242.3" r="5.6"/><circle cx="709.7" cy="348.6" r="5.6"/><circle cx="665.3" cy="214.0" r="5.6"/><circle cx="732.7" cy="342.8" r="5.6"/><circle cx="676.6" cy="347.8" r="5.6"/><circle cx="738.7" cy="227.1" r="5.6"/><circle cx="713.3" cy="344.5" r="5.6"/><circle cx="739.9" cy="344.5" r="5.6"/><circle cx="696.7" cy="334.9" r="5.6"/><circle cx="705.8" cy="340.7" r="5.6"/><circle cx="674.6" cy="347.0" r="5.6"/><circle cx="688.3" cy="332.8" r="5.6"/><circle cx="687.8" cy="258.0" r="5.6"/><circle cx="668.5" cy="303.8" r="5.6"/><circle cx="727.5" cy="266.7" r="5.6"/><circle cx="671.4" cy="307.2" r="5.6"/><circle cx="682.1" cy="344.1" r="5.6"/><circle cx="716.2" cy="318.8" r="5.6"/><circle cx="700.2" cy="354.1" r="5.6"/><circle cx="729.2" cy="305.4" r="5.6"/><circle cx="704.3" cy="351.0" r="5.6"/><circle cx="718.0" cy="212.8" r="5.6"/><circle cx="660.7" cy="258.5" r="5.6"/><circle cx="657.9" cy="304.8" r="5.6"/><circle cx="709.2" cy="357.6" r="5.6"/><circle cx="731.1" cy="308.4" r="5.6"/><circle cx="732.7" cy="316.6" r="5.6"/><circle cx="706.8" cy="355.3" r="5.6"/><circle cx="685.1" cy="345.1" r="5.6"/><circle cx="681.2" cy="336.8" r="5.6"/><circle cx="673.0" cy="319.2" r="5.6"/><circle cx="674.2" cy="210.3" r="5.6"/><circle cx="696.8" cy="349.9" r="5.6"/><circle cx="716.5" cy="316.9" r="5.6"/><circle cx="731.0" cy="293.4" r="5.6"/><circle cx="702.7" cy="344.0" r="5.6"/><circle cx="718.7" cy="332.8" r="5.6"/><circle cx="693.2" cy="354.4" r="5.6"/><circle cx="729.3" cy="310.5" r="5.6"/><circle cx="732.0" cy="334.3" r="5.6"/><circle cx="718.7" cy="322.4" r="5.6"/><circle cx="691.9" cy="354.3" r="5.6"/><circle cx="694.3" cy="347.6" r="5.6"/><circle cx="654.3" cy="305.7" r="5.6"/><circle cx="698.9" cy="339.9" r="5.6"/><circle cx="673.6" cy="333.6" r="5.6"/><circle cx="671.4" cy="313.4" r="5.6"/><circle cx="702.9" cy="351.3" r="5.6"/><circle cx="676.6" cy="300.6" r="5.6"/><circle cx="697.5" cy="356.1" r="5.6"/><circle cx="661.6" cy="287.5" r="5.6"/><circle cx="684.4" cy="323.3" r="5.6"/><circle cx="668.2" cy="337.8" r="5.6"/><circle cx="670.5" cy="315.1" r="5.6"/><circle cx="730.2" cy="321.0" r="5.6"/><circle cx="697.7" cy="355.9" r="5.6"/><circle cx="696.7" cy="335.0" r="5.6"/><circle cx="675.1" cy="315.4" r="5.6"/><circle cx="720.6" cy="333.5" r="5.6"/><circle cx="725.0" cy="216.7" r="5.6"/><circle cx="697.2" cy="335.9" r="5.6"/><circle cx="732.9" cy="272.8" r="5.6"/><circle cx="701.1" cy="359.8" r="5.6"/><circle cx="728.3" cy="348.2" r="5.6"/><circle cx="729.4" cy="289.0" r="5.6"/><circle cx="698.5" cy="345.1" r="5.6"/><circle cx="737.8" cy="330.9" r="5.6"/><circle cx="675.4" cy="286.6" r="5.6"/><circle cx="728.1" cy="333.4" r="5.6"/><circle cx="731.2" cy="315.6" r="5.6"/><circle cx="744.2" cy="319.0" r="5.6"/><circle cx="659.2" cy="191.8" r="5.6"/><circle cx="718.3" cy="258.0" r="5.6"/><circle cx="679.5" cy="347.6" r="5.6"/><circle cx="731.6" cy="212.4" r="5.6"/><circle cx="721.5" cy="264.0" r="5.6"/><circle cx="670.8" cy="325.8" r="5.6"/><circle cx="674.7" cy="276.0" r="5.6"/><circle cx="666.7" cy="187.2" r="5.6"/><circle cx="695.0" cy="338.7" r="5.6"/><circle cx="688.2" cy="344.7" r="5.6"/><circle cx="733.5" cy="346.3" r="5.6"/><circle cx="657.0" cy="309.9" r="5.6"/><circle cx="729.4" cy="328.7" r="5.6"/><circle cx="719.9" cy="337.5" r="5.6"/><circle cx="710.4" cy="348.8" r="5.6"/><circle cx="692.6" cy="330.7" r="5.6"/><circle cx="691.6" cy="347.9" r="5.6"/><circle cx="671.7" cy="298.5" r="5.6"/><circle cx="733.9" cy="277.3" r="5.6"/><circle cx="678.6" cy="280.3" r="5.6"/><circle cx="731.5" cy="318.0" r="5.6"/><circle cx="689.7" cy="349.5" r="5.6"/><circle cx="666.7" cy="343.2" r="5.6"/><circle cx="692.7" cy="344.8" r="5.6"/><circle cx="693.7" cy="354.4" r="5.6"/><circle cx="704.6" cy="358.3" r="5.6"/><circle cx="736.9" cy="314.0" r="5.6"/><circle cx="674.3" cy="343.3" r="5.6"/><circle cx="732.0" cy="344.2" r="5.6"/><circle cx="709.7" cy="349.5" r="5.6"/><circle cx="682.2" cy="338.7" r="5.6"/><circle cx="724.4" cy="307.5" r="5.6"/><circle cx="684.0" cy="312.2" r="5.6"/><circle cx="721.6" cy="229.5" r="5.6"/><circle cx="663.9" cy="250.2" r="5.6"/><circle cx="704.8" cy="354.1" r="5.6"/><circle cx="719.8" cy="286.1" r="5.6"/><circle cx="661.8" cy="263.3" r="5.6"/><circle cx="709.5" cy="356.9" r="5.6"/><circle cx="701.4" cy="347.3" r="5.6"/><circle cx="665.2" cy="295.1" r="5.6"/><circle cx="703.4" cy="343.2" r="5.6"/><circle cx="667.7" cy="308.1" r="5.6"/><circle cx="719.1" cy="352.9" r="5.6"/><circle cx="660.7" cy="338.6" r="5.6"/><circle cx="681.5" cy="293.5" r="5.6"/><circle cx="671.3" cy="273.6" r="5.6"/><circle cx="742.1" cy="319.3" r="5.6"/><circle cx="716.2" cy="300.4" r="5.6"/><circle cx="674.5" cy="293.0" r="5.6"/><circle cx="734.2" cy="339.1" r="5.6"/><circle cx="720.5" cy="352.8" r="5.6"/><circle cx="720.6" cy="346.5" r="5.6"/><circle cx="666.7" cy="329.8" r="5.6"/><circle cx="683.1" cy="348.1" r="5.6"/><circle cx="726.2" cy="175.2" r="5.6"/><circle cx="708.1" cy="343.4" r="5.6"/><circle cx="692.3" cy="353.2" r="5.6"/><circle cx="662.4" cy="217.5" r="5.6"/><circle cx="733.7" cy="309.1" r="5.6"/><circle cx="736.2" cy="283.3" r="5.6"/><circle cx="676.3" cy="294.4" r="5.6"/><circle cx="725.9" cy="222.2" r="5.6"/><circle cx="704.4" cy="347.7" r="5.6"/><circle cx="669.8" cy="272.0" r="5.6"/><circle cx="662.6" cy="279.7" r="5.6"/><circle cx="676.5" cy="336.1" r="5.6"/><circle cx="735.6" cy="241.2" r="5.6"/><circle cx="661.4" cy="339.9" r="5.6"/><circle cx="683.6" cy="291.0" r="5.6"/><circle cx="661.1" cy="341.1" r="5.6"/><circle cx="670.4" cy="287.3" r="5.6"/><circle cx="690.0" cy="343.8" r="5.6"/><circle cx="701.1" cy="359.9" r="5.6"/><circle cx="728.7" cy="279.6" r="5.6"/><circle cx="681.6" cy="349.7" r="5.6"/><circle cx="652.6" cy="312.5" r="5.6"/><circle cx="677.2" cy="336.4" r="5.6"/><circle cx="716.8" cy="276.2" r="5.6"/><circle cx="689.7" cy="339.8" r="5.6"/><circle cx="705.9" cy="342.4" r="5.6"/><circle cx="734.3" cy="302.5" r="5.6"/><circle cx="689.0" cy="352.6" r="5.6"/><circle cx="667.2" cy="310.8" r="5.6"/><circle cx="732.5" cy="302.1" r="5.6"/><circle cx="670.4" cy="296.5" r="5.6"/><circle cx="669.8" cy="227.4" r="5.6"/><circle cx="671.6" cy="345.9" r="5.6"/><circle cx="670.2" cy="316.9" r="5.6"/><circle cx="668.0" cy="333.3" r="5.6"/><circle cx="668.5" cy="317.0" r="5.6"/><circle cx="725.6" cy="277.5" r="5.6"/><circle cx="672.8" cy="210.5" r="5.6"/><circle cx="706.1" cy="353.6" r="5.6"/><circle cx="657.5" cy="291.3" r="5.6"/><circle cx="658.3" cy="241.1" r="5.6"/><circle cx="723.7" cy="264.6" r="5.6"/><circle cx="692.0" cy="349.1" r="5.6"/><circle cx="721.9" cy="271.2" r="5.6"/><circle cx="719.0" cy="207.9" r="5.6"/><circle cx="668.2" cy="262.5" r="5.6"/><circle cx="676.8" cy="340.1" r="5.6"/><circle cx="650.0" cy="327.2" r="5.6"/><circle cx="693.7" cy="343.6" r="5.6"/><circle cx="667.6" cy="226.8" r="5.6"/><circle cx="733.2" cy="337.1" r="5.6"/><circle cx="700.6" cy="346.1" r="5.6"/><circle cx="725.7" cy="197.1" r="5.6"/><circle cx="734.5" cy="321.2" r="5.6"/><circle cx="654.5" cy="257.0" r="5.6"/><circle cx="669.5" cy="335.8" r="5.6"/><circle cx="696.5" cy="340.7" r="5.6"/><circle cx="665.8" cy="327.9" r="5.6"/><circle cx="691.5" cy="342.5" r="5.6"/><circle cx="703.6" cy="346.1" r="5.6"/><circle cx="731.3" cy="346.8" r="5.6"/><circle cx="705.4" cy="353.2" r="5.6"/><circle cx="687.0" cy="350.0" r="5.6"/><circle cx="675.4" cy="338.3" r="5.6"/><circle cx="697.9" cy="355.6" r="5.6"/><circle cx="680.5" cy="270.7" r="5.6"/><circle cx="717.1" cy="243.3" r="5.6"/><circle cx="714.9" cy="322.7" r="5.6"/><circle cx="695.1" cy="336.7" r="5.6"/><circle cx="737.4" cy="308.6" r="5.6"/><circle cx="658.3" cy="244.2" r="5.6"/><circle cx="740.0" cy="318.5" r="5.6"/><circle cx="722.1" cy="261.5" r="5.6"/><circle cx="704.5" cy="345.4" r="5.6"/><circle cx="738.9" cy="280.0" r="5.6"/><circle cx="686.5" cy="182.9" r="5.6"/><circle cx="688.6" cy="319.3" r="5.6"/><circle cx="703.7" cy="328.0" r="5.6"/><circle cx="670.3" cy="322.1" r="5.6"/><circle cx="681.2" cy="337.3" r="5.6"/><circle cx="728.0" cy="331.6" r="5.6"/><circle cx="711.9" cy="332.8" r="5.6"/><circle cx="718.5" cy="350.9" r="5.6"/><circle cx="738.7" cy="290.5" r="5.6"/><circle cx="665.4" cy="331.8" r="5.6"/><circle cx="733.3" cy="311.4" r="5.6"/><circle cx="676.0" cy="236.3" r="5.6"/><circle cx="675.6" cy="191.4" r="5.6"/><circle cx="745.3" cy="336.9" r="5.6"/><circle cx="676.3" cy="327.2" r="5.6"/><circle cx="724.1" cy="189.7" r="5.6"/><circle cx="668.6" cy="314.6" r="5.6"/><circle cx="699.5" cy="346.6" r="5.6"/><circle cx="734.0" cy="322.6" r="5.6"/><circle cx="699.2" cy="348.8" r="5.6"/><circle cx="670.0" cy="334.2" r="5.6"/><circle cx="702.5" cy="345.8" r="5.6"/><circle cx="732.8" cy="298.9" r="5.6"/><circle cx="706.0" cy="356.3" r="5.6"/><circle cx="684.9" cy="289.3" r="5.6"/><circle cx="706.7" cy="340.0" r="5.6"/><circle cx="732.9" cy="272.6" r="5.6"/><circle cx="685.3" cy="219.2" r="5.6"/><circle cx="655.6" cy="336.7" r="5.6"/><circle cx="721.9" cy="320.1" r="5.6"/><circle cx="695.6" cy="348.1" r="5.6"/><circle cx="735.6" cy="344.0" r="5.6"/><circle cx="718.8" cy="296.2" r="5.6"/><circle cx="729.4" cy="299.2" r="5.6"/><circle cx="740.6" cy="280.2" r="5.6"/><circle cx="712.5" cy="351.4" r="5.6"/><circle cx="715.9" cy="350.2" r="5.6"/><circle cx="683.9" cy="341.1" r="5.6"/><circle cx="690.7" cy="318.1" r="5.6"/><circle cx="729.8" cy="278.5" r="5.6"/><circle cx="684.1" cy="321.0" r="5.6"/><circle cx="694.7" cy="334.9" r="5.6"/><circle cx="649.9" cy="334.6" r="5.6"/><circle cx="692.9" cy="349.9" r="5.6"/><circle cx="663.0" cy="338.1" r="5.6"/><circle cx="669.9" cy="268.6" r="5.6"/><circle cx="725.7" cy="298.7" r="5.6"/><circle cx="724.8" cy="337.8" r="5.6"/><circle cx="681.0" cy="275.7" r="5.6"/><circle cx="722.2" cy="228.6" r="5.6"/><circle cx="656.4" cy="312.1" r="5.6"/><circle cx="658.1" cy="333.3" r="5.6"/><circle cx="660.5" cy="321.5" r="5.6"/><circle cx="717.4" cy="348.7" r="5.6"/><circle cx="739.4" cy="315.3" r="5.6"/><circle cx="658.5" cy="221.6" r="5.6"/><circle cx="704.5" cy="349.7" r="5.6"/><circle cx="672.6" cy="251.8" r="5.6"/><circle cx="675.0" cy="321.6" r="5.6"/><circle cx="733.9" cy="267.5" r="5.6"/><circle cx="662.6" cy="234.9" r="5.6"/><circle cx="720.5" cy="338.0" r="5.6"/><circle cx="736.5" cy="346.3" r="5.6"/><circle cx="746.1" cy="324.2" r="5.6"/><circle cx="722.7" cy="331.9" r="5.6"/><circle cx="719.9" cy="346.9" r="5.6"/><circle cx="662.8" cy="219.0" r="5.6"/><circle cx="738.8" cy="283.7" r="5.6"/><circle cx="735.1" cy="339.0" r="5.6"/><circle cx="705.1" cy="354.7" r="5.6"/><circle cx="697.9" cy="343.8" r="5.6"/><circle cx="679.6" cy="338.7" r="5.6"/><circle cx="702.2" cy="357.6" r="5.6"/><circle cx="663.5" cy="180.7" r="5.6"/><circle cx="727.5" cy="346.7" r="5.6"/><circle cx="723.1" cy="343.8" r="5.6"/><circle cx="708.9" cy="322.9" r="5.6"/><circle cx="706.7" cy="354.4" r="5.6"/><circle cx="698.8" cy="344.7" r="5.6"/><circle cx="678.5" cy="310.1" r="5.6"/><circle cx="668.9" cy="336.6" r="5.6"/><circle cx="691.2" cy="355.3" r="5.6"/><circle cx="686.5" cy="326.6" r="5.6"/><circle cx="701.2" cy="352.1" r="5.6"/><circle cx="682.1" cy="285.7" r="5.6"/><circle cx="674.2" cy="328.7" r="5.6"/><circle cx="670.0" cy="199.8" r="5.6"/><circle cx="731.8" cy="338.7" r="5.6"/><circle cx="719.0" cy="235.3" r="5.6"/><circle cx="724.6" cy="337.6" r="5.6"/><circle cx="745.5" cy="256.6" r="5.6"/><circle cx="683.4" cy="350.7" r="5.6"/><circle cx="725.0" cy="334.1" r="5.6"/><circle cx="717.9" cy="325.3" r="5.6"/><circle cx="750.4" cy="332.8" r="5.6"/><circle cx="658.9" cy="334.4" r="5.6"/><circle cx="712.3" cy="347.8" r="5.6"/><circle cx="722.2" cy="351.6" r="5.6"/><circle cx="654.2" cy="337.8" r="5.6"/><circle cx="673.8" cy="288.6" r="5.6"/><circle cx="708.5" cy="342.6" r="5.6"/><circle cx="728.9" cy="313.0" r="5.6"/><circle cx="692.7" cy="337.8" r="5.6"/><circle cx="670.8" cy="335.2" r="5.6"/><circle cx="723.6" cy="345.2" r="5.6"/><circle cx="675.9" cy="226.1" r="5.6"/><circle cx="686.2" cy="318.7" r="5.6"/><circle cx="679.6" cy="290.1" r="5.6"/><circle cx="725.4" cy="338.3" r="5.6"/><circle cx="741.8" cy="309.3" r="5.6"/><circle cx="663.2" cy="301.1" r="5.6"/><circle cx="728.2" cy="339.7" r="5.6"/><circle cx="666.8" cy="227.6" r="5.6"/><circle cx="658.1" cy="282.0" r="5.6"/><circle cx="695.8" cy="345.8" r="5.6"/><circle cx="696.0" cy="356.1" r="5.6"/><circle cx="691.5" cy="356.0" r="5.6"/><circle cx="731.9" cy="217.4" r="5.6"/><circle cx="669.1" cy="327.6" r="5.6"/><circle cx="683.2" cy="336.1" r="5.6"/><circle cx="709.1" cy="306.5" r="5.6"/><circle cx="712.4" cy="343.2" r="5.6"/><circle cx="703.7" cy="359.5" r="5.6"/><circle cx="685.9" cy="340.2" r="5.6"/><circle cx="728.7" cy="349.3" r="5.6"/><circle cx="712.4" cy="348.1" r="5.6"/><circle cx="733.7" cy="338.9" r="5.6"/><circle cx="723.0" cy="336.1" r="5.6"/><circle cx="703.9" cy="343.1" r="5.6"/><circle cx="717.0" cy="314.7" r="5.6"/><circle cx="682.7" cy="288.5" r="5.6"/><circle cx="660.6" cy="340.4" r="5.6"/><circle cx="661.6" cy="225.8" r="5.6"/><circle cx="709.1" cy="357.1" r="5.6"/><circle cx="682.2" cy="320.9" r="5.6"/><circle cx="658.2" cy="321.9" r="5.6"/><circle cx="685.3" cy="336.9" r="5.6"/><circle cx="735.1" cy="229.9" r="5.6"/><circle cx="692.1" cy="348.7" r="5.6"/><circle cx="707.1" cy="350.0" r="5.6"/><circle cx="717.0" cy="343.7" r="5.6"/><circle cx="664.2" cy="244.5" r="5.6"/><circle cx="729.7" cy="317.5" r="5.6"/><circle cx="741.8" cy="316.6" r="5.6"/><circle cx="705.1" cy="358.6" r="5.6"/><circle cx="683.4" cy="340.6" r="5.6"/><circle cx="674.7" cy="252.3" r="5.6"/><circle cx="705.7" cy="358.5" r="5.6"/><circle cx="679.2" cy="346.5" r="5.6"/><circle cx="724.1" cy="338.3" r="5.6"/><circle cx="669.3" cy="343.6" r="5.6"/><circle cx="725.3" cy="219.8" r="5.6"/><circle cx="689.3" cy="342.7" r="5.6"/><circle cx="671.8" cy="278.5" r="5.6"/><circle cx="677.8" cy="240.3" r="5.6"/><circle cx="720.4" cy="227.6" r="5.6"/><circle cx="698.8" cy="352.7" r="5.6"/><circle cx="686.8" cy="345.9" r="5.6"/><circle cx="717.3" cy="351.9" r="5.6"/><circle cx="667.4" cy="311.4" r="5.6"/><circle cx="704.9" cy="358.5" r="5.6"/><circle cx="749.1" cy="277.4" r="5.6"/><circle cx="695.6" cy="316.9" r="5.6"/><circle cx="695.1" cy="344.9" r="5.6"/><circle cx="676.4" cy="222.8" r="5.6"/><circle cx="675.9" cy="347.5" r="5.6"/><circle cx="720.8" cy="342.0" r="5.6"/><circle cx="721.9" cy="316.9" r="5.6"/><circle cx="688.7" cy="324.5" r="5.6"/><circle cx="675.4" cy="279.9" r="5.6"/><circle cx="674.1" cy="280.0" r="5.6"/><circle cx="726.6" cy="335.2" r="5.6"/><circle cx="722.0" cy="335.7" r="5.6"/><circle cx="669.8" cy="318.7" r="5.6"/><circle cx="743.9" cy="317.3" r="5.6"/><circle cx="660.9" cy="178.8" r="5.6"/><circle cx="660.2" cy="268.7" r="5.6"/><circle cx="708.7" cy="356.1" r="5.6"/><circle cx="730.4" cy="264.8" r="5.6"/><circle cx="693.2" cy="315.4" r="5.6"/><circle cx="730.0" cy="346.5" r="5.6"/><circle cx="722.1" cy="227.0" r="5.6"/><circle cx="672.7" cy="347.1" r="5.6"/><circle cx="676.1" cy="264.5" r="5.6"/><circle cx="699.2" cy="326.5" r="5.6"/><circle cx="717.1" cy="283.2" r="5.6"/><circle cx="651.1" cy="270.3" r="5.6"/><circle cx="730.9" cy="289.7" r="5.6"/><circle cx="687.7" cy="349.9" r="5.6"/><circle cx="730.7" cy="196.8" r="5.6"/><circle cx="730.3" cy="264.4" r="5.6"/><circle cx="701.3" cy="318.5" r="5.6"/><circle cx="679.6" cy="300.7" r="5.6"/><circle cx="704.2" cy="355.3" r="5.6"/><circle cx="728.4" cy="190.0" r="5.6"/><circle cx="684.4" cy="246.6" r="5.6"/><circle cx="698.1" cy="347.3" r="5.6"/><circle cx="729.1" cy="349.4" r="5.6"/><circle cx="660.7" cy="341.0" r="5.6"/><circle cx="652.1" cy="300.4" r="5.6"/><circle cx="668.3" cy="297.2" r="5.6"/><circle cx="714.3" cy="338.3" r="5.6"/><circle cx="676.3" cy="308.6" r="5.6"/><circle cx="719.8" cy="324.0" r="5.6"/><circle cx="715.1" cy="257.9" r="5.6"/><circle cx="712.9" cy="354.7" r="5.6"/><circle cx="727.4" cy="323.9" r="5.6"/><circle cx="694.0" cy="335.8" r="5.6"/><circle cx="722.8" cy="294.7" r="5.6"/><circle cx="675.3" cy="348.1" r="5.6"/><circle cx="670.6" cy="318.1" r="5.6"/><circle cx="707.5" cy="339.2" r="5.6"/><circle cx="665.1" cy="285.7" r="5.6"/><circle cx="674.6" cy="349.2" r="5.6"/><circle cx="737.4" cy="304.8" r="5.6"/><circle cx="688.2" cy="346.6" r="5.6"/><circle cx="671.6" cy="235.8" r="5.6"/><circle cx="676.4" cy="314.0" r="5.6"/><circle cx="725.7" cy="247.8" r="5.6"/><circle cx="741.6" cy="326.7" r="5.6"/><circle cx="736.7" cy="328.8" r="5.6"/><circle cx="706.8" cy="356.8" r="5.6"/><circle cx="680.0" cy="299.5" r="5.6"/><circle cx="676.2" cy="294.9" r="5.6"/><circle cx="656.1" cy="202.5" r="5.6"/><circle cx="696.9" cy="338.2" r="5.6"/><circle cx="670.9" cy="218.3" r="5.6"/><circle cx="675.9" cy="284.2" r="5.6"/><circle cx="733.9" cy="299.0" r="5.6"/><circle cx="730.1" cy="303.1" r="5.6"/><circle cx="699.9" cy="358.3" r="5.6"/><circle cx="726.2" cy="261.2" r="5.6"/><circle cx="686.0" cy="339.0" r="5.6"/><circle cx="708.5" cy="288.3" r="5.6"/><circle cx="719.5" cy="349.7" r="5.6"/><circle cx="697.9" cy="358.0" r="5.6"/><circle cx="703.8" cy="355.7" r="5.6"/><circle cx="711.5" cy="327.1" r="5.6"/><circle cx="708.1" cy="340.3" r="5.6"/><circle cx="707.1" cy="333.0" r="5.6"/><circle cx="735.0" cy="338.1" r="5.6"/><circle cx="732.4" cy="264.5" r="5.6"/><circle cx="680.2" cy="336.0" r="5.6"/><circle cx="684.9" cy="307.3" r="5.6"/><circle cx="688.5" cy="272.9" r="5.6"/><circle cx="665.4" cy="319.5" r="5.6"/><circle cx="669.6" cy="321.5" r="5.6"/><circle cx="695.8" cy="343.0" r="5.6"/><circle cx="662.6" cy="210.7" r="5.6"/><circle cx="735.0" cy="338.1" r="5.6"/><circle cx="654.2" cy="330.0" r="5.6"/><circle cx="715.0" cy="313.4" r="5.6"/><circle cx="675.0" cy="333.1" r="5.6"/><circle cx="670.9" cy="201.1" r="5.6"/><circle cx="719.2" cy="239.5" r="5.6"/><circle cx="726.9" cy="346.2" r="5.6"/><circle cx="693.8" cy="348.5" r="5.6"/><circle cx="687.3" cy="351.6" r="5.6"/><circle cx="723.4" cy="328.5" r="5.6"/><circle cx="723.9" cy="347.3" r="5.6"/><circle cx="680.1" cy="340.7" r="5.6"/><circle cx="704.5" cy="354.6" r="5.6"/><circle cx="680.7" cy="215.4" r="5.6"/><circle cx="672.9" cy="335.6" r="5.6"/><circle cx="708.4" cy="358.0" r="5.6"/><circle cx="666.7" cy="335.9" r="5.6"/><circle cx="725.4" cy="215.2" r="5.6"/><circle cx="722.5" cy="342.2" r="5.6"/><circle cx="671.8" cy="335.6" r="5.6"/><circle cx="654.6" cy="239.4" r="5.6"/><circle cx="679.4" cy="306.1" r="5.6"/><circle cx="670.9" cy="318.6" r="5.6"/><circle cx="723.4" cy="345.4" r="5.6"/><circle cx="680.5" cy="344.6" r="5.6"/><circle cx="731.0" cy="303.4" r="5.6"/><circle cx="737.8" cy="304.8" r="5.6"/><circle cx="713.5" cy="331.4" r="5.6"/><circle cx="724.3" cy="345.8" r="5.6"/><circle cx="744.9" cy="255.6" r="5.6"/><circle cx="655.0" cy="334.0" r="5.6"/><circle cx="700.6" cy="331.7" r="5.6"/><circle cx="693.2" cy="350.2" r="5.6"/><circle cx="712.6" cy="330.1" r="5.6"/><circle cx="741.0" cy="300.2" r="5.6"/><circle cx="718.4" cy="305.6" r="5.6"/><circle cx="708.3" cy="354.3" r="5.6"/><circle cx="716.6" cy="340.8" r="5.6"/><circle cx="663.7" cy="292.9" r="5.6"/><circle cx="708.0" cy="357.1" r="5.6"/><circle cx="716.1" cy="321.5" r="5.6"/><circle cx="700.0" cy="338.7" r="5.6"/><circle cx="677.2" cy="234.8" r="5.6"/><circle cx="686.5" cy="349.2" r="5.6"/><circle cx="672.3" cy="327.1" r="5.6"/><circle cx="676.4" cy="280.0" r="5.6"/><circle cx="724.0" cy="295.1" r="5.6"/><circle cx="733.1" cy="293.1" r="5.6"/><circle cx="717.2" cy="281.9" r="5.6"/><circle cx="709.2" cy="349.4" r="5.6"/><circle cx="709.6" cy="340.2" r="5.6"/><circle cx="727.5" cy="347.9" r="5.6"/><circle cx="696.3" cy="344.8" r="5.6"/><circle cx="716.0" cy="346.9" r="5.6"/><circle cx="678.2" cy="283.6" r="5.6"/><circle cx="714.6" cy="334.3" r="5.6"/><circle cx="692.0" cy="351.8" r="5.6"/><circle cx="667.3" cy="239.0" r="5.6"/><circle cx="689.3" cy="352.0" r="5.6"/><circle cx="719.9" cy="304.7" r="5.6"/><circle cx="714.4" cy="301.1" r="5.6"/><circle cx="680.9" cy="346.3" r="5.6"/><circle cx="722.5" cy="329.1" r="5.6"/><circle cx="692.4" cy="349.0" r="5.6"/><circle cx="657.0" cy="269.8" r="5.6"/><circle cx="701.0" cy="351.7" r="5.6"/><circle cx="674.5" cy="348.7" r="5.6"/><circle cx="687.4" cy="325.1" r="5.6"/><circle cx="690.5" cy="353.5" r="5.6"/><circle cx="674.4" cy="333.7" r="5.6"/><circle cx="724.4" cy="315.8" r="5.6"/><circle cx="721.4" cy="352.9" r="5.6"/><circle cx="713.3" cy="304.6" r="5.6"/><circle cx="709.4" cy="357.8" r="5.6"/><circle cx="702.9" cy="339.7" r="5.6"/><circle cx="718.3" cy="336.2" r="5.6"/><circle cx="734.4" cy="333.8" r="5.6"/><circle cx="697.5" cy="325.3" r="5.6"/><circle cx="708.8" cy="326.1" r="5.6"/><circle cx="662.5" cy="266.9" r="5.6"/><circle cx="724.1" cy="264.2" r="5.6"/><circle cx="724.4" cy="335.0" r="5.6"/><circle cx="718.9" cy="346.0" r="5.6"/><circle cx="718.3" cy="307.6" r="5.6"/><circle cx="689.1" cy="328.5" r="5.6"/><circle cx="706.7" cy="354.0" r="5.6"/><circle cx="667.6" cy="302.7" r="5.6"/><circle cx="725.1" cy="309.9" r="5.6"/><circle cx="694.3" cy="328.0" r="5.6"/><circle cx="699.5" cy="352.5" r="5.6"/><circle cx="732.8" cy="309.9" r="5.6"/><circle cx="736.3" cy="339.2" r="5.6"/><circle cx="660.9" cy="293.1" r="5.6"/><circle cx="736.5" cy="314.5" r="5.6"/><circle cx="676.6" cy="330.3" r="5.6"/><circle cx="664.6" cy="292.5" r="5.6"/><circle cx="680.7" cy="331.1" r="5.6"/><circle cx="676.2" cy="345.4" r="5.6"/><circle cx="720.5" cy="313.3" r="5.6"/><circle cx="724.8" cy="342.9" r="5.6"/><circle cx="718.3" cy="233.1" r="5.6"/><circle cx="716.9" cy="333.6" r="5.6"/><circle cx="719.0" cy="353.9" r="5.6"/><circle cx="694.2" cy="336.8" r="5.6"/><circle cx="684.4" cy="258.9" r="5.6"/><circle cx="670.4" cy="333.7" r="5.6"/><circle cx="719.2" cy="300.1" r="5.6"/><circle cx="718.4" cy="349.8" r="5.6"/><circle cx="705.7" cy="353.3" r="5.6"/><circle cx="720.7" cy="268.2" r="5.6"/><circle cx="704.9" cy="351.1" r="5.6"/><circle cx="678.1" cy="288.7" r="5.6"/><circle cx="675.2" cy="305.8" r="5.6"/><circle cx="701.8" cy="354.2" r="5.6"/><circle cx="748.6" cy="320.5" r="5.6"/><circle cx="729.8" cy="325.5" r="5.6"/><circle cx="720.4" cy="317.4" r="5.6"/><circle cx="719.2" cy="198.3" r="5.6"/><circle cx="677.6" cy="278.3" r="5.6"/><circle cx="677.2" cy="296.3" r="5.6"/><circle cx="707.4" cy="349.9" r="5.6"/><circle cx="728.5" cy="331.7" r="5.6"/><circle cx="680.7" cy="292.5" r="5.6"/><circle cx="676.3" cy="334.6" r="5.6"/><circle cx="719.9" cy="236.5" r="5.6"/><circle cx="716.3" cy="317.2" r="5.6"/><circle cx="739.5" cy="301.5" r="5.6"/><circle cx="693.4" cy="332.9" r="5.6"/><circle cx="710.2" cy="327.3" r="5.6"/><circle cx="723.7" cy="318.3" r="5.6"/><circle cx="731.0" cy="347.3" r="5.6"/><circle cx="666.1" cy="305.2" r="5.6"/><circle cx="711.7" cy="355.7" r="5.6"/><circle cx="694.3" cy="334.1" r="5.6"/><circle cx="730.5" cy="343.2" r="5.6"/><circle cx="671.1" cy="212.9" r="5.6"/><circle cx="692.1" cy="351.2" r="5.6"/><circle cx="722.3" cy="229.2" r="5.6"/><circle cx="685.0" cy="348.0" r="5.6"/><circle cx="661.4" cy="333.3" r="5.6"/><circle cx="724.8" cy="333.6" r="5.6"/><circle cx="694.0" cy="347.4" r="5.6"/><circle cx="742.1" cy="344.4" r="5.6"/><circle cx="713.6" cy="282.2" r="5.6"/><circle cx="685.9" cy="340.1" r="5.6"/><circle cx="698.8" cy="340.5" r="5.6"/><circle cx="711.8" cy="325.5" r="5.6"/><circle cx="686.5" cy="311.2" r="5.6"/><circle cx="701.6" cy="360.0" r="5.6"/><circle cx="735.3" cy="235.6" r="5.6"/><circle cx="686.5" cy="353.5" r="5.6"/><circle cx="718.1" cy="339.2" r="5.6"/><circle cx="684.6" cy="295.1" r="5.6"/><circle cx="664.0" cy="246.4" r="5.6"/><circle cx="713.7" cy="353.2" r="5.6"/><circle cx="729.1" cy="274.6" r="5.6"/><circle cx="711.5" cy="350.5" r="5.6"/><circle cx="731.3" cy="204.0" r="5.6"/><circle cx="670.8" cy="228.9" r="5.6"/><circle cx="736.6" cy="262.4" r="5.6"/><circle cx="704.0" cy="357.9" r="5.6"/><circle cx="685.9" cy="342.4" r="5.6"/><circle cx="725.8" cy="321.5" r="5.6"/><circle cx="728.7" cy="188.8" r="5.6"/><circle cx="678.1" cy="348.8" r="5.6"/><circle cx="681.7" cy="249.7" r="5.6"/><circle cx="702.8" cy="348.3" r="5.6"/><circle cx="715.3" cy="327.4" r="5.6"/><circle cx="659.0" cy="292.8" r="5.6"/><circle cx="659.2" cy="264.6" r="5.6"/><circle cx="698.2" cy="350.9" r="5.6"/><circle cx="727.0" cy="268.0" r="5.6"/><circle cx="676.9" cy="296.6" r="5.6"/><circle cx="708.5" cy="354.7" r="5.6"/><circle cx="686.6" cy="353.9" r="5.6"/><circle cx="671.7" cy="314.9" r="5.6"/><circle cx="670.5" cy="303.1" r="5.6"/><circle cx="683.3" cy="328.0" r="5.6"/><circle cx="699.2" cy="318.2" r="5.6"/><circle cx="667.4" cy="337.3" r="5.6"/><circle cx="698.7" cy="348.6" r="5.6"/><circle cx="668.5" cy="210.7" r="5.6"/><circle cx="662.7" cy="290.3" r="5.6"/><circle cx="685.3" cy="254.6" r="5.6"/><circle cx="699.3" cy="342.2" r="5.6"/><circle cx="715.0" cy="352.3" r="5.6"/><circle cx="743.2" cy="201.7" r="5.6"/><circle cx="716.6" cy="258.5" r="5.6"/><circle cx="737.8" cy="338.2" r="5.6"/><circle cx="691.9" cy="345.3" r="5.6"/><circle cx="730.4" cy="328.3" r="5.6"/><circle cx="671.1" cy="301.9" r="5.6"/><circle cx="696.4" cy="352.4" r="5.6"/><circle cx="738.8" cy="334.3" r="5.6"/><circle cx="733.1" cy="247.2" r="5.6"/><circle cx="683.9" cy="316.6" r="5.6"/><circle cx="728.7" cy="219.3" r="5.6"/><circle cx="669.2" cy="267.8" r="5.6"/><circle cx="721.5" cy="300.0" r="5.6"/><circle cx="681.7" cy="344.5" r="5.6"/><circle cx="665.2" cy="313.3" r="5.6"/><circle cx="730.2" cy="299.6" r="5.6"/><circle cx="697.9" cy="358.2" r="5.6"/><circle cx="677.2" cy="323.3" r="5.6"/><circle cx="726.2" cy="292.7" r="5.6"/><circle cx="718.3" cy="343.9" r="5.6"/><circle cx="704.6" cy="359.4" r="5.6"/><circle cx="705.8" cy="334.6" r="5.6"/><circle cx="718.5" cy="286.5" r="5.6"/><circle cx="706.9" cy="353.3" r="5.6"/><circle cx="702.4" cy="349.8" r="5.6"/><circle cx="718.1" cy="322.9" r="5.6"/><circle cx="703.9" cy="348.7" r="5.6"/><circle cx="722.5" cy="337.8" r="5.6"/><circle cx="663.6" cy="287.8" r="5.6"/><circle cx="731.3" cy="346.9" r="5.6"/><circle cx="689.7" cy="353.2" r="5.6"/><circle cx="663.5" cy="226.6" r="5.6"/><circle cx="662.3" cy="334.3" r="5.6"/><circle cx="696.9" cy="349.5" r="5.6"/><circle cx="748.5" cy="300.6" r="5.6"/><circle cx="687.6" cy="334.5" r="5.6"/><circle cx="668.2" cy="319.1" r="5.6"/><circle cx="738.7" cy="286.8" r="5.6"/><circle cx="707.9" cy="343.1" r="5.6"/><circle cx="661.6" cy="329.9" r="5.6"/><circle cx="691.1" cy="348.0" r="5.6"/><circle cx="718.6" cy="337.6" r="5.6"/><circle cx="659.4" cy="258.9" r="5.6"/><circle cx="706.7" cy="343.2" r="5.6"/><circle cx="720.4" cy="320.4" r="5.6"/><circle cx="665.2" cy="340.2" r="5.6"/><circle cx="701.0" cy="358.0" r="5.6"/><circle cx="706.0" cy="354.0" r="5.6"/><circle cx="697.8" cy="349.0" r="5.6"/><circle cx="740.5" cy="321.9" r="5.6"/><circle cx="692.4" cy="354.5" r="5.6"/><circle cx="696.7" cy="353.3" r="5.6"/><circle cx="669.8" cy="309.6" r="5.6"/><circle cx="727.4" cy="315.4" r="5.6"/><circle cx="678.7" cy="289.5" r="5.6"/><circle cx="701.4" cy="345.9" r="5.6"/><circle cx="668.4" cy="316.6" r="5.6"/><circle cx="733.2" cy="339.9" r="5.6"/><circle cx="707.9" cy="351.6" r="5.6"/><circle cx="685.7" cy="349.3" r="5.6"/><circle cx="694.4" cy="353.1" r="5.6"/><circle cx="685.1" cy="345.8" r="5.6"/><circle cx="665.3" cy="319.7" r="5.6"/><circle cx="682.3" cy="347.4" r="5.6"/><circle cx="718.0" cy="279.0" r="5.6"/><circle cx="674.2" cy="348.0" r="5.6"/><circle cx="707.8" cy="356.0" r="5.6"/><circle cx="693.2" cy="331.0" r="5.6"/><circle cx="694.5" cy="338.6" r="5.6"/><circle cx="682.1" cy="342.6" r="5.6"/><circle cx="673.4" cy="293.8" r="5.6"/><circle cx="673.8" cy="295.0" r="5.6"/><circle cx="683.0" cy="320.9" r="5.6"/><circle cx="697.6" cy="349.8" r="5.6"/><circle cx="725.7" cy="348.2" r="5.6"/><circle cx="689.3" cy="348.5" r="5.6"/><circle cx="697.3" cy="344.9" r="5.6"/><circle cx="704.2" cy="352.1" r="5.6"/><circle cx="707.0" cy="333.7" r="5.6"/><circle cx="706.0" cy="356.6" r="5.6"/><circle cx="743.3" cy="321.6" r="5.6"/><circle cx="749.4" cy="337.6" r="5.6"/><circle cx="730.9" cy="234.3" r="5.6"/><circle cx="669.1" cy="282.1" r="5.6"/><circle cx="667.3" cy="324.7" r="5.6"/><circle cx="724.8" cy="286.7" r="5.6"/><circle cx="737.3" cy="308.6" r="5.6"/><circle cx="668.7" cy="253.7" r="5.6"/><circle cx="669.5" cy="116.2" r="5.6"/><circle cx="663.3" cy="131.0" r="5.6"/><circle cx="658.4" cy="137.1" r="5.6"/><circle cx="660.9" cy="137.1" r="5.6"/><circle cx="657.2" cy="149.4" r="5.6"/><circle cx="683.0" cy="151.8" r="5.6"/><circle cx="668.2" cy="162.9" r="5.6"/><circle cx="675.6" cy="169.0" r="5.6"/><circle cx="659.6" cy="173.9" r="5.6"/><circle cx="734.5" cy="116.2" r="5.6"/><circle cx="743.1" cy="121.1" r="5.6"/><circle cx="723.5" cy="128.5" r="5.6"/><circle cx="728.4" cy="137.1" r="5.6"/><circle cx="719.8" cy="148.1" r="5.6"/><circle cx="721.0" cy="158.0" r="5.6"/><circle cx="722.2" cy="167.8" r="5.6"/><circle cx="767.7" cy="343.3" r="5.6"/><circle cx="773.8" cy="340.9" r="5.6"/><circle cx="784.8" cy="338.4" r="5.6"/><circle cx="764.0" cy="349.5" r="5.6"/><circle cx="751.7" cy="354.4" r="5.6"/><circle cx="647.4" cy="324.9" r="5.6"/><circle cx="648.6" cy="252.5" r="5.6"/>
</g>
<line x1="690.33" y1="114.50" x2="690.33" y2="363.50" stroke="#231f20" stroke-width="1.6"/>
<line x1="714.88" y1="114.50" x2="714.88" y2="363.50" stroke="#231f20" stroke-width="1.6"/>
<line x1="579.85" y1="344.54" x2="825.35" y2="344.54" stroke="#231f20" stroke-width="1.6"/>
<text x="558.05" y="368.40" font-size="30" text-anchor="end">0</text>
<text x="558.05" y="307.02" font-size="30" text-anchor="end">5</text>
<text x="558.05" y="245.65" font-size="30" text-anchor="end">10</text>
<text x="558.05" y="184.28" font-size="30" text-anchor="end">15</text>
<text x="558.05" y="122.90" font-size="30" text-anchor="end">20</text>
<text x="579.85" y="408.00" font-size="30" text-anchor="middle">0.0</text>
<text x="641.23" y="408.00" font-size="30" text-anchor="middle">0.5</text>
<text x="702.60" y="408.00" font-size="30" text-anchor="middle">1.0</text>
<text x="763.98" y="408.00" font-size="30" text-anchor="middle">1.5</text>
<text x="825.35" y="408.00" font-size="30" text-anchor="middle">2.0</text>
<text x="696.35" y="74.30" font-size="38" text-anchor="middle" textLength="200.00" lengthAdjust="spacingAndGlyphs">Replicate#2</text>
<text x="703.60" y="465.70" font-size="38" text-anchor="middle" textLength="200.20" lengthAdjust="spacingAndGlyphs">SILAC Ratio</text>
<text transform="translate(497.60,360.5) rotate(-90)" font-size="37" textLength="246.5" lengthAdjust="spacingAndGlyphs">-Log<tspan font-size="29" dy="14.5">10</tspan><tspan dy="-14.5">(p-value)</tspan></text>
<line x1="1018.00" y1="113.70" x2="1018.00" y2="375.50" stroke="#231f20" stroke-width="2.6"/>
<line x1="1003.00" y1="360.50" x2="1264.80" y2="360.50" stroke="#231f20" stroke-width="2.6"/>
<line x1="1003.00" y1="299.12" x2="1018.00" y2="299.12" stroke="#231f20" stroke-width="2.6"/>
<line x1="1003.00" y1="237.75" x2="1018.00" y2="237.75" stroke="#231f20" stroke-width="2.6"/>
<line x1="1003.00" y1="176.38" x2="1018.00" y2="176.38" stroke="#231f20" stroke-width="2.6"/>
<line x1="1003.00" y1="115.00" x2="1018.00" y2="115.00" stroke="#231f20" stroke-width="2.6"/>
<line x1="1079.38" y1="360.50" x2="1079.38" y2="375.50" stroke="#231f20" stroke-width="2.6"/>
<line x1="1140.75" y1="360.50" x2="1140.75" y2="375.50" stroke="#231f20" stroke-width="2.6"/>
<line x1="1202.12" y1="360.50" x2="1202.12" y2="375.50" stroke="#231f20" stroke-width="2.6"/>
<line x1="1263.50" y1="360.50" x2="1263.50" y2="375.50" stroke="#231f20" stroke-width="2.6"/>
<g fill="#a7a9ac" fill-opacity="0.5">
<circle cx="1137.0" cy="353.8" r="5.6"/><circle cx="1121.9" cy="345.1" r="5.6"/><circle cx="1107.6" cy="351.5" r="5.6"/><circle cx="1150.0" cy="340.2" r="5.6"/><circle cx="1173.8" cy="340.8" r="5.6"/><circle cx="1112.5" cy="353.3" r="5.6"/><circle cx="1134.5" cy="354.3" r="5.6"/><circle cx="1173.5" cy="336.2" r="5.6"/><circle cx="1130.5" cy="333.1" r="5.6"/><circle cx="1152.9" cy="314.1" r="5.6"/><circle cx="1135.7" cy="348.7" r="5.6"/><circle cx="1177.7" cy="326.5" r="5.6"/><circle cx="1127.1" cy="360.5" r="5.6"/><circle cx="1149.8" cy="330.0" r="5.6"/><circle cx="1181.3" cy="321.4" r="5.6"/><circle cx="1140.4" cy="340.7" r="5.6"/><circle cx="1155.0" cy="344.9" r="5.6"/><circle cx="1115.8" cy="336.8" r="5.6"/><circle cx="1154.9" cy="359.1" r="5.6"/><circle cx="1193.7" cy="337.2" r="5.6"/><circle cx="1131.9" cy="358.9" r="5.6"/><circle cx="1137.6" cy="349.3" r="5.6"/><circle cx="1168.8" cy="349.9" r="5.6"/><circle cx="1151.4" cy="348.5" r="5.6"/><circle cx="1118.2" cy="313.5" r="5.6"/><circle cx="1157.8" cy="353.2" r="5.6"/><circle cx="1130.7" cy="354.6" r="5.6"/><circle cx="1137.5" cy="344.9" r="5.6"/><circle cx="1150.8" cy="321.7" r="5.6"/><circle cx="1113.0" cy="354.5" r="5.6"/><circle cx="1116.3" cy="343.4" r="5.6"/><circle cx="1117.4" cy="350.2" r="5.6"/><circle cx="1139.6" cy="347.8" r="5.6"/><circle cx="1109.9" cy="342.6" r="5.6"/><circle cx="1120.5" cy="353.5" r="5.6"/><circle cx="1145.3" cy="338.1" r="5.6"/><circle cx="1182.8" cy="292.9" r="5.6"/><circle cx="1120.6" cy="331.9" r="5.6"/><circle cx="1174.7" cy="350.6" r="5.6"/><circle cx="1139.5" cy="354.0" r="5.6"/><circle cx="1104.7" cy="235.0" r="5.6"/><circle cx="1133.3" cy="360.2" r="5.6"/><circle cx="1120.1" cy="341.7" r="5.6"/><circle cx="1106.3" cy="339.2" r="5.6"/><circle cx="1137.4" cy="355.7" r="5.6"/><circle cx="1166.9" cy="354.1" r="5.6"/><circle cx="1171.2" cy="332.4" r="5.6"/><circle cx="1141.8" cy="358.9" r="5.6"/><circle cx="1145.3" cy="353.8" r="5.6"/><circle cx="1120.4" cy="347.2" r="5.6"/><circle cx="1173.6" cy="337.3" r="5.6"/><circle cx="1155.3" cy="350.2" r="5.6"/><circle cx="1116.0" cy="267.1" r="5.6"/><circle cx="1134.9" cy="359.1" r="5.6"/><circle cx="1149.1" cy="355.4" r="5.6"/><circle cx="1111.1" cy="341.6" r="5.6"/><circle cx="1110.6" cy="342.6" r="5.6"/><circle cx="1129.6" cy="359.4" r="5.6"/><circle cx="1121.6" cy="321.7" r="5.6"/><circle cx="1147.1" cy="340.2" r="5.6"/><circle cx="1149.6" cy="328.5" r="5.6"/><circle cx="1133.1" cy="356.3" r="5.6"/><circle cx="1146.7" cy="357.0" r="5.6"/><circle cx="1186.8" cy="339.7" r="5.6"/><circle cx="1147.7" cy="351.4" r="5.6"/><circle cx="1129.2" cy="348.1" r="5.6"/><circle cx="1115.3" cy="336.9" r="5.6"/><circle cx="1180.9" cy="339.3" r="5.6"/><circle cx="1159.8" cy="345.5" r="5.6"/><circle cx="1151.5" cy="323.9" r="5.6"/><circle cx="1114.0" cy="329.6" r="5.6"/><circle cx="1121.6" cy="319.1" r="5.6"/><circle cx="1127.3" cy="355.3" r="5.6"/><circle cx="1128.4" cy="348.7" r="5.6"/><circle cx="1137.4" cy="355.6" r="5.6"/><circle cx="1160.4" cy="355.5" r="5.6"/><circle cx="1107.6" cy="277.0" r="5.6"/><circle cx="1124.8" cy="332.2" r="5.6"/><circle cx="1121.0" cy="357.2" r="5.6"/><circle cx="1141.3" cy="334.0" r="5.6"/><circle cx="1102.9" cy="256.3" r="5.6"/><circle cx="1134.5" cy="358.9" r="5.6"/><circle cx="1164.2" cy="322.0" r="5.6"/><circle cx="1125.3" cy="279.3" r="5.6"/><circle cx="1114.7" cy="342.5" r="5.6"/><circle cx="1125.2" cy="351.5" r="5.6"/><circle cx="1113.4" cy="321.8" r="5.6"/><circle cx="1197.8" cy="336.0" r="5.6"/><circle cx="1168.6" cy="296.3" r="5.6"/><circle cx="1164.0" cy="317.9" r="5.6"/><circle cx="1160.1" cy="341.0" r="5.6"/><circle cx="1098.5" cy="321.1" r="5.6"/><circle cx="1154.4" cy="349.5" r="5.6"/><circle cx="1151.3" cy="342.8" r="5.6"/><circle cx="1185.5" cy="325.9" r="5.6"/><circle cx="1162.0" cy="333.5" r="5.6"/><circle cx="1123.5" cy="355.3" r="5.6"/><circle cx="1145.4" cy="360.2" r="5.6"/><circle cx="1146.3" cy="338.0" r="5.6"/><circle cx="1128.5" cy="350.5" r="5.6"/><circle cx="1151.8" cy="344.1" r="5.6"/><circle cx="1157.7" cy="355.5" r="5.6"/><circle cx="1161.7" cy="307.4" r="5.6"/><circle cx="1126.9" cy="278.9" r="5.6"/><circle cx="1143.9" cy="359.9" r="5.6"/><circle cx="1114.5" cy="343.1" r="5.6"/><circle cx="1138.2" cy="348.4" r="5.6"/><circle cx="1114.4" cy="354.4" r="5.6"/><circle cx="1122.0" cy="358.0" r="5.6"/><circle cx="1165.4" cy="301.4" r="5.6"/><circle cx="1152.3" cy="333.9" r="5.6"/><circle cx="1140.3" cy="359.2" r="5.6"/><circle cx="1116.4" cy="355.4" r="5.6"/><circle cx="1151.6" cy="337.6" r="5.6"/><circle cx="1140.1" cy="346.3" r="5.6"/><circle cx="1158.1" cy="349.5" r="5.6"/><circle cx="1124.9" cy="351.6" r="5.6"/><circle cx="1168.7" cy="354.5" r="5.6"/><circle cx="1144.9" cy="353.5" r="5.6"/><circle cx="1153.5" cy="335.8" r="5.6"/><circle cx="1163.4" cy="348.8" r="5.6"/><circle cx="1141.4" cy="328.7" r="5.6"/><circle cx="1117.0" cy="351.8" r="5.6"/><circle cx="1108.9" cy="284.3" r="5.6"/><circle cx="1147.6" cy="359.9" r="5.6"/><circle cx="1171.3" cy="335.3" r="5.6"/><circle cx="1117.5" cy="341.0" r="5.6"/><circle cx="1114.1" cy="330.7" r="5.6"/><circle cx="1125.2" cy="338.3" r="5.6"/><circle cx="1111.9" cy="341.3" r="5.6"/><circle cx="1115.4" cy="337.5" r="5.6"/><circle cx="1105.1" cy="349.8" r="5.6"/><circle cx="1144.8" cy="359.1" r="5.6"/><circle cx="1144.4" cy="353.2" r="5.6"/><circle cx="1142.7" cy="347.0" r="5.6"/><circle cx="1160.0" cy="342.6" r="5.6"/><circle cx="1131.0" cy="348.3" r="5.6"/><circle cx="1147.3" cy="334.7" r="5.6"/><circle cx="1131.3" cy="357.3" r="5.6"/><circle cx="1162.4" cy="355.7" r="5.6"/><circle cx="1111.9" cy="272.3" r="5.6"/><circle cx="1137.1" cy="350.0" r="5.6"/><circle cx="1104.2" cy="325.7" r="5.6"/><circle cx="1124.9" cy="307.0" r="5.6"/><circle cx="1157.8" cy="342.1" r="5.6"/><circle cx="1147.5" cy="358.6" r="5.6"/><circle cx="1120.0" cy="358.4" r="5.6"/><circle cx="1111.4" cy="343.6" r="5.6"/><circle cx="1122.8" cy="353.5" r="5.6"/><circle cx="1126.2" cy="336.3" r="5.6"/><circle cx="1173.8" cy="302.0" r="5.6"/><circle cx="1117.8" cy="356.3" r="5.6"/><circle cx="1163.2" cy="348.8" r="5.6"/><circle cx="1141.6" cy="349.2" r="5.6"/><circle cx="1131.5" cy="340.4" r="5.6"/><circle cx="1132.7" cy="353.3" r="5.6"/><circle cx="1170.9" cy="346.4" r="5.6"/><circle cx="1150.2" cy="346.9" r="5.6"/><circle cx="1132.0" cy="352.3" r="5.6"/><circle cx="1149.2" cy="360.4" r="5.6"/><circle cx="1176.4" cy="344.3" r="5.6"/><circle cx="1113.1" cy="350.0" r="5.6"/><circle cx="1112.4" cy="327.3" r="5.6"/><circle cx="1154.5" cy="346.0" r="5.6"/><circle cx="1118.4" cy="310.7" r="5.6"/><circle cx="1140.0" cy="357.6" r="5.6"/><circle cx="1110.2" cy="291.1" r="5.6"/><circle cx="1149.2" cy="355.2" r="5.6"/><circle cx="1117.4" cy="322.3" r="5.6"/><circle cx="1125.4" cy="344.3" r="5.6"/><circle cx="1118.4" cy="344.4" r="5.6"/><circle cx="1190.4" cy="307.7" r="5.6"/><circle cx="1105.9" cy="327.3" r="5.6"/><circle cx="1152.2" cy="345.0" r="5.6"/><circle cx="1126.3" cy="314.4" r="5.6"/><circle cx="1145.6" cy="351.4" r="5.6"/><circle cx="1142.8" cy="352.4" r="5.6"/><circle cx="1110.7" cy="320.8" r="5.6"/><circle cx="1142.5" cy="321.5" r="5.6"/><circle cx="1120.2" cy="339.6" r="5.6"/><circle cx="1147.4" cy="357.3" r="5.6"/><circle cx="1166.4" cy="340.2" r="5.6"/><circle cx="1193.0" cy="340.8" r="5.6"/><circle cx="1115.1" cy="344.3" r="5.6"/><circle cx="1122.0" cy="310.5" r="5.6"/><circle cx="1179.0" cy="337.4" r="5.6"/><circle cx="1135.9" cy="360.1" r="5.6"/><circle cx="1136.9" cy="355.8" r="5.6"/><circle cx="1136.6" cy="358.2" r="5.6"/><circle cx="1191.3" cy="337.2" r="5.6"/><circle cx="1120.9" cy="355.5" r="5.6"/><circle cx="1161.4" cy="355.8" r="5.6"/><circle cx="1172.9" cy="348.5" r="5.6"/><circle cx="1164.2" cy="339.1" r="5.6"/><circle cx="1120.3" cy="326.4" r="5.6"/><circle cx="1187.7" cy="339.4" r="5.6"/><circle cx="1178.0" cy="307.5" r="5.6"/><circle cx="1155.8" cy="358.7" r="5.6"/><circle cx="1146.5" cy="352.1" r="5.6"/><circle cx="1119.2" cy="328.0" r="5.6"/><circle cx="1169.3" cy="318.5" r="5.6"/><circle cx="1121.5" cy="339.5" r="5.6"/><circle cx="1111.4" cy="262.6" r="5.6"/><circle cx="1121.3" cy="359.2" r="5.6"/><circle cx="1155.3" cy="353.6" r="5.6"/><circle cx="1144.4" cy="356.6" r="5.6"/><circle cx="1112.5" cy="303.2" r="5.6"/><circle cx="1113.0" cy="334.6" r="5.6"/><circle cx="1132.9" cy="357.4" r="5.6"/><circle cx="1186.7" cy="292.3" r="5.6"/><circle cx="1171.1" cy="342.9" r="5.6"/><circle cx="1119.4" cy="342.9" r="5.6"/><circle cx="1183.3" cy="290.0" r="5.6"/><circle cx="1133.5" cy="337.9" r="5.6"/><circle cx="1127.1" cy="303.7" r="5.6"/><circle cx="1184.3" cy="303.1" r="5.6"/><circle cx="1119.4" cy="341.7" r="5.6"/><circle cx="1111.8" cy="325.3" r="5.6"/><circle cx="1186.4" cy="344.3" r="5.6"/><circle cx="1149.5" cy="357.5" r="5.6"/><circle cx="1121.3" cy="295.7" r="5.6"/><circle cx="1159.1" cy="300.1" r="5.6"/><circle cx="1111.4" cy="292.0" r="5.6"/><circle cx="1123.0" cy="324.5" r="5.6"/><circle cx="1156.4" cy="339.3" r="5.6"/><circle cx="1132.1" cy="302.0" r="5.6"/><circle cx="1165.8" cy="349.5" r="5.6"/><circle cx="1176.9" cy="274.0" r="5.6"/><circle cx="1151.4" cy="326.4" r="5.6"/><circle cx="1190.3" cy="339.6" r="5.6"/><circle cx="1136.9" cy="351.2" r="5.6"/><circle cx="1163.6" cy="346.2" r="5.6"/><circle cx="1147.4" cy="359.4" r="5.6"/><circle cx="1124.3" cy="345.4" r="5.6"/><circle cx="1135.1" cy="354.0" r="5.6"/><circle cx="1109.1" cy="320.8" r="5.6"/><circle cx="1123.8" cy="326.6" r="5.6"/><circle cx="1185.2" cy="265.3" r="5.6"/><circle cx="1139.7" cy="341.3" r="5.6"/><circle cx="1123.8" cy="354.6" r="5.6"/><circle cx="1145.8" cy="355.7" r="5.6"/><circle cx="1141.9" cy="342.1" r="5.6"/><circle cx="1178.5" cy="337.6" r="5.6"/><circle cx="1168.8" cy="353.3" r="5.6"/><circle cx="1179.6" cy="322.3" r="5.6"/><circle cx="1137.3" cy="350.5" r="5.6"/><circle cx="1140.3" cy="341.4" r="5.6"/><circle cx="1122.5" cy="348.9" r="5.6"/><circle cx="1106.7" cy="311.2" r="5.6"/><circle cx="1156.2" cy="275.3" r="5.6"/><circle cx="1149.8" cy="313.1" r="5.6"/><circle cx="1103.6" cy="304.4" r="5.6"/><circle cx="1178.3" cy="307.8" r="5.6"/><circle cx="1124.8" cy="302.9" r="5.6"/><circle cx="1137.9" cy="356.2" r="5.6"/><circle cx="1113.5" cy="352.7" r="5.6"/><circle cx="1123.2" cy="349.8" r="5.6"/><circle cx="1185.7" cy="297.1" r="5.6"/><circle cx="1183.2" cy="341.0" r="5.6"/><circle cx="1120.7" cy="307.9" r="5.6"/><circle cx="1112.4" cy="338.6" r="5.6"/><circle cx="1152.2" cy="334.7" r="5.6"/><circle cx="1164.7" cy="301.4" r="5.6"/><circle cx="1144.2" cy="348.5" r="5.6"/><circle cx="1107.0" cy="336.6" r="5.6"/><circle cx="1131.4" cy="349.0" r="5.6"/><circle cx="1112.0" cy="298.5" r="5.6"/><circle cx="1195.2" cy="297.5" r="5.6"/><circle cx="1202.1" cy="328.9" r="5.6"/><circle cx="1199.3" cy="281.2" r="5.6"/><circle cx="1125.4" cy="344.7" r="5.6"/><circle cx="1142.4" cy="357.3" r="5.6"/><circle cx="1119.7" cy="341.5" r="5.6"/><circle cx="1155.9" cy="348.6" r="5.6"/><circle cx="1137.2" cy="343.0" r="5.6"/><circle cx="1124.5" cy="328.0" r="5.6"/><circle cx="1131.1" cy="356.6" r="5.6"/><circle cx="1160.6" cy="356.2" r="5.6"/><circle cx="1175.5" cy="300.2" r="5.6"/><circle cx="1176.2" cy="329.5" r="5.6"/><circle cx="1111.0" cy="336.0" r="5.6"/><circle cx="1153.5" cy="356.7" r="5.6"/><circle cx="1161.5" cy="352.0" r="5.6"/><circle cx="1160.0" cy="346.2" r="5.6"/><circle cx="1182.1" cy="346.3" r="5.6"/><circle cx="1114.5" cy="231.7" r="5.6"/><circle cx="1143.6" cy="323.1" r="5.6"/><circle cx="1123.5" cy="354.9" r="5.6"/><circle cx="1113.8" cy="315.2" r="5.6"/><circle cx="1145.6" cy="332.9" r="5.6"/><circle cx="1124.9" cy="348.0" r="5.6"/><circle cx="1110.2" cy="330.5" r="5.6"/><circle cx="1109.9" cy="327.5" r="5.6"/><circle cx="1157.4" cy="352.6" r="5.6"/><circle cx="1118.4" cy="355.0" r="5.6"/><circle cx="1176.5" cy="336.0" r="5.6"/><circle cx="1194.7" cy="321.8" r="5.6"/><circle cx="1116.8" cy="342.2" r="5.6"/><circle cx="1111.3" cy="322.6" r="5.6"/><circle cx="1124.8" cy="337.9" r="5.6"/><circle cx="1144.5" cy="349.3" r="5.6"/><circle cx="1157.4" cy="348.8" r="5.6"/><circle cx="1159.3" cy="343.2" r="5.6"/><circle cx="1150.3" cy="350.5" r="5.6"/><circle cx="1146.1" cy="355.3" r="5.6"/><circle cx="1151.0" cy="339.4" r="5.6"/><circle cx="1150.2" cy="282.5" r="5.6"/><circle cx="1111.2" cy="333.1" r="5.6"/><circle cx="1160.7" cy="352.6" r="5.6"/><circle cx="1107.1" cy="349.5" r="5.6"/><circle cx="1132.8" cy="352.6" r="5.6"/><circle cx="1118.5" cy="340.4" r="5.6"/><circle cx="1116.4" cy="316.8" r="5.6"/><circle cx="1131.0" cy="357.1" r="5.6"/><circle cx="1168.6" cy="347.4" r="5.6"/><circle cx="1192.4" cy="266.1" r="5.6"/><circle cx="1133.4" cy="353.3" r="5.6"/><circle cx="1128.2" cy="327.3" r="5.6"/><circle cx="1135.8" cy="347.8" r="5.6"/><circle cx="1109.7" cy="269.6" r="5.6"/><circle cx="1113.3" cy="335.7" r="5.6"/><circle cx="1179.7" cy="294.2" r="5.6"/><circle cx="1152.7" cy="355.2" r="5.6"/><circle cx="1116.8" cy="333.0" r="5.6"/><circle cx="1129.2" cy="353.6" r="5.6"/><circle cx="1122.1" cy="331.2" r="5.6"/><circle cx="1134.0" cy="358.4" r="5.6"/><circle cx="1176.1" cy="350.2" r="5.6"/><circle cx="1110.9" cy="349.8" r="5.6"/><circle cx="1132.1" cy="354.5" r="5.6"/><circle cx="1154.7" cy="359.1" r="5.6"/><circle cx="1115.3" cy="346.8" r="5.6"/><circle cx="1134.4" cy="360.1" r="5.6"/><circle cx="1159.2" cy="359.6" r="5.6"/><circle cx="1126.9" cy="348.6" r="5.6"/><circle cx="1119.5" cy="300.3" r="5.6"/><circle cx="1153.5" cy="349.7" r="5.6"/><circle cx="1144.3" cy="359.3" r="5.6"/><circle cx="1171.2" cy="311.9" r="5.6"/><circle cx="1125.0" cy="309.9" r="5.6"/><circle cx="1119.1" cy="334.7" r="5.6"/><circle cx="1150.5" cy="330.7" r="5.6"/><circle cx="1116.8" cy="281.1" r="5.6"/><circle cx="1157.0" cy="337.5" r="5.6"/><circle cx="1155.8" cy="322.9" r="5.6"/><circle cx="1190.6" cy="338.0" r="5.6"/><circle cx="1136.3" cy="358.5" r="5.6"/><circle cx="1163.3" cy="348.3" r="5.6"/><circle cx="1141.7" cy="345.2" r="5.6"/><circle cx="1167.1" cy="352.7" r="5.6"/><circle cx="1135.1" cy="314.0" r="5.6"/><circle cx="1144.6" cy="355.3" r="5.6"/><circle cx="1130.1" cy="352.2" r="5.6"/><circle cx="1144.3" cy="346.9" r="5.6"/><circle cx="1122.6" cy="340.6" r="5.6"/><circle cx="1112.4" cy="273.7" r="5.6"/><circle cx="1132.1" cy="356.1" r="5.6"/><circle cx="1118.2" cy="274.4" r="5.6"/><circle cx="1143.3" cy="360.4" r="5.6"/><circle cx="1120.0" cy="346.6" r="5.6"/><circle cx="1152.3" cy="357.1" r="5.6"/><circle cx="1140.8" cy="356.6" r="5.6"/><circle cx="1156.5" cy="346.9" r="5.6"/><circle cx="1171.6" cy="338.7" r="5.6"/><circle cx="1148.4" cy="335.2" r="5.6"/><circle cx="1156.7" cy="334.5" r="5.6"/><circle cx="1144.3" cy="351.7" r="5.6"/><circle cx="1184.7" cy="345.5" r="5.6"/><circle cx="1113.8" cy="347.2" r="5.6"/><circle cx="1173.1" cy="319.8" r="5.6"/><circle cx="1177.5" cy="322.5" r="5.6"/><circle cx="1208.2" cy="326.9" r="5.6"/><circle cx="1156.0" cy="357.2" r="5.6"/><circle cx="1116.4" cy="337.7" r="5.6"/><circle cx="1156.8" cy="328.4" r="5.6"/><circle cx="1160.3" cy="356.5" r="5.6"/><circle cx="1145.5" cy="345.5" r="5.6"/><circle cx="1168.1" cy="346.9" r="5.6"/><circle cx="1120.2" cy="319.4" r="5.6"/><circle cx="1157.0" cy="353.6" r="5.6"/><circle cx="1127.7" cy="356.2" r="5.6"/><circle cx="1135.3" cy="341.3" r="5.6"/><circle cx="1129.7" cy="356.4" r="5.6"/><circle cx="1133.7" cy="355.1" r="5.6"/><circle cx="1111.9" cy="286.5" r="5.6"/><circle cx="1155.5" cy="353.6" r="5.6"/><circle cx="1131.0" cy="359.7" r="5.6"/><circle cx="1130.5" cy="352.0" r="5.6"/><circle cx="1119.8" cy="324.2" r="5.6"/><circle cx="1121.9" cy="277.1" r="5.6"/><circle cx="1142.2" cy="352.5" r="5.6"/><circle cx="1194.8" cy="311.2" r="5.6"/><circle cx="1161.2" cy="356.3" r="5.6"/><circle cx="1127.6" cy="348.1" r="5.6"/><circle cx="1142.8" cy="354.6" r="5.6"/><circle cx="1167.5" cy="325.6" r="5.6"/><circle cx="1152.5" cy="357.6" r="5.6"/><circle cx="1144.0" cy="339.8" r="5.6"/><circle cx="1177.9" cy="338.1" r="5.6"/><circle cx="1183.6" cy="339.3" r="5.6"/><circle cx="1136.9" cy="329.6" r="5.6"/><circle cx="1138.7" cy="355.3" r="5.6"/><circle cx="1130.6" cy="356.3" r="5.6"/><circle cx="1134.0" cy="355.9" r="5.6"/><circle cx="1121.1" cy="252.7" r="5.6"/><circle cx="1145.5" cy="359.8" r="5.6"/><circle cx="1144.8" cy="330.5" r="5.6"/><circle cx="1170.8" cy="339.1" r="5.6"/><circle cx="1168.1" cy="338.9" r="5.6"/><circle cx="1132.9" cy="356.3" r="5.6"/><circle cx="1121.0" cy="302.0" r="5.6"/><circle cx="1178.9" cy="330.0" r="5.6"/><circle cx="1099.2" cy="334.2" r="5.6"/><circle cx="1177.8" cy="345.8" r="5.6"/><circle cx="1175.5" cy="347.4" r="5.6"/><circle cx="1157.2" cy="360.1" r="5.6"/><circle cx="1155.4" cy="357.6" r="5.6"/><circle cx="1158.2" cy="350.6" r="5.6"/><circle cx="1142.6" cy="350.3" r="5.6"/><circle cx="1140.4" cy="360.2" r="5.6"/><circle cx="1149.6" cy="301.2" r="5.6"/><circle cx="1100.9" cy="342.1" r="5.6"/><circle cx="1128.2" cy="353.6" r="5.6"/><circle cx="1129.2" cy="353.8" r="5.6"/><circle cx="1172.1" cy="343.2" r="5.6"/><circle cx="1147.5" cy="356.3" r="5.6"/><circle cx="1170.6" cy="311.1" r="5.6"/><circle cx="1115.4" cy="309.7" r="5.6"/><circle cx="1206.3" cy="330.9" r="5.6"/><circle cx="1165.0" cy="316.9" r="5.6"/><circle cx="1155.6" cy="360.2" r="5.6"/><circle cx="1134.9" cy="355.7" r="5.6"/><circle cx="1199.8" cy="334.0" r="5.6"/><circle cx="1115.5" cy="255.4" r="5.6"/><circle cx="1106.2" cy="340.3" r="5.6"/><circle cx="1118.1" cy="356.7" r="5.6"/><circle cx="1158.4" cy="355.5" r="5.6"/><circle cx="1180.3" cy="310.7" r="5.6"/><circle cx="1126.9" cy="276.9" r="5.6"/><circle cx="1114.3" cy="351.7" r="5.6"/><circle cx="1183.9" cy="335.8" r="5.6"/><circle cx="1125.4" cy="334.0" r="5.6"/><circle cx="1151.0" cy="293.1" r="5.6"/><circle cx="1119.3" cy="336.3" r="5.6"/><circle cx="1153.9" cy="356.9" r="5.6"/><circle cx="1136.0" cy="348.6" r="5.6"/><circle cx="1165.3" cy="345.4" r="5.6"/><circle cx="1143.2" cy="351.7" r="5.6"/><circle cx="1126.5" cy="321.3" r="5.6"/><circle cx="1175.5" cy="339.6" r="5.6"/><circle cx="1117.0" cy="291.1" r="5.6"/><circle cx="1120.9" cy="349.1" r="5.6"/><circle cx="1191.7" cy="322.2" r="5.6"/><circle cx="1165.9" cy="349.6" r="5.6"/><circle cx="1173.1" cy="330.1" r="5.6"/><circle cx="1169.9" cy="347.5" r="5.6"/><circle cx="1169.6" cy="350.6" r="5.6"/><circle cx="1124.7" cy="356.1" r="5.6"/><circle cx="1164.1" cy="347.9" r="5.6"/><circle cx="1142.3" cy="349.5" r="5.6"/><circle cx="1150.6" cy="357.3" r="5.6"/><circle cx="1166.2" cy="355.8" r="5.6"/><circle cx="1161.2" cy="353.4" r="5.6"/><circle cx="1101.6" cy="257.4" r="5.6"/><circle cx="1162.8" cy="304.5" r="5.6"/><circle cx="1165.3" cy="342.7" r="5.6"/><circle cx="1139.6" cy="343.6" r="5.6"/><circle cx="1120.1" cy="354.4" r="5.6"/><circle cx="1152.5" cy="355.3" r="5.6"/><circle cx="1132.2" cy="327.2" r="5.6"/><circle cx="1139.8" cy="359.8" r="5.6"/><circle cx="1142.5" cy="354.5" r="5.6"/><circle cx="1126.6" cy="358.9" r="5.6"/><circle cx="1188.5" cy="326.7" r="5.6"/><circle cx="1124.4" cy="290.1" r="5.6"/><circle cx="1118.1" cy="328.1" r="5.6"/><circle cx="1175.4" cy="312.1" r="5.6"/><circle cx="1131.7" cy="360.2" r="5.6"/><circle cx="1110.6" cy="332.0" r="5.6"/><circle cx="1161.8" cy="356.3" r="5.6"/><circle cx="1166.7" cy="354.9" r="5.6"/><circle cx="1159.6" cy="353.0" r="5.6"/><circle cx="1123.0" cy="351.8" r="5.6"/><circle cx="1175.4" cy="344.3" r="5.6"/><circle cx="1129.1" cy="349.4" r="5.6"/><circle cx="1101.9" cy="335.5" r="5.6"/><circle cx="1104.8" cy="346.2" r="5.6"/><circle cx="1133.1" cy="347.8" r="5.6"/><circle cx="1118.1" cy="302.9" r="5.6"/><circle cx="1123.0" cy="295.1" r="5.6"/><circle cx="1117.5" cy="355.7" r="5.6"/><circle cx="1153.4" cy="288.5" r="5.6"/><circle cx="1142.4" cy="352.9" r="5.6"/><circle cx="1143.3" cy="357.9" r="5.6"/><circle cx="1130.4" cy="356.9" r="5.6"/><circle cx="1115.7" cy="331.0" r="5.6"/><circle cx="1149.3" cy="360.0" r="5.6"/><circle cx="1142.7" cy="354.4" r="5.6"/><circle cx="1122.8" cy="262.8" r="5.6"/><circle cx="1104.3" cy="341.4" r="5.6"/><circle cx="1135.6" cy="350.9" r="5.6"/><circle cx="1121.1" cy="354.0" r="5.6"/><circle cx="1141.9" cy="349.0" r="5.6"/><circle cx="1121.7" cy="317.4" r="5.6"/><circle cx="1171.2" cy="309.0" r="5.6"/><circle cx="1170.5" cy="351.3" r="5.6"/><circle cx="1162.7" cy="337.4" r="5.6"/><circle cx="1121.7" cy="321.6" r="5.6"/><circle cx="1160.9" cy="278.6" r="5.6"/><circle cx="1162.7" cy="357.5" r="5.6"/><circle cx="1149.7" cy="343.4" r="5.6"/><circle cx="1123.5" cy="354.0" r="5.6"/><circle cx="1166.7" cy="334.3" r="5.6"/><circle cx="1154.2" cy="358.4" r="5.6"/><circle cx="1112.0" cy="345.8" r="5.6"/><circle cx="1180.5" cy="337.9" r="5.6"/><circle cx="1154.6" cy="346.7" r="5.6"/><circle cx="1122.9" cy="334.5" r="5.6"/><circle cx="1157.3" cy="355.0" r="5.6"/><circle cx="1129.3" cy="335.8" r="5.6"/><circle cx="1172.0" cy="338.6" r="5.6"/><circle cx="1110.1" cy="306.4" r="5.6"/><circle cx="1122.2" cy="326.9" r="5.6"/><circle cx="1182.9" cy="334.5" r="5.6"/><circle cx="1133.4" cy="354.3" r="5.6"/><circle cx="1166.5" cy="355.7" r="5.6"/><circle cx="1158.0" cy="339.0" r="5.6"/><circle cx="1132.8" cy="347.0" r="5.6"/><circle cx="1146.9" cy="348.2" r="5.6"/><circle cx="1150.6" cy="302.8" r="5.6"/><circle cx="1123.5" cy="350.6" r="5.6"/><circle cx="1185.0" cy="302.9" r="5.6"/><circle cx="1163.0" cy="342.1" r="5.6"/><circle cx="1155.5" cy="296.2" r="5.6"/><circle cx="1166.6" cy="302.6" r="5.6"/><circle cx="1141.2" cy="349.9" r="5.6"/><circle cx="1118.2" cy="355.7" r="5.6"/><circle cx="1167.4" cy="353.4" r="5.6"/><circle cx="1130.2" cy="351.0" r="5.6"/><circle cx="1142.1" cy="333.6" r="5.6"/><circle cx="1127.9" cy="349.2" r="5.6"/><circle cx="1171.1" cy="347.3" r="5.6"/><circle cx="1162.6" cy="264.3" r="5.6"/><circle cx="1159.3" cy="335.4" r="5.6"/><circle cx="1118.2" cy="336.5" r="5.6"/><circle cx="1114.8" cy="318.4" r="5.6"/><circle cx="1130.6" cy="353.6" r="5.6"/><circle cx="1102.5" cy="301.4" r="5.6"/><circle cx="1175.4" cy="307.3" r="5.6"/><circle cx="1195.7" cy="338.6" r="5.6"/><circle cx="1156.1" cy="356.8" r="5.6"/><circle cx="1151.6" cy="358.3" r="5.6"/><circle cx="1132.8" cy="332.9" r="5.6"/><circle cx="1162.7" cy="346.9" r="5.6"/><circle cx="1144.3" cy="341.3" r="5.6"/><circle cx="1134.4" cy="353.4" r="5.6"/><circle cx="1127.9" cy="358.3" r="5.6"/><circle cx="1195.4" cy="336.1" r="5.6"/><circle cx="1118.7" cy="289.8" r="5.6"/><circle cx="1178.5" cy="310.0" r="5.6"/><circle cx="1180.8" cy="344.4" r="5.6"/><circle cx="1171.6" cy="329.2" r="5.6"/><circle cx="1123.8" cy="354.5" r="5.6"/><circle cx="1182.3" cy="328.1" r="5.6"/><circle cx="1120.2" cy="348.3" r="5.6"/><circle cx="1155.5" cy="356.1" r="5.6"/><circle cx="1164.8" cy="351.6" r="5.6"/><circle cx="1125.1" cy="299.0" r="5.6"/><circle cx="1116.4" cy="309.3" r="5.6"/><circle cx="1134.7" cy="351.0" r="5.6"/><circle cx="1118.1" cy="347.8" r="5.6"/><circle cx="1124.4" cy="317.2" r="5.6"/><circle cx="1133.7" cy="345.5" r="5.6"/><circle cx="1118.6" cy="288.0" r="5.6"/><circle cx="1154.4" cy="359.2" r="5.6"/><circle cx="1165.5" cy="259.6" r="5.6"/><circle cx="1118.4" cy="321.8" r="5.6"/><circle cx="1142.9" cy="357.4" r="5.6"/><circle cx="1162.2" cy="309.2" r="5.6"/><circle cx="1142.4" cy="323.2" r="5.6"/><circle cx="1123.9" cy="355.8" r="5.6"/><circle cx="1189.9" cy="323.9" r="5.6"/><circle cx="1128.9" cy="339.2" r="5.6"/><circle cx="1113.7" cy="349.5" r="5.6"/><circle cx="1178.1" cy="343.6" r="5.6"/><circle cx="1123.0" cy="353.9" r="5.6"/><circle cx="1119.0" cy="351.0" r="5.6"/><circle cx="1113.4" cy="305.8" r="5.6"/><circle cx="1160.0" cy="334.7" r="5.6"/><circle cx="1147.1" cy="347.6" r="5.6"/><circle cx="1142.8" cy="358.4" r="5.6"/><circle cx="1157.8" cy="293.6" r="5.6"/><circle cx="1173.0" cy="348.2" r="5.6"/><circle cx="1124.1" cy="343.3" r="5.6"/><circle cx="1161.4" cy="337.9" r="5.6"/><circle cx="1121.9" cy="345.2" r="5.6"/><circle cx="1133.2" cy="354.2" r="5.6"/><circle cx="1167.6" cy="342.1" r="5.6"/><circle cx="1153.6" cy="349.6" r="5.6"/><circle cx="1118.9" cy="327.1" r="5.6"/><circle cx="1172.0" cy="340.2" r="5.6"/><circle cx="1178.1" cy="340.2" r="5.6"/><circle cx="1124.0" cy="358.0" r="5.6"/><circle cx="1131.9" cy="311.1" r="5.6"/><circle cx="1148.7" cy="349.2" r="5.6"/><circle cx="1110.8" cy="337.9" r="5.6"/><circle cx="1106.5" cy="262.0" r="5.6"/><circle cx="1116.5" cy="347.4" r="5.6"/><circle cx="1156.9" cy="353.4" r="5.6"/><circle cx="1122.1" cy="359.0" r="5.6"/><circle cx="1167.5" cy="352.6" r="5.6"/><circle cx="1136.1" cy="352.4" r="5.6"/><circle cx="1143.1" cy="356.3" r="5.6"/><circle cx="1126.5" cy="351.2" r="5.6"/><circle cx="1149.4" cy="335.5" r="5.6"/><circle cx="1187.0" cy="320.7" r="5.6"/><circle cx="1110.0" cy="338.1" r="5.6"/><circle cx="1152.9" cy="307.7" r="5.6"/><circle cx="1143.8" cy="358.4" r="5.6"/><circle cx="1149.2" cy="351.8" r="5.6"/><circle cx="1168.8" cy="299.2" r="5.6"/><circle cx="1113.7" cy="344.8" r="5.6"/><circle cx="1117.0" cy="351.9" r="5.6"/><circle cx="1115.8" cy="339.6" r="5.6"/><circle cx="1144.5" cy="360.3" r="5.6"/><circle cx="1164.1" cy="354.4" r="5.6"/><circle cx="1170.1" cy="348.5" r="5.6"/><circle cx="1162.8" cy="338.4" r="5.6"/><circle cx="1120.9" cy="299.7" r="5.6"/><circle cx="1166.0" cy="352.5" r="5.6"/><circle cx="1115.2" cy="354.4" r="5.6"/><circle cx="1125.8" cy="340.7" r="5.6"/><circle cx="1150.1" cy="344.3" r="5.6"/><circle cx="1151.8" cy="290.6" r="5.6"/><circle cx="1116.7" cy="300.5" r="5.6"/><circle cx="1128.0" cy="330.5" r="5.6"/><circle cx="1120.2" cy="294.8" r="5.6"/><circle cx="1144.2" cy="355.8" r="5.6"/><circle cx="1139.1" cy="355.3" r="5.6"/><circle cx="1159.9" cy="332.5" r="5.6"/><circle cx="1152.5" cy="304.6" r="5.6"/><circle cx="1134.3" cy="344.7" r="5.6"/><circle cx="1128.8" cy="352.5" r="5.6"/><circle cx="1138.1" cy="356.4" r="5.6"/><circle cx="1198.2" cy="328.5" r="5.6"/><circle cx="1185.4" cy="276.9" r="5.6"/><circle cx="1121.5" cy="359.4" r="5.6"/><circle cx="1113.1" cy="349.3" r="5.6"/><circle cx="1143.7" cy="356.0" r="5.6"/><circle cx="1112.3" cy="241.9" r="5.6"/><circle cx="1113.2" cy="345.0" r="5.6"/><circle cx="1152.6" cy="360.0" r="5.6"/><circle cx="1132.8" cy="350.3" r="5.6"/><circle cx="1154.0" cy="345.3" r="5.6"/><circle cx="1152.2" cy="327.5" r="5.6"/><circle cx="1161.2" cy="357.9" r="5.6"/><circle cx="1130.4" cy="354.8" r="5.6"/><circle cx="1130.4" cy="352.7" r="5.6"/><circle cx="1130.3" cy="344.6" r="5.6"/><circle cx="1141.6" cy="341.2" r="5.6"/><circle cx="1146.1" cy="346.9" r="5.6"/><circle cx="1114.7" cy="347.4" r="5.6"/><circle cx="1124.7" cy="356.5" r="5.6"/><circle cx="1116.4" cy="331.8" r="5.6"/><circle cx="1120.4" cy="348.3" r="5.6"/><circle cx="1151.5" cy="331.8" r="5.6"/><circle cx="1169.9" cy="348.8" r="5.6"/><circle cx="1156.3" cy="341.6" r="5.6"/><circle cx="1166.0" cy="294.1" r="5.6"/><circle cx="1169.7" cy="303.6" r="5.6"/><circle cx="1110.0" cy="294.2" r="5.6"/><circle cx="1107.1" cy="302.1" r="5.6"/><circle cx="1132.7" cy="344.0" r="5.6"/><circle cx="1159.6" cy="323.9" r="5.6"/><circle cx="1163.8" cy="354.5" r="5.6"/><circle cx="1120.2" cy="271.2" r="5.6"/><circle cx="1140.0" cy="349.0" r="5.6"/><circle cx="1160.0" cy="358.1" r="5.6"/><circle cx="1112.6" cy="320.6" r="5.6"/><circle cx="1154.6" cy="337.9" r="5.6"/><circle cx="1164.4" cy="351.7" r="5.6"/><circle cx="1191.2" cy="334.2" r="5.6"/><circle cx="1130.9" cy="330.7" r="5.6"/><circle cx="1139.5" cy="351.7" r="5.6"/><circle cx="1163.7" cy="355.2" r="5.6"/><circle cx="1139.9" cy="360.4" r="5.6"/><circle cx="1130.9" cy="357.1" r="5.6"/><circle cx="1147.0" cy="351.3" r="5.6"/><circle cx="1168.9" cy="352.9" r="5.6"/><circle cx="1101.9" cy="327.0" r="5.6"/><circle cx="1166.9" cy="326.2" r="5.6"/><circle cx="1173.2" cy="334.5" r="5.6"/><circle cx="1155.1" cy="322.2" r="5.6"/><circle cx="1145.0" cy="352.9" r="5.6"/><circle cx="1119.5" cy="320.7" r="5.6"/><circle cx="1184.9" cy="331.2" r="5.6"/><circle cx="1141.0" cy="335.3" r="5.6"/><circle cx="1132.3" cy="356.5" r="5.6"/><circle cx="1178.4" cy="331.4" r="5.6"/><circle cx="1114.6" cy="339.7" r="5.6"/><circle cx="1155.5" cy="348.1" r="5.6"/><circle cx="1146.3" cy="359.7" r="5.6"/><circle cx="1118.5" cy="353.4" r="5.6"/><circle cx="1134.8" cy="325.9" r="5.6"/><circle cx="1160.1" cy="341.1" r="5.6"/><circle cx="1107.3" cy="331.6" r="5.6"/><circle cx="1118.5" cy="356.6" r="5.6"/><circle cx="1135.5" cy="351.8" r="5.6"/><circle cx="1148.5" cy="356.2" r="5.6"/><circle cx="1135.9" cy="339.2" r="5.6"/><circle cx="1122.8" cy="357.9" r="5.6"/><circle cx="1130.3" cy="344.5" r="5.6"/><circle cx="1160.1" cy="356.0" r="5.6"/><circle cx="1200.2" cy="309.0" r="5.6"/><circle cx="1122.2" cy="334.2" r="5.6"/><circle cx="1177.0" cy="342.9" r="5.6"/><circle cx="1186.8" cy="330.3" r="5.6"/><circle cx="1146.4" cy="360.3" r="5.6"/><circle cx="1145.5" cy="325.5" r="5.6"/><circle cx="1147.6" cy="324.1" r="5.6"/><circle cx="1141.8" cy="329.9" r="5.6"/><circle cx="1166.3" cy="349.6" r="5.6"/><circle cx="1134.5" cy="358.7" r="5.6"/><circle cx="1106.9" cy="286.8" r="5.6"/><circle cx="1106.9" cy="344.3" r="5.6"/><circle cx="1136.8" cy="349.9" r="5.6"/><circle cx="1116.5" cy="354.7" r="5.6"/><circle cx="1151.9" cy="351.9" r="5.6"/><circle cx="1119.1" cy="332.3" r="5.6"/><circle cx="1162.0" cy="352.1" r="5.6"/><circle cx="1200.7" cy="322.8" r="5.6"/><circle cx="1138.4" cy="352.6" r="5.6"/><circle cx="1137.9" cy="360.3" r="5.6"/><circle cx="1174.4" cy="319.5" r="5.6"/><circle cx="1119.5" cy="301.8" r="5.6"/><circle cx="1112.6" cy="292.0" r="5.6"/><circle cx="1114.0" cy="328.0" r="5.6"/><circle cx="1115.6" cy="336.7" r="5.6"/><circle cx="1126.4" cy="349.8" r="5.6"/><circle cx="1123.0" cy="356.3" r="5.6"/><circle cx="1118.5" cy="283.5" r="5.6"/><circle cx="1106.1" cy="341.5" r="5.6"/><circle cx="1135.0" cy="355.0" r="5.6"/><circle cx="1188.9" cy="307.7" r="5.6"/><circle cx="1124.2" cy="357.0" r="5.6"/><circle cx="1125.9" cy="341.2" r="5.6"/><circle cx="1109.9" cy="330.3" r="5.6"/><circle cx="1177.5" cy="339.4" r="5.6"/><circle cx="1145.0" cy="348.0" r="5.6"/><circle cx="1162.6" cy="329.3" r="5.6"/><circle cx="1105.9" cy="342.1" r="5.6"/><circle cx="1142.0" cy="344.9" r="5.6"/><circle cx="1151.5" cy="342.2" r="5.6"/><circle cx="1164.0" cy="356.7" r="5.6"/><circle cx="1147.9" cy="356.0" r="5.6"/><circle cx="1176.8" cy="331.1" r="5.6"/><circle cx="1151.6" cy="347.8" r="5.6"/><circle cx="1118.0" cy="328.9" r="5.6"/><circle cx="1120.7" cy="251.1" r="5.6"/><circle cx="1187.5" cy="319.3" r="5.6"/><circle cx="1114.1" cy="235.2" r="5.6"/><circle cx="1117.1" cy="319.0" r="5.6"/><circle cx="1111.2" cy="275.7" r="5.6"/><circle cx="1109.4" cy="347.9" r="5.6"/><circle cx="1136.7" cy="360.1" r="5.6"/><circle cx="1118.9" cy="355.6" r="5.6"/><circle cx="1128.1" cy="319.0" r="5.6"/><circle cx="1148.7" cy="351.3" r="5.6"/><circle cx="1113.2" cy="276.9" r="5.6"/><circle cx="1160.6" cy="344.2" r="5.6"/><circle cx="1108.6" cy="348.3" r="5.6"/><circle cx="1140.3" cy="340.6" r="5.6"/><circle cx="1135.8" cy="318.5" r="5.6"/><circle cx="1120.8" cy="333.3" r="5.6"/><circle cx="1150.1" cy="355.2" r="5.6"/><circle cx="1128.2" cy="312.7" r="5.6"/><circle cx="1133.2" cy="356.6" r="5.6"/><circle cx="1115.9" cy="316.7" r="5.6"/><circle cx="1105.8" cy="341.8" r="5.6"/><circle cx="1163.5" cy="321.7" r="5.6"/><circle cx="1145.7" cy="343.1" r="5.6"/><circle cx="1147.2" cy="341.4" r="5.6"/><circle cx="1117.2" cy="285.8" r="5.6"/><circle cx="1167.4" cy="344.0" r="5.6"/><circle cx="1142.7" cy="357.8" r="5.6"/><circle cx="1136.3" cy="346.7" r="5.6"/><circle cx="1113.3" cy="333.3" r="5.6"/><circle cx="1133.6" cy="355.8" r="5.6"/><circle cx="1153.0" cy="358.4" r="5.6"/><circle cx="1101.5" cy="324.7" r="5.6"/><circle cx="1112.7" cy="333.4" r="5.6"/><circle cx="1124.3" cy="357.9" r="5.6"/><circle cx="1125.7" cy="321.9" r="5.6"/><circle cx="1112.6" cy="352.8" r="5.6"/><circle cx="1148.8" cy="359.2" r="5.6"/><circle cx="1182.5" cy="333.3" r="5.6"/><circle cx="1138.7" cy="350.6" r="5.6"/><circle cx="1128.2" cy="280.2" r="5.6"/><circle cx="1163.7" cy="321.4" r="5.6"/><circle cx="1180.0" cy="302.6" r="5.6"/><circle cx="1167.3" cy="349.3" r="5.6"/><circle cx="1143.4" cy="350.0" r="5.6"/><circle cx="1173.0" cy="294.0" r="5.6"/><circle cx="1180.5" cy="336.0" r="5.6"/><circle cx="1118.0" cy="323.5" r="5.6"/><circle cx="1144.0" cy="353.0" r="5.6"/><circle cx="1117.6" cy="293.7" r="5.6"/><circle cx="1155.1" cy="345.7" r="5.6"/><circle cx="1123.6" cy="330.4" r="5.6"/><circle cx="1111.7" cy="284.9" r="5.6"/><circle cx="1141.7" cy="347.5" r="5.6"/><circle cx="1124.2" cy="354.0" r="5.6"/><circle cx="1166.5" cy="346.6" r="5.6"/><circle cx="1149.8" cy="357.0" r="5.6"/><circle cx="1129.7" cy="359.3" r="5.6"/><circle cx="1129.1" cy="326.4" r="5.6"/><circle cx="1179.6" cy="285.3" r="5.6"/><circle cx="1128.7" cy="334.1" r="5.6"/><circle cx="1122.8" cy="321.4" r="5.6"/><circle cx="1180.2" cy="304.6" r="5.6"/><circle cx="1154.0" cy="359.9" r="5.6"/><circle cx="1139.6" cy="340.1" r="5.6"/><circle cx="1141.8" cy="340.4" r="5.6"/><circle cx="1127.4" cy="327.6" r="5.6"/><circle cx="1156.5" cy="359.9" r="5.6"/><circle cx="1155.8" cy="360.5" r="5.6"/><circle cx="1162.6" cy="347.7" r="5.6"/><circle cx="1163.7" cy="356.1" r="5.6"/><circle cx="1140.1" cy="354.9" r="5.6"/><circle cx="1110.3" cy="347.9" r="5.6"/><circle cx="1145.2" cy="355.1" r="5.6"/><circle cx="1146.3" cy="356.2" r="5.6"/><circle cx="1168.3" cy="321.5" r="5.6"/><circle cx="1110.9" cy="237.8" r="5.6"/><circle cx="1122.4" cy="268.0" r="5.6"/><circle cx="1119.0" cy="267.2" r="5.6"/><circle cx="1104.5" cy="322.8" r="5.6"/><circle cx="1151.3" cy="341.2" r="5.6"/><circle cx="1107.9" cy="263.1" r="5.6"/><circle cx="1147.7" cy="349.2" r="5.6"/><circle cx="1112.5" cy="115.0" r="5.6"/><circle cx="1134.6" cy="116.2" r="5.6"/><circle cx="1113.7" cy="135.9" r="5.6"/><circle cx="1127.2" cy="134.6" r="5.6"/><circle cx="1164.1" cy="133.4" r="5.6"/><circle cx="1112.5" cy="165.3" r="5.6"/><circle cx="1113.7" cy="165.3" r="5.6"/><circle cx="1105.2" cy="175.1" r="5.6"/><circle cx="1116.2" cy="178.8" r="5.6"/><circle cx="1122.3" cy="178.8" r="5.6"/><circle cx="1107.6" cy="180.1" r="5.6"/><circle cx="1103.9" cy="194.8" r="5.6"/><circle cx="1128.5" cy="193.6" r="5.6"/><circle cx="1132.2" cy="200.9" r="5.6"/><circle cx="1188.6" cy="162.9" r="5.6"/><circle cx="1197.2" cy="171.5" r="5.6"/><circle cx="1151.8" cy="170.2" r="5.6"/><circle cx="1153.0" cy="178.8" r="5.6"/><circle cx="1173.9" cy="181.3" r="5.6"/><circle cx="1165.3" cy="192.3" r="5.6"/><circle cx="1204.6" cy="192.3" r="5.6"/><circle cx="1169.0" cy="212.0" r="5.6"/><circle cx="1196.0" cy="218.1" r="5.6"/><circle cx="1175.1" cy="225.5" r="5.6"/><circle cx="1155.5" cy="230.4" r="5.6"/><circle cx="1209.5" cy="246.3" r="5.6"/><circle cx="1166.5" cy="239.0" r="5.6"/><circle cx="1176.3" cy="241.4" r="5.6"/><circle cx="1070.8" cy="351.9" r="5.6"/><circle cx="1080.6" cy="331.0" r="5.6"/><circle cx="1088.0" cy="310.2" r="5.6"/><circle cx="1091.7" cy="308.9" r="5.6"/><circle cx="1089.2" cy="318.8" r="5.6"/><circle cx="1090.4" cy="328.6" r="5.6"/><circle cx="1095.3" cy="316.3" r="5.6"/><circle cx="1091.7" cy="338.4" r="5.6"/><circle cx="1218.1" cy="338.4" r="5.6"/><circle cx="1209.5" cy="322.4" r="5.6"/><circle cx="1211.9" cy="328.6" r="5.6"/><circle cx="1121.1" cy="207.1" r="5.6"/><circle cx="1115.0" cy="209.5" r="5.6"/><circle cx="1112.5" cy="215.7" r="5.6"/><circle cx="1124.8" cy="214.4" r="5.6"/><circle cx="1111.3" cy="234.1" r="5.6"/><circle cx="1115.0" cy="235.3" r="5.6"/><circle cx="1118.7" cy="242.7" r="5.6"/><circle cx="1130.9" cy="239.0" r="5.6"/><circle cx="1129.7" cy="248.8" r="5.6"/><circle cx="1103.9" cy="264.8" r="5.6"/><circle cx="1146.9" cy="256.2" r="5.6"/><circle cx="1144.4" cy="263.5" r="5.6"/><circle cx="1165.3" cy="257.4" r="5.6"/><circle cx="1170.2" cy="261.1" r="5.6"/><circle cx="1187.4" cy="258.6" r="5.6"/><circle cx="1194.8" cy="259.8" r="5.6"/><circle cx="1204.6" cy="270.9" r="5.6"/><circle cx="1182.5" cy="270.9" r="5.6"/><circle cx="1189.8" cy="272.1" r="5.6"/>
</g>
<line x1="1128.47" y1="114.50" x2="1128.47" y2="363.50" stroke="#231f20" stroke-width="1.6"/>
<line x1="1153.03" y1="114.50" x2="1153.03" y2="363.50" stroke="#231f20" stroke-width="1.6"/>
<line x1="1018.00" y1="344.54" x2="1263.50" y2="344.54" stroke="#231f20" stroke-width="1.6"/>
<text x="995.00" y="368.40" font-size="30" text-anchor="end">0</text>
<text x="995.00" y="307.02" font-size="30" text-anchor="end">5</text>
<text x="995.00" y="245.65" font-size="30" text-anchor="end">10</text>
<text x="995.00" y="184.28" font-size="30" text-anchor="end">15</text>
<text x="995.00" y="122.90" font-size="30" text-anchor="end">20</text>
<text x="1018.00" y="408.00" font-size="30" text-anchor="middle">0.0</text>
<text x="1079.38" y="408.00" font-size="30" text-anchor="middle">0.5</text>
<text x="1140.75" y="408.00" font-size="30" text-anchor="middle">1.0</text>
<text x="1202.12" y="408.00" font-size="30" text-anchor="middle">1.5</text>
<text x="1263.50" y="408.00" font-size="30" text-anchor="middle">2.0</text>
<text x="1142.10" y="74.30" font-size="38" text-anchor="middle" textLength="200.00" lengthAdjust="spacingAndGlyphs">Replicate#3</text>
<text x="1141.40" y="465.70" font-size="38" text-anchor="middle" textLength="200.20" lengthAdjust="spacingAndGlyphs">SILAC Ratio</text>
<text transform="translate(940.30,360.5) rotate(-90)" font-size="37" textLength="246.5" lengthAdjust="spacingAndGlyphs">-Log<tspan font-size="29" dy="14.5">10</tspan><tspan dy="-14.5">(p-value)</tspan></text>
<defs><clipPath id="k1"><circle cx="1542.4" cy="196.0" r="107.2"/></clipPath><clipPath id="k2"><circle cx="1662.25" cy="196.0" r="107.2"/></clipPath></defs>
<circle cx="1542.4" cy="196.0" r="107.2" fill="#c6e2e0"/>
<circle cx="1662.25" cy="196.0" r="107.2" fill="#c6e2e0"/>
<circle cx="1599.25" cy="307.5" r="107.2" fill="#c6e2e0"/>
<circle cx="1662.25" cy="196.0" r="107.2" fill="#f2dab8" clip-path="url(#k1)"/>
<circle cx="1599.25" cy="307.5" r="107.2" fill="#f2dab8" clip-path="url(#k1)"/>
<circle cx="1599.25" cy="307.5" r="107.2" fill="#f2dab8" clip-path="url(#k2)"/>
<g clip-path="url(#k1)"><circle cx="1599.25" cy="307.5" r="107.2" fill="#c8bcc1" clip-path="url(#k2)"/></g>
<circle cx="1542.4" cy="196.0" r="107.2" fill="none" stroke="#231f20" stroke-width="1.8"/>
<circle cx="1662.25" cy="196.0" r="107.2" fill="none" stroke="#231f20" stroke-width="1.8"/>
<circle cx="1599.25" cy="307.5" r="107.2" fill="none" stroke="#231f20" stroke-width="1.8"/>
<text x="1498.75" y="188.00" font-size="29.5" text-anchor="middle" fill="#0c7b43">4</text>
<text x="1705.60" y="188.00" font-size="29.5" text-anchor="middle" fill="#0c7b43">255</text>
<text x="1604.40" y="355.00" font-size="29.5" text-anchor="middle" fill="#0c7b43">18</text>
<text x="1604.40" y="173.00" font-size="29.5" text-anchor="middle" fill="#f7941d">160</text>
<text x="1543.50" y="275.00" font-size="29.5" text-anchor="middle" fill="#f7941d">15</text>
<text x="1663.00" y="275.00" font-size="29.5" text-anchor="middle" fill="#f7941d">135</text>
<text x="1603.75" y="239.50" font-size="29.5" text-anchor="middle" fill="#6a2c91">542</text>
<text x="1327.10" y="73.75" font-size="38" textLength="201.9" lengthAdjust="spacingAndGlyphs">R<tspan font-size="31" dy="6.5">1</tspan><tspan dy="-6.5">: 721/803</tspan></text>
<text x="1655.90" y="73.75" font-size="38" textLength="243.4" lengthAdjust="spacingAndGlyphs">R<tspan font-size="31" dy="6.5">2</tspan><tspan dy="-6.5">: 1092/1205</tspan></text>
<text x="1498.30" y="459.50" font-size="38" textLength="199" lengthAdjust="spacingAndGlyphs">R<tspan font-size="31" dy="6.5">3</tspan><tspan dy="-6.5">: 710/791</tspan></text>
<path d="M130.10 816.00v-1.74h2.55v1.74zM132.60 816.00v-3.47h2.55v3.47zM135.10 816.00v-6.43h2.55v6.43zM137.60 816.00v-9.56h2.55v9.56zM140.09 816.00v-15.64h2.55v15.64zM142.59 816.00v-20.85h2.55v20.85zM145.09 816.00v-31.27h2.55v31.27zM147.58 816.00v-43.43h2.55v43.43zM150.08 816.00v-60.28h2.55v60.28zM152.58 816.00v-78.18h2.55v78.18zM155.07 816.00v-99.03h2.55v99.03zM157.57 816.00v-116.40h2.55v116.40zM160.07 816.00v-142.46h2.55v142.46zM162.56 816.00v-164.18h2.55v164.18zM165.06 816.00v-181.55h2.55v181.55zM167.56 816.00v-209.35h2.55v209.35zM170.06 816.00v-218.90h2.55v218.90zM172.55 816.00v-227.59h2.55v227.59zM175.05 816.00v-231.93h2.55v231.93zM177.55 816.00v-220.64h2.55v220.64zM180.04 816.00v-222.90h2.55v222.90zM182.54 816.00v-209.35h2.55v209.35zM185.04 816.00v-194.58h2.55v194.58zM187.54 816.00v-173.73h2.55v173.73zM190.03 816.00v-156.36h2.55v156.36zM192.53 816.00v-133.77h2.55v133.77zM195.03 816.00v-113.79h2.55v113.79zM197.52 816.00v-93.82h2.55v93.82zM200.02 816.00v-74.70h2.55v74.70zM202.52 816.00v-61.67h2.55v61.67zM205.01 816.00v-46.91h2.55v46.91zM207.51 816.00v-34.75h2.55v34.75zM210.01 816.00v-25.54h2.55v25.54zM212.50 816.00v-19.11h2.55v19.11zM215.00 816.00v-13.03h2.55v13.03zM217.50 816.00v-8.69h2.55v8.69zM220.00 816.00v-5.21h2.55v5.21zM222.49 816.00v-3.82h2.55v3.82zM224.99 816.00v-2.61h2.55v2.61zM227.49 816.00v-1.56h2.55v1.56zM229.98 816.00v-0.87h2.55v0.87z" fill="#c9cacc"/>
<line x1="110.00" y1="816.00" x2="463.83" y2="816.00" stroke="#e4e5e6" stroke-width="0.8"/>
<line x1="146.21" y1="579.00" x2="146.21" y2="828.20" stroke="#f89b0c" stroke-width="2.0" stroke-dasharray="9 6"/>
<line x1="209.39" y1="579.00" x2="209.39" y2="828.20" stroke="#f89b0c" stroke-width="2.0" stroke-dasharray="9 6"/>
<line x1="463.83" y1="573.00" x2="463.83" y2="828.20" stroke="#1aa0dc" stroke-width="2.7"/>
<line x1="92.50" y1="572.50" x2="92.50" y2="829.35" stroke="#231f20" stroke-width="2.3"/>
<line x1="91.35" y1="828.20" x2="483.50" y2="828.20" stroke="#231f20" stroke-width="2.3"/>
<line x1="79.50" y1="593.40" x2="92.50" y2="593.40" stroke="#231f20" stroke-width="2.3"/>
<text x="71.20" y="601.30" font-size="30" text-anchor="end">6</text>
<line x1="79.50" y1="667.80" x2="92.50" y2="667.80" stroke="#231f20" stroke-width="2.3"/>
<text x="71.20" y="675.70" font-size="30" text-anchor="end">4</text>
<line x1="79.50" y1="741.90" x2="92.50" y2="741.90" stroke="#231f20" stroke-width="2.3"/>
<text x="71.20" y="749.80" font-size="30" text-anchor="end">2</text>
<line x1="79.50" y1="816.00" x2="92.50" y2="816.00" stroke="#231f20" stroke-width="2.3"/>
<text x="71.20" y="823.90" font-size="30" text-anchor="end">0</text>
<line x1="114.25" y1="828.20" x2="114.25" y2="841.20" stroke="#231f20" stroke-width="2.3"/>
<text x="114.25" y="873.00" font-size="30" text-anchor="middle">20</text>
<line x1="214.13" y1="828.20" x2="214.13" y2="841.20" stroke="#231f20" stroke-width="2.3"/>
<text x="214.13" y="873.00" font-size="30" text-anchor="middle">60</text>
<line x1="314.01" y1="828.20" x2="314.01" y2="841.20" stroke="#231f20" stroke-width="2.3"/>
<text x="314.01" y="873.00" font-size="30" text-anchor="middle">100</text>
<line x1="413.89" y1="828.20" x2="413.89" y2="841.20" stroke="#231f20" stroke-width="2.3"/>
<text x="413.89" y="873.00" font-size="30" text-anchor="middle">140</text>
<text x="277.82" y="532.50" font-size="38" text-anchor="middle" textLength="317.75" lengthAdjust="spacingAndGlyphs">Replicates #1 &amp; #2</text>
<text x="283.45" y="915.80" font-size="38" text-anchor="middle" textLength="291.00" lengthAdjust="spacingAndGlyphs"># shared proteins</text>
<path d="M626.30 816.00v-231.06h3.17v231.06zM623.18 816.00v-228.11h3.17v228.11zM620.07 816.00v-225.16h3.17v225.16zM616.95 816.00v-218.90h3.17v218.90zM613.84 816.00v-196.32h3.17v196.32zM610.72 816.00v-179.46h3.17v179.46zM607.61 816.00v-162.09h3.17v162.09zM604.50 816.00v-136.55h3.17v136.55zM601.38 816.00v-111.71h3.17v111.71zM598.26 816.00v-91.21h3.17v91.21zM595.15 816.00v-71.75h3.17v71.75zM592.03 816.00v-55.25h3.17v55.25zM588.92 816.00v-39.61h3.17v39.61zM585.80 816.00v-28.32h3.17v28.32zM582.69 816.00v-20.50h3.17v20.50zM579.57 816.00v-12.16h3.17v12.16zM576.46 816.00v-7.99h3.17v7.99zM573.34 816.00v-5.21h3.17v5.21zM570.23 816.00v-3.47h3.17v3.47zM567.12 816.00v-2.08h3.17v2.08zM564.00 816.00v-1.04h3.17v1.04zM629.41 816.00v-221.68h3.17v221.68zM632.53 816.00v-214.21h3.17v214.21zM635.64 816.00v-200.66h3.17v200.66zM638.76 816.00v-179.46h3.17v179.46zM641.88 816.00v-164.70h3.17v164.70zM644.99 816.00v-136.55h3.17v136.55zM648.10 816.00v-117.44h3.17v117.44zM651.22 816.00v-99.03h3.17v99.03zM654.33 816.00v-78.70h3.17v78.70zM657.45 816.00v-63.59h3.17v63.59zM660.56 816.00v-44.82h3.17v44.82zM663.68 816.00v-34.40h3.17v34.40zM666.79 816.00v-28.32h3.17v28.32zM669.91 816.00v-20.50h3.17v20.50zM673.02 816.00v-14.77h3.17v14.77zM676.14 816.00v-10.42h3.17v10.42zM679.25 816.00v-6.60h3.17v6.60zM682.37 816.00v-4.34h3.17v4.34zM685.48 816.00v-2.78h3.17v2.78zM688.60 816.00v-1.74h3.17v1.74zM691.71 816.00v-1.04h3.17v1.04z" fill="#c9cacc"/>
<line x1="555.00" y1="816.00" x2="908.23" y2="816.00" stroke="#e4e5e6" stroke-width="0.8"/>
<line x1="587.54" y1="579.00" x2="587.54" y2="828.20" stroke="#f89b0c" stroke-width="2.0" stroke-dasharray="9 6"/>
<line x1="666.81" y1="579.00" x2="666.81" y2="828.20" stroke="#f89b0c" stroke-width="2.0" stroke-dasharray="9 6"/>
<line x1="908.23" y1="573.00" x2="908.23" y2="828.20" stroke="#1aa0dc" stroke-width="2.7"/>
<line x1="537.50" y1="572.50" x2="537.50" y2="829.35" stroke="#231f20" stroke-width="2.3"/>
<line x1="536.35" y1="828.20" x2="926.50" y2="828.20" stroke="#231f20" stroke-width="2.3"/>
<line x1="524.50" y1="593.60" x2="537.50" y2="593.60" stroke="#231f20" stroke-width="2.3"/>
<text x="516.00" y="601.50" font-size="30" text-anchor="end">6</text>
<line x1="524.50" y1="668.20" x2="537.50" y2="668.20" stroke="#231f20" stroke-width="2.3"/>
<text x="516.00" y="676.10" font-size="30" text-anchor="end">4</text>
<line x1="524.50" y1="742.30" x2="537.50" y2="742.30" stroke="#231f20" stroke-width="2.3"/>
<text x="516.00" y="750.20" font-size="30" text-anchor="end">2</text>
<line x1="524.50" y1="816.20" x2="537.50" y2="816.20" stroke="#231f20" stroke-width="2.3"/>
<text x="516.00" y="824.10" font-size="30" text-anchor="end">0</text>
<line x1="550.00" y1="828.20" x2="550.00" y2="841.20" stroke="#231f20" stroke-width="2.3"/>
<text x="550.00" y="873.00" font-size="30" text-anchor="middle">20</text>
<line x1="612.30" y1="828.20" x2="612.30" y2="841.20" stroke="#231f20" stroke-width="2.3"/>
<text x="612.30" y="873.00" font-size="30" text-anchor="middle">40</text>
<line x1="674.60" y1="828.20" x2="674.60" y2="841.20" stroke="#231f20" stroke-width="2.3"/>
<text x="674.60" y="873.00" font-size="30" text-anchor="middle">60</text>
<line x1="736.90" y1="828.20" x2="736.90" y2="841.20" stroke="#231f20" stroke-width="2.3"/>
<text x="736.90" y="873.00" font-size="30" text-anchor="middle">80</text>
<line x1="799.20" y1="828.20" x2="799.20" y2="841.20" stroke="#231f20" stroke-width="2.3"/>
<text x="799.20" y="873.00" font-size="30" text-anchor="middle">100</text>
<line x1="861.50" y1="828.20" x2="861.50" y2="841.20" stroke="#231f20" stroke-width="2.3"/>
<text x="861.50" y="873.00" font-size="30" text-anchor="middle">120</text>
<line x1="923.80" y1="828.20" x2="923.80" y2="841.20" stroke="#231f20" stroke-width="2.3"/>
<text x="923.80" y="873.00" font-size="30" text-anchor="middle">140</text>
<text x="733.10" y="532.50" font-size="38" text-anchor="middle" textLength="317.80" lengthAdjust="spacingAndGlyphs">Replicates #2 &amp; #3</text>
<text x="738.98" y="915.80" font-size="38" text-anchor="middle" textLength="291.00" lengthAdjust="spacingAndGlyphs"># shared proteins</text>
<path d="M1154.85 816.00v-231.25h7.35v231.25zM1147.60 816.00v-221.25h7.35v221.25zM1140.35 816.00v-203.25h7.35v203.25zM1133.10 816.00v-182.00h7.35v182.00zM1125.85 816.00v-155.00h7.35v155.00zM1118.60 816.00v-125.00h7.35v125.00zM1111.35 816.00v-100.00h7.35v100.00zM1104.10 816.00v-72.00h7.35v72.00zM1096.85 816.00v-52.00h7.35v52.00zM1089.60 816.00v-33.00h7.35v33.00zM1082.35 816.00v-20.50h7.35v20.50zM1075.10 816.00v-11.75h7.35v11.75zM1067.85 816.00v-6.25h7.35v6.25zM1060.60 816.00v-3.00h7.35v3.00zM1053.35 816.00v-1.50h7.35v1.50zM1046.10 816.00v-0.75h7.35v0.75zM1162.10 816.00v-230.50h7.35v230.50zM1169.35 816.00v-225.50h7.35v225.50zM1176.60 816.00v-205.00h7.35v205.00zM1183.85 816.00v-183.25h7.35v183.25zM1191.10 816.00v-156.25h7.35v156.25zM1198.35 816.00v-136.25h7.35v136.25zM1205.60 816.00v-109.25h7.35v109.25zM1212.85 816.00v-88.00h7.35v88.00zM1220.10 816.00v-64.25h7.35v64.25zM1227.35 816.00v-48.25h7.35v48.25zM1234.60 816.00v-35.00h7.35v35.00zM1241.85 816.00v-24.25h7.35v24.25zM1249.10 816.00v-15.75h7.35v15.75zM1256.35 816.00v-10.00h7.35v10.00zM1263.60 816.00v-6.25h7.35v6.25zM1270.85 816.00v-3.75h7.35v3.75zM1278.10 816.00v-2.25h7.35v2.25zM1285.35 816.00v-1.25h7.35v1.25zM1292.60 816.00v-0.75h7.35v0.75z" fill="#c9cacc"/>
<line x1="1003.00" y1="816.00" x2="1358.75" y2="816.00" stroke="#e4e5e6" stroke-width="0.8"/>
<line x1="1090.79" y1="579.00" x2="1090.79" y2="828.20" stroke="#f89b0c" stroke-width="2.0" stroke-dasharray="9 6"/>
<line x1="1239.48" y1="579.00" x2="1239.48" y2="828.20" stroke="#f89b0c" stroke-width="2.0" stroke-dasharray="9 6"/>
<line x1="1064.47" y1="573.00" x2="1064.47" y2="828.20" stroke="#1aa0dc" stroke-width="2.7"/>
<line x1="985.75" y1="572.50" x2="985.75" y2="829.35" stroke="#231f20" stroke-width="2.3"/>
<line x1="984.60" y1="828.20" x2="1376.00" y2="828.20" stroke="#231f20" stroke-width="2.3"/>
<line x1="972.75" y1="577.50" x2="985.75" y2="577.50" stroke="#231f20" stroke-width="2.3"/>
<text x="965.95" y="585.40" font-size="30" text-anchor="end">8</text>
<line x1="972.75" y1="637.30" x2="985.75" y2="637.30" stroke="#231f20" stroke-width="2.3"/>
<text x="965.95" y="645.20" font-size="30" text-anchor="end">6</text>
<line x1="972.75" y1="697.00" x2="985.75" y2="697.00" stroke="#231f20" stroke-width="2.3"/>
<text x="965.95" y="704.90" font-size="30" text-anchor="end">4</text>
<line x1="972.75" y1="756.60" x2="985.75" y2="756.60" stroke="#231f20" stroke-width="2.3"/>
<text x="965.95" y="764.50" font-size="30" text-anchor="end">2</text>
<line x1="972.75" y1="816.20" x2="985.75" y2="816.20" stroke="#231f20" stroke-width="2.3"/>
<text x="965.95" y="824.10" font-size="30" text-anchor="end">0</text>
<line x1="991.75" y1="828.20" x2="991.75" y2="841.20" stroke="#231f20" stroke-width="2.3"/>
<text x="991.75" y="873.00" font-size="30" text-anchor="middle">5</text>
<line x1="1064.25" y1="828.20" x2="1064.25" y2="841.20" stroke="#231f20" stroke-width="2.3"/>
<text x="1064.25" y="873.00" font-size="30" text-anchor="middle">15</text>
<line x1="1136.75" y1="828.20" x2="1136.75" y2="841.20" stroke="#231f20" stroke-width="2.3"/>
<text x="1136.75" y="873.00" font-size="30" text-anchor="middle">25</text>
<line x1="1209.25" y1="828.20" x2="1209.25" y2="841.20" stroke="#231f20" stroke-width="2.3"/>
<text x="1209.25" y="873.00" font-size="30" text-anchor="middle">35</text>
<line x1="1281.75" y1="828.20" x2="1281.75" y2="841.20" stroke="#231f20" stroke-width="2.3"/>
<text x="1281.75" y="873.00" font-size="30" text-anchor="middle">45</text>
<line x1="1354.25" y1="828.20" x2="1354.25" y2="841.20" stroke="#231f20" stroke-width="2.3"/>
<text x="1354.25" y="873.00" font-size="30" text-anchor="middle">55</text>
<text x="1175.85" y="532.50" font-size="38" text-anchor="middle" textLength="317.70" lengthAdjust="spacingAndGlyphs">Replicates #1 &amp; #3</text>
<text x="1181.60" y="915.80" font-size="38" text-anchor="middle" textLength="291.00" lengthAdjust="spacingAndGlyphs"># shared proteins</text>
<path d="M1455.32 816.00v-231.00h2.25v231.00z" fill="#c9cacc"/>
<line x1="1456.00" y1="816.00" x2="1804.23" y2="816.00" stroke="#e4e5e6" stroke-width="0.8"/>
<line x1="1454.49" y1="579.00" x2="1454.49" y2="828.20" stroke="#f89b0c" stroke-width="2.0" stroke-dasharray="9 6"/>
<line x1="1458.22" y1="579.00" x2="1458.22" y2="828.20" stroke="#f89b0c" stroke-width="2.0" stroke-dasharray="9 6"/>
<line x1="1804.23" y1="573.00" x2="1804.23" y2="828.20" stroke="#1aa0dc" stroke-width="2.7"/>
<line x1="1437.50" y1="572.50" x2="1437.50" y2="829.35" stroke="#231f20" stroke-width="2.3"/>
<line x1="1436.35" y1="828.20" x2="1822.50" y2="828.20" stroke="#231f20" stroke-width="2.3"/>
<line x1="1424.50" y1="646.25" x2="1437.50" y2="646.25" stroke="#231f20" stroke-width="2.3"/>
<text x="1416.00" y="654.15" font-size="30" text-anchor="end">20</text>
<line x1="1424.50" y1="731.25" x2="1437.50" y2="731.25" stroke="#231f20" stroke-width="2.3"/>
<text x="1416.00" y="739.15" font-size="30" text-anchor="end">10</text>
<line x1="1424.50" y1="816.20" x2="1437.50" y2="816.20" stroke="#231f20" stroke-width="2.3"/>
<text x="1416.00" y="824.10" font-size="30" text-anchor="end">0</text>
<line x1="1455.00" y1="828.20" x2="1455.00" y2="841.20" stroke="#231f20" stroke-width="2.3"/>
<text x="1455.00" y="873.00" font-size="30" text-anchor="middle">0</text>
<line x1="1519.35" y1="828.20" x2="1519.35" y2="841.20" stroke="#231f20" stroke-width="2.3"/>
<text x="1519.35" y="873.00" font-size="30" text-anchor="middle">100</text>
<line x1="1583.70" y1="828.20" x2="1583.70" y2="841.20" stroke="#231f20" stroke-width="2.3"/>
<text x="1583.70" y="873.00" font-size="30" text-anchor="middle">200</text>
<line x1="1648.05" y1="828.20" x2="1648.05" y2="841.20" stroke="#231f20" stroke-width="2.3"/>
<text x="1648.05" y="873.00" font-size="30" text-anchor="middle">300</text>
<line x1="1712.40" y1="828.20" x2="1712.40" y2="841.20" stroke="#231f20" stroke-width="2.3"/>
<text x="1712.40" y="873.00" font-size="30" text-anchor="middle">400</text>
<line x1="1776.75" y1="828.20" x2="1776.75" y2="841.20" stroke="#231f20" stroke-width="2.3"/>
<text x="1776.75" y="873.00" font-size="30" text-anchor="middle">500</text>
<text x="1628.70" y="532.50" font-size="38" text-anchor="middle" textLength="382.40" lengthAdjust="spacingAndGlyphs">Replicates #1, #2 &amp; #3</text>
<text x="1633.72" y="915.80" font-size="38" text-anchor="middle" textLength="291.00" lengthAdjust="spacingAndGlyphs"># shared proteins</text>
<text transform="translate(36.2,810) rotate(-90)" font-size="37" textLength="233" lengthAdjust="spacingAndGlyphs">Counts (x10<tspan font-size="33" dy="-6.5">3</tspan><tspan dy="6.5">)</tspan></text>
<rect x="472.00" y="1036.25" width="576.75" height="50.15" fill="#636466"/>
<rect x="213.25" y="1086.40" width="835.50" height="79.10" fill="#636466"/>
<rect x="213.25" y="1165.50" width="835.50" height="55.25" fill="#c8bcc0"/>
<rect x="213.25" y="1220.75" width="835.50" height="55.50" fill="#f2dab8"/>
<rect x="213.25" y="1276.25" width="835.50" height="55.25" fill="#c6e2e0"/>
<line x1="470.75" y1="1036.25" x2="1050.00" y2="1036.25" stroke="#231f20" stroke-width="2.5"/>
<line x1="212.00" y1="1086.40" x2="1050.00" y2="1086.40" stroke="#231f20" stroke-width="2.5"/>
<line x1="212.00" y1="1165.50" x2="1050.00" y2="1165.50" stroke="#231f20" stroke-width="2.5"/>
<line x1="212.00" y1="1220.75" x2="1050.00" y2="1220.75" stroke="#231f20" stroke-width="2.5"/>
<line x1="212.00" y1="1276.25" x2="1050.00" y2="1276.25" stroke="#231f20" stroke-width="2.5"/>
<line x1="212.00" y1="1331.50" x2="1050.00" y2="1331.50" stroke="#231f20" stroke-width="2.5"/>
<line x1="754.50" y1="1386.75" x2="1050.00" y2="1386.75" stroke="#231f20" stroke-width="2.5"/>
<line x1="213.25" y1="1086.40" x2="213.25" y2="1331.50" stroke="#231f20" stroke-width="2.5"/>
<line x1="472.00" y1="1036.25" x2="472.00" y2="1331.50" stroke="#231f20" stroke-width="2.5"/>
<line x1="755.75" y1="1086.40" x2="755.75" y2="1386.75" stroke="#231f20" stroke-width="2.5"/>
<line x1="895.00" y1="1086.40" x2="895.00" y2="1386.75" stroke="#231f20" stroke-width="2.5"/>
<line x1="1048.75" y1="1036.25" x2="1048.75" y2="1386.75" stroke="#231f20" stroke-width="2.5"/>
<text x="760.75" y="1072.00" font-size="30" text-anchor="middle" font-weight="bold" fill="#ffffff" textLength="440.00" lengthAdjust="spacingAndGlyphs">Criteria for candidate selection</text>
<text x="342.50" y="1121.25" font-size="30" text-anchor="middle" fill="#ffffff" textLength="247.50" lengthAdjust="spacingAndGlyphs">Proteins quantified</text>
<text x="342.75" y="1151.25" font-size="30" text-anchor="middle" fill="#ffffff" textLength="200.50" lengthAdjust="spacingAndGlyphs">in <tspan font-family="'Liberation Serif',serif" font-style="italic" font-size="29">x</tspan> replicate(s)</text>
<text x="609.60" y="1121.25" font-size="30" text-anchor="middle" fill="#ffffff" textLength="263.25" lengthAdjust="spacingAndGlyphs">Consistent variation</text>
<text x="614.00" y="1151.25" font-size="30" text-anchor="middle" fill="#ffffff" textLength="270.50" lengthAdjust="spacingAndGlyphs">between <tspan font-family="'Liberation Serif',serif" font-style="italic" font-size="29">x</tspan> replicates</text>
<text x="826.25" y="1121.25" font-size="30" text-anchor="middle" fill="#ffffff">Minimal</text>
<text x="826.25" y="1151.25" font-size="30" text-anchor="middle" fill="#ffffff">variation</text>
<text x="973.10" y="1121.25" font-size="30" text-anchor="middle" fill="#ffffff" textLength="136.25" lengthAdjust="spacingAndGlyphs"># selected</text>
<text x="973.10" y="1151.25" font-size="30" text-anchor="middle" fill="#ffffff" textLength="143.75" lengthAdjust="spacingAndGlyphs">candidates</text>
<text x="342.50" y="1200.50" font-size="30" text-anchor="middle">3</text>
<text x="613.25" y="1200.50" font-size="30" text-anchor="middle">3</text>
<text x="825.00" y="1200.50" font-size="30" text-anchor="middle" textLength="82.50" lengthAdjust="spacingAndGlyphs">± 10%</text>
<text x="972.50" y="1200.50" font-size="30" text-anchor="middle">106</text>
<text x="342.20" y="1255.75" font-size="30" text-anchor="middle">2 or 3</text>
<text x="613.25" y="1255.75" font-size="30" text-anchor="middle">2</text>
<text x="825.00" y="1255.75" font-size="30" text-anchor="middle" textLength="82.50" lengthAdjust="spacingAndGlyphs">± 20%</text>
<text x="972.50" y="1255.75" font-size="30" text-anchor="middle">72</text>
<text x="343.00" y="1313.25" font-size="30" text-anchor="middle">1 or 2</text>
<text x="614.00" y="1312.00" font-size="27" text-anchor="middle" textLength="165.50" lengthAdjust="spacingAndGlyphs">not consistent</text>
<text x="825.00" y="1303.75" font-size="30" text-anchor="middle" textLength="82.50" lengthAdjust="spacingAndGlyphs">± 20%</text>
<text x="825.60" y="1325.50" font-size="22" text-anchor="middle" textLength="105.25" lengthAdjust="spacingAndGlyphs">+ literature</text>
<text x="972.50" y="1313.25" font-size="30" text-anchor="middle">109</text>
<text x="825.25" y="1367.50" font-size="30" text-anchor="middle" font-weight="bold">Total</text>
<text x="972.00" y="1367.50" font-size="30" text-anchor="middle" font-weight="bold">287</text>
<rect x="1591.20" y="983.40" width="3.24" height="19.20" fill="#231f20"/>
<line x1="1578.20" y1="993.00" x2="1591.20" y2="993.00" stroke="#231f20" stroke-width="3.6"/>
<text x="1573.20" y="1001.20" font-size="23.4" text-anchor="end" textLength="107.60" lengthAdjust="spacingAndGlyphs">Autophagy</text>
<rect x="1591.20" y="1008.61" width="6.22" height="19.20" fill="#91aecc" stroke="#454547" stroke-width="1.0"/>
<line x1="1578.20" y1="1018.11" x2="1591.20" y2="1018.11" stroke="#231f20" stroke-width="3.6"/>
<text x="1573.20" y="1026.31" font-size="23.4" text-anchor="end" textLength="184.40" lengthAdjust="spacingAndGlyphs">Memb. interacting</text>
<rect x="1591.20" y="1033.72" width="6.22" height="19.20" fill="#91aecc" stroke="#454547" stroke-width="1.0"/>
<line x1="1578.20" y1="1043.22" x2="1591.20" y2="1043.22" stroke="#231f20" stroke-width="3.6"/>
<text x="1573.20" y="1051.42" font-size="23.4" text-anchor="end" textLength="54.10" lengthAdjust="spacingAndGlyphs">Golgi</text>
<rect x="1591.20" y="1058.84" width="8.78" height="19.20" fill="#91aecc" stroke="#454547" stroke-width="1.0"/>
<line x1="1578.20" y1="1068.34" x2="1591.20" y2="1068.34" stroke="#231f20" stroke-width="3.6"/>
<text x="1573.20" y="1076.54" font-size="23.4" text-anchor="end" textLength="78.20" lengthAdjust="spacingAndGlyphs">Polarity</text>
<rect x="1591.20" y="1083.95" width="8.78" height="19.20" fill="#91aecc" stroke="#454547" stroke-width="1.0"/>
<line x1="1578.20" y1="1093.45" x2="1591.20" y2="1093.45" stroke="#231f20" stroke-width="3.6"/>
<text x="1568.80" y="1100.45" font-size="19.5" text-anchor="end" textLength="38.30" lengthAdjust="spacingAndGlyphs">ATP</text>
<rect x="1591.20" y="1109.06" width="8.78" height="19.20" fill="#91aecc" stroke="#454547" stroke-width="1.0"/>
<line x1="1578.20" y1="1118.56" x2="1591.20" y2="1118.56" stroke="#231f20" stroke-width="3.6"/>
<text x="1573.20" y="1126.76" font-size="23.4" text-anchor="end" textLength="198.40" lengthAdjust="spacingAndGlyphs">Adhesion/Migration</text>
<rect x="1591.20" y="1134.17" width="18.23" height="19.20" fill="#91aecc" stroke="#454547" stroke-width="1.0"/>
<line x1="1578.20" y1="1143.67" x2="1591.20" y2="1143.67" stroke="#231f20" stroke-width="3.6"/>
<text x="1573.20" y="1151.88" font-size="23.4" text-anchor="end" textLength="210.70" lengthAdjust="spacingAndGlyphs">Nuclear architecture</text>
<rect x="1591.20" y="1159.19" width="24.20" height="19.20" fill="#231f20"/>
<line x1="1578.20" y1="1168.79" x2="1591.20" y2="1168.79" stroke="#231f20" stroke-width="3.6"/>
<text x="1573.20" y="1176.99" font-size="23.4" text-anchor="end" textLength="57.80" lengthAdjust="spacingAndGlyphs">Other</text>
<rect x="1591.20" y="1184.40" width="29.48" height="19.20" fill="#91aecc" stroke="#454547" stroke-width="1.0"/>
<line x1="1578.20" y1="1193.90" x2="1591.20" y2="1193.90" stroke="#231f20" stroke-width="3.6"/>
<text x="1573.20" y="1202.10" font-size="23.4" text-anchor="end" textLength="210.00" lengthAdjust="spacingAndGlyphs">Ubiquit./Proteasome</text>
<rect x="1591.20" y="1209.41" width="44.73" height="19.20" fill="#231f20"/>
<line x1="1578.20" y1="1219.01" x2="1591.20" y2="1219.01" stroke="#231f20" stroke-width="3.6"/>
<text x="1573.20" y="1227.21" font-size="23.4" text-anchor="end" textLength="121.70" lengthAdjust="spacingAndGlyphs">Metabolism</text>
<rect x="1591.20" y="1234.62" width="53.42" height="19.20" fill="#91aecc" stroke="#454547" stroke-width="1.0"/>
<line x1="1578.20" y1="1244.12" x2="1591.20" y2="1244.12" stroke="#231f20" stroke-width="3.6"/>
<text x="1573.20" y="1252.33" font-size="23.4" text-anchor="end" textLength="94.50" lengthAdjust="spacingAndGlyphs">Signaling</text>
<rect x="1591.20" y="1259.74" width="62.62" height="19.20" fill="#91aecc" stroke="#454547" stroke-width="1.0"/>
<line x1="1578.20" y1="1269.24" x2="1591.20" y2="1269.24" stroke="#231f20" stroke-width="3.6"/>
<text x="1573.20" y="1277.44" font-size="23.4" text-anchor="end" textLength="170.60" lengthAdjust="spacingAndGlyphs">Molecular motor</text>
<rect x="1591.20" y="1284.75" width="65.86" height="19.20" fill="#231f20"/>
<line x1="1578.20" y1="1294.35" x2="1591.20" y2="1294.35" stroke="#231f20" stroke-width="3.6"/>
<text x="1573.20" y="1302.55" font-size="23.4" text-anchor="end" textLength="179.50" lengthAdjust="spacingAndGlyphs">Protein synt./mat.</text>
<rect x="1591.20" y="1309.86" width="80.60" height="19.20" fill="#231f20"/>
<line x1="1578.20" y1="1319.46" x2="1591.20" y2="1319.46" stroke="#231f20" stroke-width="3.6"/>
<text x="1573.20" y="1327.66" font-size="23.4" text-anchor="end" textLength="126.80" lengthAdjust="spacingAndGlyphs">RNA related</text>
<rect x="1591.20" y="1334.97" width="89.46" height="19.20" fill="#231f20"/>
<line x1="1578.20" y1="1344.57" x2="1591.20" y2="1344.57" stroke="#231f20" stroke-width="3.6"/>
<text x="1573.20" y="1352.77" font-size="23.4" text-anchor="end" textLength="126.50" lengthAdjust="spacingAndGlyphs">DNA related</text>
<rect x="1591.20" y="1360.19" width="137.17" height="19.20" fill="#91aecc" stroke="#454547" stroke-width="1.0"/>
<line x1="1578.20" y1="1369.69" x2="1591.20" y2="1369.69" stroke="#231f20" stroke-width="3.6"/>
<text x="1573.20" y="1377.89" font-size="23.4" text-anchor="end" textLength="109.80" lengthAdjust="spacingAndGlyphs">Trafficking</text>
<rect x="1591.20" y="1385.30" width="205.76" height="19.20" fill="#91aecc" stroke="#454547" stroke-width="1.0"/>
<line x1="1578.20" y1="1394.80" x2="1591.20" y2="1394.80" stroke="#231f20" stroke-width="3.6"/>
<text x="1573.20" y="1403.00" font-size="23.4" text-anchor="end" textLength="134.00" lengthAdjust="spacingAndGlyphs">Cytoskeleton</text>
<line x1="1591.20" y1="980.50" x2="1591.20" y2="1419.60" stroke="#231f20" stroke-width="3.7"/>
<line x1="1589.35" y1="1406.80" x2="1805.70" y2="1406.80" stroke="#231f20" stroke-width="3.7"/>
<line x1="1633.80" y1="1406.80" x2="1633.80" y2="1419.60" stroke="#231f20" stroke-width="3.4"/>
<line x1="1676.40" y1="1406.80" x2="1676.40" y2="1419.60" stroke="#231f20" stroke-width="3.4"/>
<line x1="1719.00" y1="1406.80" x2="1719.00" y2="1419.60" stroke="#231f20" stroke-width="3.4"/>
<line x1="1761.60" y1="1406.80" x2="1761.60" y2="1419.60" stroke="#231f20" stroke-width="3.4"/>
<line x1="1804.20" y1="1406.80" x2="1804.20" y2="1419.60" stroke="#231f20" stroke-width="3.4"/>
<text x="1591.20" y="1447.50" font-size="30" text-anchor="middle">0</text>
<text x="1633.80" y="1447.50" font-size="30" text-anchor="middle">5</text>
<text x="1676.40" y="1447.50" font-size="30" text-anchor="middle">10</text>
<text x="1719.00" y="1447.50" font-size="30" text-anchor="middle">15</text>
<text x="1761.60" y="1447.50" font-size="30" text-anchor="middle">20</text>
<text x="1804.20" y="1447.50" font-size="30" text-anchor="middle">25</text>
<text x="1698.00" y="1482.60" font-size="38" text-anchor="middle" textLength="219.50" lengthAdjust="spacingAndGlyphs">% of proteins</text>
</svg>
</body></html>
